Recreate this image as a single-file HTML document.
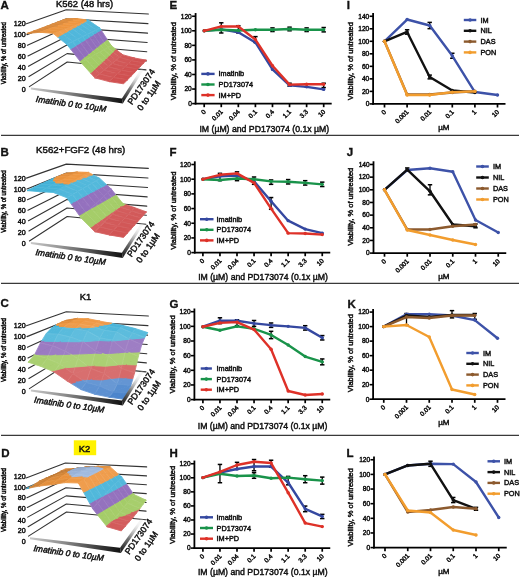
<!DOCTYPE html>
<html><head><meta charset="utf-8"><style>html,body{margin:0;padding:0;background:#fff;width:520px;height:577px;overflow:hidden}svg{display:block;will-change:transform}</style></head>
<body><svg width="520" height="577" viewBox="0 0 520 577" font-family='"Liberation Sans", sans-serif'><line x1="1.00" y1="135.40" x2="519.00" y2="135.40" stroke="#3a3a3a" stroke-width="1.3"/>
<line x1="1.00" y1="283.40" x2="519.00" y2="283.40" stroke="#3a3a3a" stroke-width="1.3"/>
<line x1="1.00" y1="435.40" x2="519.00" y2="435.40" stroke="#3a3a3a" stroke-width="1.3"/>
<line x1="195.60" y1="13.04" x2="195.60" y2="104.50" stroke="#000" stroke-width="1.8"/>
<line x1="194.70" y1="103.60" x2="331.69" y2="103.60" stroke="#000" stroke-width="1.8"/>
<line x1="192.10" y1="103.60" x2="195.60" y2="103.60" stroke="#000" stroke-width="1.6"/>
<text x="191.80" y="105.90" font-size="6.6" text-anchor="end" fill="#111" stroke="#111" stroke-width="0.45">0</text>
<line x1="192.10" y1="89.04" x2="195.60" y2="89.04" stroke="#000" stroke-width="1.6"/>
<text x="191.80" y="91.34" font-size="6.6" text-anchor="end" fill="#111" stroke="#111" stroke-width="0.45">20</text>
<line x1="192.10" y1="74.48" x2="195.60" y2="74.48" stroke="#000" stroke-width="1.6"/>
<text x="191.80" y="76.78" font-size="6.6" text-anchor="end" fill="#111" stroke="#111" stroke-width="0.45">40</text>
<line x1="192.10" y1="59.92" x2="195.60" y2="59.92" stroke="#000" stroke-width="1.6"/>
<text x="191.80" y="62.22" font-size="6.6" text-anchor="end" fill="#111" stroke="#111" stroke-width="0.45">60</text>
<line x1="192.10" y1="45.36" x2="195.60" y2="45.36" stroke="#000" stroke-width="1.6"/>
<text x="191.80" y="47.66" font-size="6.6" text-anchor="end" fill="#111" stroke="#111" stroke-width="0.45">80</text>
<line x1="192.10" y1="30.80" x2="195.60" y2="30.80" stroke="#000" stroke-width="1.6"/>
<text x="191.80" y="33.10" font-size="6.6" text-anchor="end" fill="#111" stroke="#111" stroke-width="0.45">100</text>
<line x1="192.10" y1="16.24" x2="195.60" y2="16.24" stroke="#000" stroke-width="1.6"/>
<text x="191.80" y="18.54" font-size="6.6" text-anchor="end" fill="#111" stroke="#111" stroke-width="0.45">120</text>
<line x1="204.20" y1="103.60" x2="204.20" y2="107.20" stroke="#000" stroke-width="1.7"/>
<text x="206.20" y="112.20" font-size="6.4" text-anchor="end" fill="#111" stroke="#111" stroke-width="0.45" transform="rotate(-45 206.20 112.20)">0</text>
<line x1="221.27" y1="103.60" x2="221.27" y2="107.20" stroke="#000" stroke-width="1.7"/>
<text x="223.27" y="112.20" font-size="6.4" text-anchor="end" fill="#111" stroke="#111" stroke-width="0.45" transform="rotate(-45 223.27 112.20)">0.01</text>
<line x1="238.34" y1="103.60" x2="238.34" y2="107.20" stroke="#000" stroke-width="1.7"/>
<text x="240.34" y="112.20" font-size="6.4" text-anchor="end" fill="#111" stroke="#111" stroke-width="0.45" transform="rotate(-45 240.34 112.20)">0.04</text>
<line x1="255.41" y1="103.60" x2="255.41" y2="107.20" stroke="#000" stroke-width="1.7"/>
<text x="257.41" y="112.20" font-size="6.4" text-anchor="end" fill="#111" stroke="#111" stroke-width="0.45" transform="rotate(-45 257.41 112.20)">0.1</text>
<line x1="272.48" y1="103.60" x2="272.48" y2="107.20" stroke="#000" stroke-width="1.7"/>
<text x="274.48" y="112.20" font-size="6.4" text-anchor="end" fill="#111" stroke="#111" stroke-width="0.45" transform="rotate(-45 274.48 112.20)">0.4</text>
<line x1="289.55" y1="103.60" x2="289.55" y2="107.20" stroke="#000" stroke-width="1.7"/>
<text x="291.55" y="112.20" font-size="6.4" text-anchor="end" fill="#111" stroke="#111" stroke-width="0.45" transform="rotate(-45 291.55 112.20)">1.1</text>
<line x1="306.62" y1="103.60" x2="306.62" y2="107.20" stroke="#000" stroke-width="1.7"/>
<text x="308.62" y="112.20" font-size="6.4" text-anchor="end" fill="#111" stroke="#111" stroke-width="0.45" transform="rotate(-45 308.62 112.20)">3.3</text>
<line x1="323.69" y1="103.60" x2="323.69" y2="107.20" stroke="#000" stroke-width="1.7"/>
<text x="325.69" y="112.20" font-size="6.4" text-anchor="end" fill="#111" stroke="#111" stroke-width="0.45" transform="rotate(-45 325.69 112.20)">10</text>
<text x="175.80" y="61.10" font-size="7.5" text-anchor="middle" fill="#111" stroke="#111" stroke-width="0.45" transform="rotate(-90 175.80 61.10)">Viability, % of untreated</text>
<text x="264.30" y="132.00" font-size="8.7" text-anchor="middle" fill="#111" stroke="#111" stroke-width="0.45">IM (µM) and PD173074 (0.1x µM)</text>
<text x="169.60" y="9.20" font-size="11.5" text-anchor="start" font-weight="bold" fill="#111" stroke="#111" stroke-width="0.35">E</text>
<line x1="221.27" y1="22.79" x2="221.27" y2="32.98" stroke="#000" stroke-width="1.3"/>
<line x1="219.07" y1="22.79" x2="223.47" y2="22.79" stroke="#000" stroke-width="1.5"/>
<line x1="219.07" y1="32.98" x2="223.47" y2="32.98" stroke="#000" stroke-width="1.5"/>
<line x1="238.34" y1="25.70" x2="238.34" y2="32.98" stroke="#000" stroke-width="1.3"/>
<line x1="236.14" y1="25.70" x2="240.54" y2="25.70" stroke="#000" stroke-width="1.5"/>
<line x1="236.14" y1="32.98" x2="240.54" y2="32.98" stroke="#000" stroke-width="1.5"/>
<line x1="255.41" y1="36.62" x2="255.41" y2="42.45" stroke="#000" stroke-width="1.3"/>
<line x1="253.21" y1="36.62" x2="257.61" y2="36.62" stroke="#000" stroke-width="1.5"/>
<line x1="253.21" y1="42.45" x2="257.61" y2="42.45" stroke="#000" stroke-width="1.5"/>
<line x1="289.55" y1="83.22" x2="289.55" y2="86.13" stroke="#000" stroke-width="1.3"/>
<line x1="287.35" y1="83.22" x2="291.75" y2="83.22" stroke="#000" stroke-width="1.5"/>
<line x1="287.35" y1="86.13" x2="291.75" y2="86.13" stroke="#000" stroke-width="1.5"/>
<line x1="306.62" y1="83.94" x2="306.62" y2="86.86" stroke="#000" stroke-width="1.3"/>
<line x1="304.42" y1="83.94" x2="308.82" y2="83.94" stroke="#000" stroke-width="1.5"/>
<line x1="304.42" y1="86.86" x2="308.82" y2="86.86" stroke="#000" stroke-width="1.5"/>
<line x1="323.69" y1="83.22" x2="323.69" y2="87.58" stroke="#000" stroke-width="1.3"/>
<line x1="321.49" y1="83.22" x2="325.89" y2="83.22" stroke="#000" stroke-width="1.5"/>
<line x1="321.49" y1="87.58" x2="325.89" y2="87.58" stroke="#000" stroke-width="1.5"/>
<line x1="272.48" y1="27.89" x2="272.48" y2="31.53" stroke="#000" stroke-width="1.3"/>
<line x1="270.28" y1="27.89" x2="274.68" y2="27.89" stroke="#000" stroke-width="1.5"/>
<line x1="270.28" y1="31.53" x2="274.68" y2="31.53" stroke="#000" stroke-width="1.5"/>
<line x1="289.55" y1="27.16" x2="289.55" y2="30.80" stroke="#000" stroke-width="1.3"/>
<line x1="287.35" y1="27.16" x2="291.75" y2="27.16" stroke="#000" stroke-width="1.5"/>
<line x1="287.35" y1="30.80" x2="291.75" y2="30.80" stroke="#000" stroke-width="1.5"/>
<line x1="306.62" y1="27.89" x2="306.62" y2="31.53" stroke="#000" stroke-width="1.3"/>
<line x1="304.42" y1="27.89" x2="308.82" y2="27.89" stroke="#000" stroke-width="1.5"/>
<line x1="304.42" y1="31.53" x2="308.82" y2="31.53" stroke="#000" stroke-width="1.5"/>
<line x1="323.69" y1="27.52" x2="323.69" y2="31.89" stroke="#000" stroke-width="1.3"/>
<line x1="321.49" y1="27.52" x2="325.89" y2="27.52" stroke="#000" stroke-width="1.5"/>
<line x1="321.49" y1="31.89" x2="325.89" y2="31.89" stroke="#000" stroke-width="1.5"/>
<polyline points="204.20,30.80 221.27,29.34 238.34,32.26 255.41,42.45 272.48,69.38 289.55,85.40 306.62,86.86 323.69,89.40" fill="none" stroke="#3548a0" stroke-width="2.4" stroke-linejoin="round" stroke-linecap="round"/>
<circle cx="204.20" cy="30.80" r="1.7" fill="#3548a0"/>
<circle cx="221.27" cy="29.34" r="1.7" fill="#3548a0"/>
<circle cx="238.34" cy="32.26" r="1.7" fill="#3548a0"/>
<circle cx="255.41" cy="42.45" r="1.7" fill="#3548a0"/>
<circle cx="272.48" cy="69.38" r="1.7" fill="#3548a0"/>
<circle cx="289.55" cy="85.40" r="1.7" fill="#3548a0"/>
<circle cx="306.62" cy="86.86" r="1.7" fill="#3548a0"/>
<circle cx="323.69" cy="89.40" r="1.7" fill="#3548a0"/>
<polyline points="204.20,30.80 221.27,29.71 238.34,30.44 255.41,29.71 272.48,29.71 289.55,28.98 306.62,29.71 323.69,29.71" fill="none" stroke="#19934a" stroke-width="2.4" stroke-linejoin="round" stroke-linecap="round"/>
<circle cx="204.20" cy="30.80" r="1.7" fill="#19934a"/>
<circle cx="221.27" cy="29.71" r="1.7" fill="#19934a"/>
<circle cx="238.34" cy="30.44" r="1.7" fill="#19934a"/>
<circle cx="255.41" cy="29.71" r="1.7" fill="#19934a"/>
<circle cx="272.48" cy="29.71" r="1.7" fill="#19934a"/>
<circle cx="289.55" cy="28.98" r="1.7" fill="#19934a"/>
<circle cx="306.62" cy="29.71" r="1.7" fill="#19934a"/>
<circle cx="323.69" cy="29.71" r="1.7" fill="#19934a"/>
<polyline points="204.20,30.80 221.27,26.43 238.34,26.43 255.41,39.54 272.48,65.74 289.55,84.67 306.62,84.31 323.69,84.31" fill="none" stroke="#de3128" stroke-width="2.4" stroke-linejoin="round" stroke-linecap="round"/>
<circle cx="204.20" cy="30.80" r="1.7" fill="#de3128"/>
<circle cx="221.27" cy="26.43" r="1.7" fill="#de3128"/>
<circle cx="238.34" cy="26.43" r="1.7" fill="#de3128"/>
<circle cx="255.41" cy="39.54" r="1.7" fill="#de3128"/>
<circle cx="272.48" cy="65.74" r="1.7" fill="#de3128"/>
<circle cx="289.55" cy="84.67" r="1.7" fill="#de3128"/>
<circle cx="306.62" cy="84.31" r="1.7" fill="#de3128"/>
<circle cx="323.69" cy="84.31" r="1.7" fill="#de3128"/>
<line x1="201.30" y1="73.90" x2="214.60" y2="73.90" stroke="#3548a0" stroke-width="2.4"/>
<circle cx="207.95" cy="73.90" r="1.8" fill="#3548a0"/>
<text x="218.60" y="76.40" font-size="7.3" text-anchor="start" fill="#111" stroke="#111" stroke-width="0.45">Imatinib</text>
<line x1="201.30" y1="84.50" x2="214.60" y2="84.50" stroke="#19934a" stroke-width="2.4"/>
<circle cx="207.95" cy="84.50" r="1.8" fill="#19934a"/>
<text x="218.60" y="87.00" font-size="7.3" text-anchor="start" fill="#111" stroke="#111" stroke-width="0.45">PD173074</text>
<line x1="201.30" y1="95.10" x2="214.60" y2="95.10" stroke="#de3128" stroke-width="2.4"/>
<circle cx="207.95" cy="95.10" r="1.8" fill="#de3128"/>
<text x="218.60" y="97.60" font-size="7.3" text-anchor="start" fill="#111" stroke="#111" stroke-width="0.45">IM+PD</text>
<line x1="194.80" y1="161.32" x2="194.80" y2="253.50" stroke="#000" stroke-width="1.8"/>
<line x1="193.90" y1="252.60" x2="330.25" y2="252.60" stroke="#000" stroke-width="1.8"/>
<line x1="191.30" y1="252.60" x2="194.80" y2="252.60" stroke="#000" stroke-width="1.6"/>
<text x="191.00" y="254.90" font-size="6.6" text-anchor="end" fill="#111" stroke="#111" stroke-width="0.45">0</text>
<line x1="191.30" y1="237.92" x2="194.80" y2="237.92" stroke="#000" stroke-width="1.6"/>
<text x="191.00" y="240.22" font-size="6.6" text-anchor="end" fill="#111" stroke="#111" stroke-width="0.45">20</text>
<line x1="191.30" y1="223.24" x2="194.80" y2="223.24" stroke="#000" stroke-width="1.6"/>
<text x="191.00" y="225.54" font-size="6.6" text-anchor="end" fill="#111" stroke="#111" stroke-width="0.45">40</text>
<line x1="191.30" y1="208.56" x2="194.80" y2="208.56" stroke="#000" stroke-width="1.6"/>
<text x="191.00" y="210.86" font-size="6.6" text-anchor="end" fill="#111" stroke="#111" stroke-width="0.45">60</text>
<line x1="191.30" y1="193.88" x2="194.80" y2="193.88" stroke="#000" stroke-width="1.6"/>
<text x="191.00" y="196.18" font-size="6.6" text-anchor="end" fill="#111" stroke="#111" stroke-width="0.45">80</text>
<line x1="191.30" y1="179.20" x2="194.80" y2="179.20" stroke="#000" stroke-width="1.6"/>
<text x="191.00" y="181.50" font-size="6.6" text-anchor="end" fill="#111" stroke="#111" stroke-width="0.45">100</text>
<line x1="191.30" y1="164.52" x2="194.80" y2="164.52" stroke="#000" stroke-width="1.6"/>
<text x="191.00" y="166.82" font-size="6.6" text-anchor="end" fill="#111" stroke="#111" stroke-width="0.45">120</text>
<line x1="202.90" y1="252.60" x2="202.90" y2="256.20" stroke="#000" stroke-width="1.7"/>
<text x="204.90" y="261.20" font-size="6.4" text-anchor="end" fill="#111" stroke="#111" stroke-width="0.45" transform="rotate(-45 204.90 261.20)">0</text>
<line x1="219.95" y1="252.60" x2="219.95" y2="256.20" stroke="#000" stroke-width="1.7"/>
<text x="221.95" y="261.20" font-size="6.4" text-anchor="end" fill="#111" stroke="#111" stroke-width="0.45" transform="rotate(-45 221.95 261.20)">0.01</text>
<line x1="237.00" y1="252.60" x2="237.00" y2="256.20" stroke="#000" stroke-width="1.7"/>
<text x="239.00" y="261.20" font-size="6.4" text-anchor="end" fill="#111" stroke="#111" stroke-width="0.45" transform="rotate(-45 239.00 261.20)">0.04</text>
<line x1="254.05" y1="252.60" x2="254.05" y2="256.20" stroke="#000" stroke-width="1.7"/>
<text x="256.05" y="261.20" font-size="6.4" text-anchor="end" fill="#111" stroke="#111" stroke-width="0.45" transform="rotate(-45 256.05 261.20)">0.1</text>
<line x1="271.10" y1="252.60" x2="271.10" y2="256.20" stroke="#000" stroke-width="1.7"/>
<text x="273.10" y="261.20" font-size="6.4" text-anchor="end" fill="#111" stroke="#111" stroke-width="0.45" transform="rotate(-45 273.10 261.20)">0.4</text>
<line x1="288.15" y1="252.60" x2="288.15" y2="256.20" stroke="#000" stroke-width="1.7"/>
<text x="290.15" y="261.20" font-size="6.4" text-anchor="end" fill="#111" stroke="#111" stroke-width="0.45" transform="rotate(-45 290.15 261.20)">1.1</text>
<line x1="305.20" y1="252.60" x2="305.20" y2="256.20" stroke="#000" stroke-width="1.7"/>
<text x="307.20" y="261.20" font-size="6.4" text-anchor="end" fill="#111" stroke="#111" stroke-width="0.45" transform="rotate(-45 307.20 261.20)">3.3</text>
<line x1="322.25" y1="252.60" x2="322.25" y2="256.20" stroke="#000" stroke-width="1.7"/>
<text x="324.25" y="261.20" font-size="6.4" text-anchor="end" fill="#111" stroke="#111" stroke-width="0.45" transform="rotate(-45 324.25 261.20)">10</text>
<text x="176.00" y="210.70" font-size="7.5" text-anchor="middle" fill="#111" stroke="#111" stroke-width="0.45" transform="rotate(-90 176.00 210.70)">Viability, % of untreated</text>
<text x="263.00" y="280.00" font-size="8.7" text-anchor="middle" fill="#111" stroke="#111" stroke-width="0.45">IM (µM) and PD173074 (0.1x µM)</text>
<text x="169.60" y="156.30" font-size="11.5" text-anchor="start" font-weight="bold" fill="#111" stroke="#111" stroke-width="0.35">F</text>
<line x1="219.95" y1="173.33" x2="219.95" y2="180.67" stroke="#000" stroke-width="1.3"/>
<line x1="217.75" y1="173.33" x2="222.15" y2="173.33" stroke="#000" stroke-width="1.5"/>
<line x1="217.75" y1="180.67" x2="222.15" y2="180.67" stroke="#000" stroke-width="1.5"/>
<line x1="237.00" y1="171.86" x2="237.00" y2="180.67" stroke="#000" stroke-width="1.3"/>
<line x1="234.80" y1="171.86" x2="239.20" y2="171.86" stroke="#000" stroke-width="1.5"/>
<line x1="234.80" y1="180.67" x2="239.20" y2="180.67" stroke="#000" stroke-width="1.5"/>
<line x1="254.05" y1="177.00" x2="254.05" y2="184.34" stroke="#000" stroke-width="1.3"/>
<line x1="251.85" y1="177.00" x2="256.25" y2="177.00" stroke="#000" stroke-width="1.5"/>
<line x1="251.85" y1="184.34" x2="256.25" y2="184.34" stroke="#000" stroke-width="1.5"/>
<line x1="271.10" y1="197.55" x2="271.10" y2="209.29" stroke="#000" stroke-width="1.3"/>
<line x1="268.90" y1="197.55" x2="273.30" y2="197.55" stroke="#000" stroke-width="1.5"/>
<line x1="268.90" y1="209.29" x2="273.30" y2="209.29" stroke="#000" stroke-width="1.5"/>
<line x1="271.10" y1="179.93" x2="271.10" y2="184.34" stroke="#000" stroke-width="1.3"/>
<line x1="268.90" y1="179.93" x2="273.30" y2="179.93" stroke="#000" stroke-width="1.5"/>
<line x1="268.90" y1="184.34" x2="273.30" y2="184.34" stroke="#000" stroke-width="1.5"/>
<line x1="288.15" y1="179.57" x2="288.15" y2="183.97" stroke="#000" stroke-width="1.3"/>
<line x1="285.95" y1="179.57" x2="290.35" y2="179.57" stroke="#000" stroke-width="1.5"/>
<line x1="285.95" y1="183.97" x2="290.35" y2="183.97" stroke="#000" stroke-width="1.5"/>
<line x1="305.20" y1="180.67" x2="305.20" y2="185.07" stroke="#000" stroke-width="1.3"/>
<line x1="303.00" y1="180.67" x2="307.40" y2="180.67" stroke="#000" stroke-width="1.5"/>
<line x1="303.00" y1="185.07" x2="307.40" y2="185.07" stroke="#000" stroke-width="1.5"/>
<line x1="322.25" y1="182.14" x2="322.25" y2="186.54" stroke="#000" stroke-width="1.3"/>
<line x1="320.05" y1="182.14" x2="324.45" y2="182.14" stroke="#000" stroke-width="1.5"/>
<line x1="320.05" y1="186.54" x2="324.45" y2="186.54" stroke="#000" stroke-width="1.5"/>
<polyline points="202.90,179.20 219.95,176.26 237.00,175.53 254.05,181.40 271.10,201.22 288.15,220.67 305.20,229.11 322.25,233.15" fill="none" stroke="#3548a0" stroke-width="2.4" stroke-linejoin="round" stroke-linecap="round"/>
<circle cx="202.90" cy="179.20" r="1.7" fill="#3548a0"/>
<circle cx="219.95" cy="176.26" r="1.7" fill="#3548a0"/>
<circle cx="237.00" cy="175.53" r="1.7" fill="#3548a0"/>
<circle cx="254.05" cy="181.40" r="1.7" fill="#3548a0"/>
<circle cx="271.10" cy="201.22" r="1.7" fill="#3548a0"/>
<circle cx="288.15" cy="220.67" r="1.7" fill="#3548a0"/>
<circle cx="305.20" cy="229.11" r="1.7" fill="#3548a0"/>
<circle cx="322.25" cy="233.15" r="1.7" fill="#3548a0"/>
<polyline points="202.90,179.20 219.95,179.93 237.00,178.47 254.05,179.20 271.10,181.40 288.15,181.77 305.20,182.87 322.25,184.34" fill="none" stroke="#19934a" stroke-width="2.4" stroke-linejoin="round" stroke-linecap="round"/>
<circle cx="202.90" cy="179.20" r="1.7" fill="#19934a"/>
<circle cx="219.95" cy="179.93" r="1.7" fill="#19934a"/>
<circle cx="237.00" cy="178.47" r="1.7" fill="#19934a"/>
<circle cx="254.05" cy="179.20" r="1.7" fill="#19934a"/>
<circle cx="271.10" cy="181.40" r="1.7" fill="#19934a"/>
<circle cx="288.15" cy="181.77" r="1.7" fill="#19934a"/>
<circle cx="305.20" cy="182.87" r="1.7" fill="#19934a"/>
<circle cx="322.25" cy="184.34" r="1.7" fill="#19934a"/>
<polyline points="202.90,179.20 219.95,174.80 237.00,173.33 254.05,182.87 271.10,208.56 288.15,233.15 305.20,233.52 322.25,234.62" fill="none" stroke="#de3128" stroke-width="2.4" stroke-linejoin="round" stroke-linecap="round"/>
<circle cx="202.90" cy="179.20" r="1.7" fill="#de3128"/>
<circle cx="219.95" cy="174.80" r="1.7" fill="#de3128"/>
<circle cx="237.00" cy="173.33" r="1.7" fill="#de3128"/>
<circle cx="254.05" cy="182.87" r="1.7" fill="#de3128"/>
<circle cx="271.10" cy="208.56" r="1.7" fill="#de3128"/>
<circle cx="288.15" cy="233.15" r="1.7" fill="#de3128"/>
<circle cx="305.20" cy="233.52" r="1.7" fill="#de3128"/>
<circle cx="322.25" cy="234.62" r="1.7" fill="#de3128"/>
<line x1="200.00" y1="219.20" x2="213.50" y2="219.20" stroke="#3548a0" stroke-width="2.4"/>
<circle cx="206.75" cy="219.20" r="1.8" fill="#3548a0"/>
<text x="216.60" y="221.70" font-size="7.3" text-anchor="start" fill="#111" stroke="#111" stroke-width="0.45">Imatinib</text>
<line x1="200.00" y1="229.80" x2="213.50" y2="229.80" stroke="#19934a" stroke-width="2.4"/>
<circle cx="206.75" cy="229.80" r="1.8" fill="#19934a"/>
<text x="216.60" y="232.30" font-size="7.3" text-anchor="start" fill="#111" stroke="#111" stroke-width="0.45">PD173074</text>
<line x1="200.00" y1="240.40" x2="213.50" y2="240.40" stroke="#de3128" stroke-width="2.4"/>
<circle cx="206.75" cy="240.40" r="1.8" fill="#de3128"/>
<text x="216.60" y="242.90" font-size="7.3" text-anchor="start" fill="#111" stroke="#111" stroke-width="0.45">IM+PD</text>
<line x1="194.40" y1="308.50" x2="194.40" y2="400.50" stroke="#000" stroke-width="1.8"/>
<line x1="193.50" y1="399.60" x2="330.25" y2="399.60" stroke="#000" stroke-width="1.8"/>
<line x1="190.90" y1="399.60" x2="194.40" y2="399.60" stroke="#000" stroke-width="1.6"/>
<text x="190.60" y="401.90" font-size="6.6" text-anchor="end" fill="#111" stroke="#111" stroke-width="0.45">0</text>
<line x1="190.90" y1="384.95" x2="194.40" y2="384.95" stroke="#000" stroke-width="1.6"/>
<text x="190.60" y="387.25" font-size="6.6" text-anchor="end" fill="#111" stroke="#111" stroke-width="0.45">20</text>
<line x1="190.90" y1="370.30" x2="194.40" y2="370.30" stroke="#000" stroke-width="1.6"/>
<text x="190.60" y="372.60" font-size="6.6" text-anchor="end" fill="#111" stroke="#111" stroke-width="0.45">40</text>
<line x1="190.90" y1="355.65" x2="194.40" y2="355.65" stroke="#000" stroke-width="1.6"/>
<text x="190.60" y="357.95" font-size="6.6" text-anchor="end" fill="#111" stroke="#111" stroke-width="0.45">60</text>
<line x1="190.90" y1="341.00" x2="194.40" y2="341.00" stroke="#000" stroke-width="1.6"/>
<text x="190.60" y="343.30" font-size="6.6" text-anchor="end" fill="#111" stroke="#111" stroke-width="0.45">80</text>
<line x1="190.90" y1="326.35" x2="194.40" y2="326.35" stroke="#000" stroke-width="1.6"/>
<text x="190.60" y="328.65" font-size="6.6" text-anchor="end" fill="#111" stroke="#111" stroke-width="0.45">100</text>
<line x1="190.90" y1="311.70" x2="194.40" y2="311.70" stroke="#000" stroke-width="1.6"/>
<text x="190.60" y="314.00" font-size="6.6" text-anchor="end" fill="#111" stroke="#111" stroke-width="0.45">120</text>
<line x1="202.90" y1="399.60" x2="202.90" y2="403.20" stroke="#000" stroke-width="1.7"/>
<text x="204.90" y="408.20" font-size="6.4" text-anchor="end" fill="#111" stroke="#111" stroke-width="0.45" transform="rotate(-45 204.90 408.20)">0</text>
<line x1="219.95" y1="399.60" x2="219.95" y2="403.20" stroke="#000" stroke-width="1.7"/>
<text x="221.95" y="408.20" font-size="6.4" text-anchor="end" fill="#111" stroke="#111" stroke-width="0.45" transform="rotate(-45 221.95 408.20)">0.01</text>
<line x1="237.00" y1="399.60" x2="237.00" y2="403.20" stroke="#000" stroke-width="1.7"/>
<text x="239.00" y="408.20" font-size="6.4" text-anchor="end" fill="#111" stroke="#111" stroke-width="0.45" transform="rotate(-45 239.00 408.20)">0.04</text>
<line x1="254.05" y1="399.60" x2="254.05" y2="403.20" stroke="#000" stroke-width="1.7"/>
<text x="256.05" y="408.20" font-size="6.4" text-anchor="end" fill="#111" stroke="#111" stroke-width="0.45" transform="rotate(-45 256.05 408.20)">0.1</text>
<line x1="271.10" y1="399.60" x2="271.10" y2="403.20" stroke="#000" stroke-width="1.7"/>
<text x="273.10" y="408.20" font-size="6.4" text-anchor="end" fill="#111" stroke="#111" stroke-width="0.45" transform="rotate(-45 273.10 408.20)">0.4</text>
<line x1="288.15" y1="399.60" x2="288.15" y2="403.20" stroke="#000" stroke-width="1.7"/>
<text x="290.15" y="408.20" font-size="6.4" text-anchor="end" fill="#111" stroke="#111" stroke-width="0.45" transform="rotate(-45 290.15 408.20)">1.1</text>
<line x1="305.20" y1="399.60" x2="305.20" y2="403.20" stroke="#000" stroke-width="1.7"/>
<text x="307.20" y="408.20" font-size="6.4" text-anchor="end" fill="#111" stroke="#111" stroke-width="0.45" transform="rotate(-45 307.20 408.20)">3.3</text>
<line x1="322.25" y1="399.60" x2="322.25" y2="403.20" stroke="#000" stroke-width="1.7"/>
<text x="324.25" y="408.20" font-size="6.4" text-anchor="end" fill="#111" stroke="#111" stroke-width="0.45" transform="rotate(-45 324.25 408.20)">10</text>
<text x="175.00" y="354.40" font-size="7.5" text-anchor="middle" fill="#111" stroke="#111" stroke-width="0.45" transform="rotate(-90 175.00 354.40)">Viability, % of untreated</text>
<text x="262.60" y="428.50" font-size="8.7" text-anchor="middle" fill="#111" stroke="#111" stroke-width="0.45">IM (µM) and PD173074 (0.1x µM)</text>
<text x="169.60" y="307.50" font-size="11.5" text-anchor="start" font-weight="bold" fill="#111" stroke="#111" stroke-width="0.35">G</text>
<line x1="219.95" y1="317.78" x2="219.95" y2="323.64" stroke="#000" stroke-width="1.3"/>
<line x1="217.75" y1="317.78" x2="222.15" y2="317.78" stroke="#000" stroke-width="1.5"/>
<line x1="217.75" y1="323.64" x2="222.15" y2="323.64" stroke="#000" stroke-width="1.5"/>
<line x1="237.00" y1="319.76" x2="237.00" y2="325.62" stroke="#000" stroke-width="1.3"/>
<line x1="234.80" y1="319.76" x2="239.20" y2="319.76" stroke="#000" stroke-width="1.5"/>
<line x1="234.80" y1="325.62" x2="239.20" y2="325.62" stroke="#000" stroke-width="1.5"/>
<line x1="254.05" y1="320.49" x2="254.05" y2="326.35" stroke="#000" stroke-width="1.3"/>
<line x1="251.85" y1="320.49" x2="256.25" y2="320.49" stroke="#000" stroke-width="1.5"/>
<line x1="251.85" y1="326.35" x2="256.25" y2="326.35" stroke="#000" stroke-width="1.5"/>
<line x1="271.10" y1="322.98" x2="271.10" y2="327.38" stroke="#000" stroke-width="1.3"/>
<line x1="268.90" y1="322.98" x2="273.30" y2="322.98" stroke="#000" stroke-width="1.5"/>
<line x1="268.90" y1="327.38" x2="273.30" y2="327.38" stroke="#000" stroke-width="1.5"/>
<line x1="305.20" y1="325.69" x2="305.20" y2="330.09" stroke="#000" stroke-width="1.3"/>
<line x1="303.00" y1="325.69" x2="307.40" y2="325.69" stroke="#000" stroke-width="1.5"/>
<line x1="303.00" y1="330.09" x2="307.40" y2="330.09" stroke="#000" stroke-width="1.5"/>
<line x1="322.25" y1="335.58" x2="322.25" y2="339.97" stroke="#000" stroke-width="1.3"/>
<line x1="320.05" y1="335.58" x2="324.45" y2="335.58" stroke="#000" stroke-width="1.5"/>
<line x1="320.05" y1="339.97" x2="324.45" y2="339.97" stroke="#000" stroke-width="1.5"/>
<line x1="271.10" y1="331.33" x2="271.10" y2="338.66" stroke="#000" stroke-width="1.3"/>
<line x1="268.90" y1="331.33" x2="273.30" y2="331.33" stroke="#000" stroke-width="1.5"/>
<line x1="268.90" y1="338.66" x2="273.30" y2="338.66" stroke="#000" stroke-width="1.5"/>
<line x1="322.25" y1="358.95" x2="322.25" y2="364.81" stroke="#000" stroke-width="1.3"/>
<line x1="320.05" y1="358.95" x2="324.45" y2="358.95" stroke="#000" stroke-width="1.5"/>
<line x1="320.05" y1="364.81" x2="324.45" y2="364.81" stroke="#000" stroke-width="1.5"/>
<polyline points="202.90,326.72 219.95,320.71 237.00,320.71 254.05,323.42 271.10,325.18 288.15,326.35 305.20,327.89 322.25,337.78" fill="none" stroke="#3548a0" stroke-width="2.4" stroke-linejoin="round" stroke-linecap="round"/>
<circle cx="202.90" cy="326.72" r="1.7" fill="#3548a0"/>
<circle cx="219.95" cy="320.71" r="1.7" fill="#3548a0"/>
<circle cx="237.00" cy="320.71" r="1.7" fill="#3548a0"/>
<circle cx="254.05" cy="323.42" r="1.7" fill="#3548a0"/>
<circle cx="271.10" cy="325.18" r="1.7" fill="#3548a0"/>
<circle cx="288.15" cy="326.35" r="1.7" fill="#3548a0"/>
<circle cx="305.20" cy="327.89" r="1.7" fill="#3548a0"/>
<circle cx="322.25" cy="337.78" r="1.7" fill="#3548a0"/>
<polyline points="202.90,326.72 219.95,330.23 237.00,326.35 254.05,328.77 271.10,334.99 288.15,345.03 305.20,356.53 322.25,361.88" fill="none" stroke="#19934a" stroke-width="2.4" stroke-linejoin="round" stroke-linecap="round"/>
<circle cx="202.90" cy="326.72" r="1.7" fill="#19934a"/>
<circle cx="219.95" cy="330.23" r="1.7" fill="#19934a"/>
<circle cx="237.00" cy="326.35" r="1.7" fill="#19934a"/>
<circle cx="254.05" cy="328.77" r="1.7" fill="#19934a"/>
<circle cx="271.10" cy="334.99" r="1.7" fill="#19934a"/>
<circle cx="288.15" cy="345.03" r="1.7" fill="#19934a"/>
<circle cx="305.20" cy="356.53" r="1.7" fill="#19934a"/>
<circle cx="322.25" cy="361.88" r="1.7" fill="#19934a"/>
<polyline points="202.90,326.72 219.95,322.91 237.00,322.10 254.05,329.57 271.10,349.28 288.15,391.03 305.20,394.99 322.25,394.03" fill="none" stroke="#de3128" stroke-width="2.4" stroke-linejoin="round" stroke-linecap="round"/>
<circle cx="202.90" cy="326.72" r="1.7" fill="#de3128"/>
<circle cx="219.95" cy="322.91" r="1.7" fill="#de3128"/>
<circle cx="237.00" cy="322.10" r="1.7" fill="#de3128"/>
<circle cx="254.05" cy="329.57" r="1.7" fill="#de3128"/>
<circle cx="271.10" cy="349.28" r="1.7" fill="#de3128"/>
<circle cx="288.15" cy="391.03" r="1.7" fill="#de3128"/>
<circle cx="305.20" cy="394.99" r="1.7" fill="#de3128"/>
<circle cx="322.25" cy="394.03" r="1.7" fill="#de3128"/>
<line x1="200.70" y1="368.50" x2="211.90" y2="368.50" stroke="#3548a0" stroke-width="2.4"/>
<circle cx="206.30" cy="368.50" r="1.8" fill="#3548a0"/>
<text x="216.60" y="371.00" font-size="7.3" text-anchor="start" fill="#111" stroke="#111" stroke-width="0.45">Imatinib</text>
<line x1="200.70" y1="379.10" x2="211.90" y2="379.10" stroke="#19934a" stroke-width="2.4"/>
<circle cx="206.30" cy="379.10" r="1.8" fill="#19934a"/>
<text x="216.60" y="381.60" font-size="7.3" text-anchor="start" fill="#111" stroke="#111" stroke-width="0.45">PD173074</text>
<line x1="200.70" y1="389.70" x2="211.90" y2="389.70" stroke="#de3128" stroke-width="2.4"/>
<circle cx="206.30" cy="389.70" r="1.8" fill="#de3128"/>
<text x="216.60" y="392.20" font-size="7.3" text-anchor="start" fill="#111" stroke="#111" stroke-width="0.45">IM+PD</text>
<line x1="194.40" y1="460.54" x2="194.40" y2="549.00" stroke="#000" stroke-width="1.8"/>
<line x1="193.50" y1="548.10" x2="330.25" y2="548.10" stroke="#000" stroke-width="1.8"/>
<line x1="190.90" y1="548.10" x2="194.40" y2="548.10" stroke="#000" stroke-width="1.6"/>
<text x="190.60" y="550.40" font-size="6.6" text-anchor="end" fill="#111" stroke="#111" stroke-width="0.45">0</text>
<line x1="190.90" y1="534.04" x2="194.40" y2="534.04" stroke="#000" stroke-width="1.6"/>
<text x="190.60" y="536.34" font-size="6.6" text-anchor="end" fill="#111" stroke="#111" stroke-width="0.45">20</text>
<line x1="190.90" y1="519.98" x2="194.40" y2="519.98" stroke="#000" stroke-width="1.6"/>
<text x="190.60" y="522.28" font-size="6.6" text-anchor="end" fill="#111" stroke="#111" stroke-width="0.45">40</text>
<line x1="190.90" y1="505.92" x2="194.40" y2="505.92" stroke="#000" stroke-width="1.6"/>
<text x="190.60" y="508.22" font-size="6.6" text-anchor="end" fill="#111" stroke="#111" stroke-width="0.45">60</text>
<line x1="190.90" y1="491.86" x2="194.40" y2="491.86" stroke="#000" stroke-width="1.6"/>
<text x="190.60" y="494.16" font-size="6.6" text-anchor="end" fill="#111" stroke="#111" stroke-width="0.45">80</text>
<line x1="190.90" y1="477.80" x2="194.40" y2="477.80" stroke="#000" stroke-width="1.6"/>
<text x="190.60" y="480.10" font-size="6.6" text-anchor="end" fill="#111" stroke="#111" stroke-width="0.45">100</text>
<line x1="190.90" y1="463.74" x2="194.40" y2="463.74" stroke="#000" stroke-width="1.6"/>
<text x="190.60" y="466.04" font-size="6.6" text-anchor="end" fill="#111" stroke="#111" stroke-width="0.45">120</text>
<line x1="202.90" y1="548.10" x2="202.90" y2="551.70" stroke="#000" stroke-width="1.7"/>
<text x="204.90" y="556.70" font-size="6.4" text-anchor="end" fill="#111" stroke="#111" stroke-width="0.45" transform="rotate(-45 204.90 556.70)">0</text>
<line x1="219.95" y1="548.10" x2="219.95" y2="551.70" stroke="#000" stroke-width="1.7"/>
<text x="221.95" y="556.70" font-size="6.4" text-anchor="end" fill="#111" stroke="#111" stroke-width="0.45" transform="rotate(-45 221.95 556.70)">0.01</text>
<line x1="237.00" y1="548.10" x2="237.00" y2="551.70" stroke="#000" stroke-width="1.7"/>
<text x="239.00" y="556.70" font-size="6.4" text-anchor="end" fill="#111" stroke="#111" stroke-width="0.45" transform="rotate(-45 239.00 556.70)">0.04</text>
<line x1="254.05" y1="548.10" x2="254.05" y2="551.70" stroke="#000" stroke-width="1.7"/>
<text x="256.05" y="556.70" font-size="6.4" text-anchor="end" fill="#111" stroke="#111" stroke-width="0.45" transform="rotate(-45 256.05 556.70)">0.1</text>
<line x1="271.10" y1="548.10" x2="271.10" y2="551.70" stroke="#000" stroke-width="1.7"/>
<text x="273.10" y="556.70" font-size="6.4" text-anchor="end" fill="#111" stroke="#111" stroke-width="0.45" transform="rotate(-45 273.10 556.70)">0.4</text>
<line x1="288.15" y1="548.10" x2="288.15" y2="551.70" stroke="#000" stroke-width="1.7"/>
<text x="290.15" y="556.70" font-size="6.4" text-anchor="end" fill="#111" stroke="#111" stroke-width="0.45" transform="rotate(-45 290.15 556.70)">1.1</text>
<line x1="305.20" y1="548.10" x2="305.20" y2="551.70" stroke="#000" stroke-width="1.7"/>
<text x="307.20" y="556.70" font-size="6.4" text-anchor="end" fill="#111" stroke="#111" stroke-width="0.45" transform="rotate(-45 307.20 556.70)">3.3</text>
<line x1="322.25" y1="548.10" x2="322.25" y2="551.70" stroke="#000" stroke-width="1.7"/>
<text x="324.25" y="556.70" font-size="6.4" text-anchor="end" fill="#111" stroke="#111" stroke-width="0.45" transform="rotate(-45 324.25 556.70)">10</text>
<text x="175.20" y="504.90" font-size="7.5" text-anchor="middle" fill="#111" stroke="#111" stroke-width="0.45" transform="rotate(-90 175.20 504.90)">Viability, % of untreated</text>
<text x="262.80" y="575.30" font-size="8.7" text-anchor="middle" fill="#111" stroke="#111" stroke-width="0.45">IM (µM) and PD173074 (0.1x µM)</text>
<text x="169.40" y="456.70" font-size="11.5" text-anchor="start" font-weight="bold" fill="#111" stroke="#111" stroke-width="0.35">H</text>
<line x1="219.95" y1="464.44" x2="219.95" y2="482.72" stroke="#000" stroke-width="1.3"/>
<line x1="217.75" y1="464.44" x2="222.15" y2="464.44" stroke="#000" stroke-width="1.5"/>
<line x1="217.75" y1="482.72" x2="222.15" y2="482.72" stroke="#000" stroke-width="1.5"/>
<line x1="237.00" y1="462.33" x2="237.00" y2="469.36" stroke="#000" stroke-width="1.3"/>
<line x1="234.80" y1="462.33" x2="239.20" y2="462.33" stroke="#000" stroke-width="1.5"/>
<line x1="234.80" y1="469.36" x2="239.20" y2="469.36" stroke="#000" stroke-width="1.5"/>
<line x1="254.05" y1="459.52" x2="254.05" y2="470.77" stroke="#000" stroke-width="1.3"/>
<line x1="251.85" y1="459.52" x2="256.25" y2="459.52" stroke="#000" stroke-width="1.5"/>
<line x1="251.85" y1="470.77" x2="256.25" y2="470.77" stroke="#000" stroke-width="1.5"/>
<line x1="254.05" y1="472.67" x2="254.05" y2="478.29" stroke="#000" stroke-width="1.3"/>
<line x1="251.85" y1="472.67" x2="256.25" y2="472.67" stroke="#000" stroke-width="1.5"/>
<line x1="251.85" y1="478.29" x2="256.25" y2="478.29" stroke="#000" stroke-width="1.5"/>
<line x1="271.10" y1="460.23" x2="271.10" y2="467.25" stroke="#000" stroke-width="1.3"/>
<line x1="268.90" y1="460.23" x2="273.30" y2="460.23" stroke="#000" stroke-width="1.5"/>
<line x1="268.90" y1="467.25" x2="273.30" y2="467.25" stroke="#000" stroke-width="1.5"/>
<line x1="288.15" y1="476.39" x2="288.15" y2="484.83" stroke="#000" stroke-width="1.3"/>
<line x1="285.95" y1="476.39" x2="290.35" y2="476.39" stroke="#000" stroke-width="1.5"/>
<line x1="285.95" y1="484.83" x2="290.35" y2="484.83" stroke="#000" stroke-width="1.5"/>
<line x1="305.20" y1="475.69" x2="305.20" y2="482.72" stroke="#000" stroke-width="1.3"/>
<line x1="303.00" y1="475.69" x2="307.40" y2="475.69" stroke="#000" stroke-width="1.5"/>
<line x1="303.00" y1="482.72" x2="307.40" y2="482.72" stroke="#000" stroke-width="1.5"/>
<line x1="305.20" y1="506.06" x2="305.20" y2="511.68" stroke="#000" stroke-width="1.3"/>
<line x1="303.00" y1="506.06" x2="307.40" y2="506.06" stroke="#000" stroke-width="1.5"/>
<line x1="303.00" y1="511.68" x2="307.40" y2="511.68" stroke="#000" stroke-width="1.5"/>
<line x1="322.25" y1="477.10" x2="322.25" y2="484.13" stroke="#000" stroke-width="1.3"/>
<line x1="320.05" y1="477.10" x2="324.45" y2="477.10" stroke="#000" stroke-width="1.5"/>
<line x1="320.05" y1="484.13" x2="324.45" y2="484.13" stroke="#000" stroke-width="1.5"/>
<line x1="322.25" y1="514.36" x2="322.25" y2="518.57" stroke="#000" stroke-width="1.3"/>
<line x1="320.05" y1="514.36" x2="324.45" y2="514.36" stroke="#000" stroke-width="1.5"/>
<line x1="320.05" y1="518.57" x2="324.45" y2="518.57" stroke="#000" stroke-width="1.5"/>
<polyline points="202.90,477.59 219.95,472.53 237.00,469.01 254.05,466.55 271.10,466.55 288.15,482.51 305.20,508.87 322.25,516.47" fill="none" stroke="#3548a0" stroke-width="2.4" stroke-linejoin="round" stroke-linecap="round"/>
<circle cx="202.90" cy="477.59" r="1.7" fill="#3548a0"/>
<circle cx="219.95" cy="472.53" r="1.7" fill="#3548a0"/>
<circle cx="237.00" cy="469.01" r="1.7" fill="#3548a0"/>
<circle cx="254.05" cy="466.55" r="1.7" fill="#3548a0"/>
<circle cx="271.10" cy="466.55" r="1.7" fill="#3548a0"/>
<circle cx="288.15" cy="482.51" r="1.7" fill="#3548a0"/>
<circle cx="305.20" cy="508.87" r="1.7" fill="#3548a0"/>
<circle cx="322.25" cy="516.47" r="1.7" fill="#3548a0"/>
<polyline points="202.90,477.59 219.95,473.79 237.00,475.97 254.05,475.48 271.10,478.22 288.15,477.59 305.20,479.21 322.25,480.61" fill="none" stroke="#19934a" stroke-width="2.4" stroke-linejoin="round" stroke-linecap="round"/>
<circle cx="202.90" cy="477.59" r="1.7" fill="#19934a"/>
<circle cx="219.95" cy="473.79" r="1.7" fill="#19934a"/>
<circle cx="237.00" cy="475.97" r="1.7" fill="#19934a"/>
<circle cx="254.05" cy="475.48" r="1.7" fill="#19934a"/>
<circle cx="271.10" cy="478.22" r="1.7" fill="#19934a"/>
<circle cx="288.15" cy="477.59" r="1.7" fill="#19934a"/>
<circle cx="305.20" cy="479.21" r="1.7" fill="#19934a"/>
<circle cx="322.25" cy="480.61" r="1.7" fill="#19934a"/>
<polyline points="202.90,477.59 219.95,471.97 237.00,465.01 254.05,461.70 271.10,463.04 288.15,492.70 305.20,523.07 322.25,526.59" fill="none" stroke="#de3128" stroke-width="2.4" stroke-linejoin="round" stroke-linecap="round"/>
<circle cx="202.90" cy="477.59" r="1.7" fill="#de3128"/>
<circle cx="219.95" cy="471.97" r="1.7" fill="#de3128"/>
<circle cx="237.00" cy="465.01" r="1.7" fill="#de3128"/>
<circle cx="254.05" cy="461.70" r="1.7" fill="#de3128"/>
<circle cx="271.10" cy="463.04" r="1.7" fill="#de3128"/>
<circle cx="288.15" cy="492.70" r="1.7" fill="#de3128"/>
<circle cx="305.20" cy="523.07" r="1.7" fill="#de3128"/>
<circle cx="322.25" cy="526.59" r="1.7" fill="#de3128"/>
<line x1="200.00" y1="517.30" x2="213.00" y2="517.30" stroke="#3548a0" stroke-width="2.4"/>
<circle cx="206.50" cy="517.30" r="1.8" fill="#3548a0"/>
<text x="216.60" y="519.80" font-size="7.3" text-anchor="start" fill="#111" stroke="#111" stroke-width="0.45">Imatinib</text>
<line x1="200.00" y1="528.00" x2="213.00" y2="528.00" stroke="#19934a" stroke-width="2.4"/>
<circle cx="206.50" cy="528.00" r="1.8" fill="#19934a"/>
<text x="216.60" y="530.50" font-size="7.3" text-anchor="start" fill="#111" stroke="#111" stroke-width="0.45">PD173074</text>
<line x1="200.00" y1="538.70" x2="213.00" y2="538.70" stroke="#de3128" stroke-width="2.4"/>
<circle cx="206.50" cy="538.70" r="1.8" fill="#de3128"/>
<text x="216.60" y="541.20" font-size="7.3" text-anchor="start" fill="#111" stroke="#111" stroke-width="0.45">IM+PD</text>
<line x1="373.10" y1="13.06" x2="373.10" y2="104.80" stroke="#000" stroke-width="1.8"/>
<line x1="372.20" y1="103.90" x2="505.50" y2="103.90" stroke="#000" stroke-width="1.8"/>
<line x1="369.60" y1="103.90" x2="373.10" y2="103.90" stroke="#000" stroke-width="1.6"/>
<text x="369.30" y="106.20" font-size="6.6" text-anchor="end" fill="#111" stroke="#111" stroke-width="0.45">0</text>
<line x1="369.60" y1="91.38" x2="373.10" y2="91.38" stroke="#000" stroke-width="1.6"/>
<text x="369.30" y="93.68" font-size="6.6" text-anchor="end" fill="#111" stroke="#111" stroke-width="0.45">20</text>
<line x1="369.60" y1="78.86" x2="373.10" y2="78.86" stroke="#000" stroke-width="1.6"/>
<text x="369.30" y="81.16" font-size="6.6" text-anchor="end" fill="#111" stroke="#111" stroke-width="0.45">40</text>
<line x1="369.60" y1="66.34" x2="373.10" y2="66.34" stroke="#000" stroke-width="1.6"/>
<text x="369.30" y="68.64" font-size="6.6" text-anchor="end" fill="#111" stroke="#111" stroke-width="0.45">60</text>
<line x1="369.60" y1="53.82" x2="373.10" y2="53.82" stroke="#000" stroke-width="1.6"/>
<text x="369.30" y="56.12" font-size="6.6" text-anchor="end" fill="#111" stroke="#111" stroke-width="0.45">80</text>
<line x1="369.60" y1="41.30" x2="373.10" y2="41.30" stroke="#000" stroke-width="1.6"/>
<text x="369.30" y="43.60" font-size="6.6" text-anchor="end" fill="#111" stroke="#111" stroke-width="0.45">100</text>
<line x1="369.60" y1="28.78" x2="373.10" y2="28.78" stroke="#000" stroke-width="1.6"/>
<text x="369.30" y="31.08" font-size="6.6" text-anchor="end" fill="#111" stroke="#111" stroke-width="0.45">120</text>
<line x1="369.60" y1="16.26" x2="373.10" y2="16.26" stroke="#000" stroke-width="1.6"/>
<text x="369.30" y="18.56" font-size="6.6" text-anchor="end" fill="#111" stroke="#111" stroke-width="0.45">140</text>
<line x1="384.50" y1="103.90" x2="384.50" y2="107.50" stroke="#000" stroke-width="1.7"/>
<text x="386.50" y="112.50" font-size="6.4" text-anchor="end" fill="#111" stroke="#111" stroke-width="0.45" transform="rotate(-45 386.50 112.50)">0</text>
<line x1="407.10" y1="103.90" x2="407.10" y2="107.50" stroke="#000" stroke-width="1.7"/>
<text x="409.10" y="112.50" font-size="6.4" text-anchor="end" fill="#111" stroke="#111" stroke-width="0.45" transform="rotate(-45 409.10 112.50)">0.001</text>
<line x1="429.70" y1="103.90" x2="429.70" y2="107.50" stroke="#000" stroke-width="1.7"/>
<text x="431.70" y="112.50" font-size="6.4" text-anchor="end" fill="#111" stroke="#111" stroke-width="0.45" transform="rotate(-45 431.70 112.50)">0.01</text>
<line x1="452.30" y1="103.90" x2="452.30" y2="107.50" stroke="#000" stroke-width="1.7"/>
<text x="454.30" y="112.50" font-size="6.4" text-anchor="end" fill="#111" stroke="#111" stroke-width="0.45" transform="rotate(-45 454.30 112.50)">0.1</text>
<line x1="474.90" y1="103.90" x2="474.90" y2="107.50" stroke="#000" stroke-width="1.7"/>
<text x="476.90" y="112.50" font-size="6.4" text-anchor="end" fill="#111" stroke="#111" stroke-width="0.45" transform="rotate(-45 476.90 112.50)">1</text>
<line x1="497.50" y1="103.90" x2="497.50" y2="107.50" stroke="#000" stroke-width="1.7"/>
<text x="499.50" y="112.50" font-size="6.4" text-anchor="end" fill="#111" stroke="#111" stroke-width="0.45" transform="rotate(-45 499.50 112.50)">10</text>
<text x="353.00" y="61.10" font-size="7.5" text-anchor="middle" fill="#111" stroke="#111" stroke-width="0.45" transform="rotate(-90 353.00 61.10)">Viability, % of untreated</text>
<text x="443.90" y="129.60" font-size="8.0" text-anchor="middle" fill="#111" stroke="#111" stroke-width="0.45">µM</text>
<text x="346.80" y="8.70" font-size="11.5" text-anchor="start" font-weight="bold" fill="#111" stroke="#111" stroke-width="0.35">I</text>
<line x1="407.10" y1="29.78" x2="407.10" y2="34.16" stroke="#000" stroke-width="1.3"/>
<line x1="404.90" y1="29.78" x2="409.30" y2="29.78" stroke="#000" stroke-width="1.5"/>
<line x1="404.90" y1="34.16" x2="409.30" y2="34.16" stroke="#000" stroke-width="1.5"/>
<line x1="429.70" y1="22.39" x2="429.70" y2="28.65" stroke="#000" stroke-width="1.3"/>
<line x1="427.50" y1="22.39" x2="431.90" y2="22.39" stroke="#000" stroke-width="1.5"/>
<line x1="427.50" y1="28.65" x2="431.90" y2="28.65" stroke="#000" stroke-width="1.5"/>
<line x1="452.30" y1="53.26" x2="452.30" y2="58.26" stroke="#000" stroke-width="1.3"/>
<line x1="450.10" y1="53.26" x2="454.50" y2="53.26" stroke="#000" stroke-width="1.5"/>
<line x1="450.10" y1="58.26" x2="454.50" y2="58.26" stroke="#000" stroke-width="1.5"/>
<line x1="429.70" y1="75.10" x2="429.70" y2="78.86" stroke="#000" stroke-width="1.3"/>
<line x1="427.50" y1="75.10" x2="431.90" y2="75.10" stroke="#000" stroke-width="1.5"/>
<line x1="427.50" y1="78.86" x2="431.90" y2="78.86" stroke="#000" stroke-width="1.5"/>
<polyline points="384.50,41.30 407.10,19.52 429.70,25.52 452.30,55.76 474.90,92.01 497.50,95.01" fill="none" stroke="#3d52a8" stroke-width="2.4" stroke-linejoin="round" stroke-linecap="round"/>
<circle cx="384.50" cy="41.30" r="1.7" fill="#3d52a8"/>
<circle cx="407.10" cy="19.52" r="1.7" fill="#3d52a8"/>
<circle cx="429.70" cy="25.52" r="1.7" fill="#3d52a8"/>
<circle cx="452.30" cy="55.76" r="1.7" fill="#3d52a8"/>
<circle cx="474.90" cy="92.01" r="1.7" fill="#3d52a8"/>
<circle cx="497.50" cy="95.01" r="1.7" fill="#3d52a8"/>
<polyline points="384.50,41.30 407.10,31.97 429.70,76.98 452.30,90.50 474.90,92.51" fill="none" stroke="#111111" stroke-width="2.4" stroke-linejoin="round" stroke-linecap="round"/>
<circle cx="384.50" cy="41.30" r="1.7" fill="#111111"/>
<circle cx="407.10" cy="31.97" r="1.7" fill="#111111"/>
<circle cx="429.70" cy="76.98" r="1.7" fill="#111111"/>
<circle cx="452.30" cy="90.50" r="1.7" fill="#111111"/>
<circle cx="474.90" cy="92.51" r="1.7" fill="#111111"/>
<polyline points="384.50,41.30 407.10,94.51 429.70,94.51 452.30,92.51 474.90,91.25" fill="none" stroke="#8c5a2e" stroke-width="2.4" stroke-linejoin="round" stroke-linecap="round"/>
<circle cx="384.50" cy="41.30" r="1.7" fill="#8c5a2e"/>
<circle cx="407.10" cy="94.51" r="1.7" fill="#8c5a2e"/>
<circle cx="429.70" cy="94.51" r="1.7" fill="#8c5a2e"/>
<circle cx="452.30" cy="92.51" r="1.7" fill="#8c5a2e"/>
<circle cx="474.90" cy="91.25" r="1.7" fill="#8c5a2e"/>
<polyline points="384.50,41.30 407.10,95.01 429.70,95.01 452.30,92.13 474.90,91.38" fill="none" stroke="#f29d2e" stroke-width="2.4" stroke-linejoin="round" stroke-linecap="round"/>
<circle cx="384.50" cy="41.30" r="1.7" fill="#f29d2e"/>
<circle cx="407.10" cy="95.01" r="1.7" fill="#f29d2e"/>
<circle cx="429.70" cy="95.01" r="1.7" fill="#f29d2e"/>
<circle cx="452.30" cy="92.13" r="1.7" fill="#f29d2e"/>
<circle cx="474.90" cy="91.38" r="1.7" fill="#f29d2e"/>
<line x1="463.80" y1="20.00" x2="476.30" y2="20.00" stroke="#3d52a8" stroke-width="2.4"/>
<circle cx="470.05" cy="20.00" r="1.8" fill="#3d52a8"/>
<text x="480.50" y="22.50" font-size="7.3" text-anchor="start" fill="#111" stroke="#111" stroke-width="0.45">IM</text>
<line x1="463.80" y1="30.80" x2="476.30" y2="30.80" stroke="#111111" stroke-width="2.4"/>
<circle cx="470.05" cy="30.80" r="1.8" fill="#111111"/>
<text x="480.50" y="33.30" font-size="7.3" text-anchor="start" fill="#111" stroke="#111" stroke-width="0.45">NIL</text>
<line x1="463.80" y1="41.60" x2="476.30" y2="41.60" stroke="#8c5a2e" stroke-width="2.4"/>
<circle cx="470.05" cy="41.60" r="1.8" fill="#8c5a2e"/>
<text x="480.50" y="44.10" font-size="7.3" text-anchor="start" fill="#111" stroke="#111" stroke-width="0.45">DAS</text>
<line x1="463.80" y1="52.40" x2="476.30" y2="52.40" stroke="#f29d2e" stroke-width="2.4"/>
<circle cx="470.05" cy="52.40" r="1.8" fill="#f29d2e"/>
<text x="480.50" y="54.90" font-size="7.3" text-anchor="start" fill="#111" stroke="#111" stroke-width="0.45">PON</text>
<line x1="373.50" y1="161.28" x2="373.50" y2="254.00" stroke="#000" stroke-width="1.8"/>
<line x1="372.60" y1="253.10" x2="506.25" y2="253.10" stroke="#000" stroke-width="1.8"/>
<line x1="370.00" y1="253.10" x2="373.50" y2="253.10" stroke="#000" stroke-width="1.6"/>
<text x="369.70" y="255.40" font-size="6.6" text-anchor="end" fill="#111" stroke="#111" stroke-width="0.45">0</text>
<line x1="370.00" y1="240.44" x2="373.50" y2="240.44" stroke="#000" stroke-width="1.6"/>
<text x="369.70" y="242.74" font-size="6.6" text-anchor="end" fill="#111" stroke="#111" stroke-width="0.45">20</text>
<line x1="370.00" y1="227.78" x2="373.50" y2="227.78" stroke="#000" stroke-width="1.6"/>
<text x="369.70" y="230.08" font-size="6.6" text-anchor="end" fill="#111" stroke="#111" stroke-width="0.45">40</text>
<line x1="370.00" y1="215.12" x2="373.50" y2="215.12" stroke="#000" stroke-width="1.6"/>
<text x="369.70" y="217.42" font-size="6.6" text-anchor="end" fill="#111" stroke="#111" stroke-width="0.45">60</text>
<line x1="370.00" y1="202.46" x2="373.50" y2="202.46" stroke="#000" stroke-width="1.6"/>
<text x="369.70" y="204.76" font-size="6.6" text-anchor="end" fill="#111" stroke="#111" stroke-width="0.45">80</text>
<line x1="370.00" y1="189.80" x2="373.50" y2="189.80" stroke="#000" stroke-width="1.6"/>
<text x="369.70" y="192.10" font-size="6.6" text-anchor="end" fill="#111" stroke="#111" stroke-width="0.45">100</text>
<line x1="370.00" y1="177.14" x2="373.50" y2="177.14" stroke="#000" stroke-width="1.6"/>
<text x="369.70" y="179.44" font-size="6.6" text-anchor="end" fill="#111" stroke="#111" stroke-width="0.45">120</text>
<line x1="370.00" y1="164.48" x2="373.50" y2="164.48" stroke="#000" stroke-width="1.6"/>
<text x="369.70" y="166.78" font-size="6.6" text-anchor="end" fill="#111" stroke="#111" stroke-width="0.45">140</text>
<line x1="384.50" y1="253.10" x2="384.50" y2="256.70" stroke="#000" stroke-width="1.7"/>
<text x="386.50" y="261.70" font-size="6.4" text-anchor="end" fill="#111" stroke="#111" stroke-width="0.45" transform="rotate(-45 386.50 261.70)">0</text>
<line x1="407.25" y1="253.10" x2="407.25" y2="256.70" stroke="#000" stroke-width="1.7"/>
<text x="409.25" y="261.70" font-size="6.4" text-anchor="end" fill="#111" stroke="#111" stroke-width="0.45" transform="rotate(-45 409.25 261.70)">0.001</text>
<line x1="430.00" y1="253.10" x2="430.00" y2="256.70" stroke="#000" stroke-width="1.7"/>
<text x="432.00" y="261.70" font-size="6.4" text-anchor="end" fill="#111" stroke="#111" stroke-width="0.45" transform="rotate(-45 432.00 261.70)">0.01</text>
<line x1="452.75" y1="253.10" x2="452.75" y2="256.70" stroke="#000" stroke-width="1.7"/>
<text x="454.75" y="261.70" font-size="6.4" text-anchor="end" fill="#111" stroke="#111" stroke-width="0.45" transform="rotate(-45 454.75 261.70)">0.1</text>
<line x1="475.50" y1="253.10" x2="475.50" y2="256.70" stroke="#000" stroke-width="1.7"/>
<text x="477.50" y="261.70" font-size="6.4" text-anchor="end" fill="#111" stroke="#111" stroke-width="0.45" transform="rotate(-45 477.50 261.70)">1</text>
<line x1="498.25" y1="253.10" x2="498.25" y2="256.70" stroke="#000" stroke-width="1.7"/>
<text x="500.25" y="261.70" font-size="6.4" text-anchor="end" fill="#111" stroke="#111" stroke-width="0.45" transform="rotate(-45 500.25 261.70)">10</text>
<text x="353.30" y="206.80" font-size="7.5" text-anchor="middle" fill="#111" stroke="#111" stroke-width="0.45" transform="rotate(-90 353.30 206.80)">Viability, % of untreated</text>
<text x="443.90" y="278.50" font-size="8.0" text-anchor="middle" fill="#111" stroke="#111" stroke-width="0.45">µM</text>
<text x="346.80" y="156.20" font-size="11.5" text-anchor="start" font-weight="bold" fill="#111" stroke="#111" stroke-width="0.35">J</text>
<line x1="407.25" y1="167.96" x2="407.25" y2="171.13" stroke="#000" stroke-width="1.3"/>
<line x1="405.05" y1="167.96" x2="409.45" y2="167.96" stroke="#000" stroke-width="1.5"/>
<line x1="405.05" y1="171.13" x2="409.45" y2="171.13" stroke="#000" stroke-width="1.5"/>
<line x1="430.00" y1="184.74" x2="430.00" y2="194.86" stroke="#000" stroke-width="1.3"/>
<line x1="427.80" y1="184.74" x2="432.20" y2="184.74" stroke="#000" stroke-width="1.5"/>
<line x1="427.80" y1="194.86" x2="432.20" y2="194.86" stroke="#000" stroke-width="1.5"/>
<line x1="475.50" y1="223.98" x2="475.50" y2="227.78" stroke="#000" stroke-width="1.3"/>
<line x1="473.30" y1="223.98" x2="477.70" y2="223.98" stroke="#000" stroke-width="1.5"/>
<line x1="473.30" y1="227.78" x2="477.70" y2="227.78" stroke="#000" stroke-width="1.5"/>
<polyline points="384.50,189.80 407.25,169.99 430.00,168.28 452.75,171.76 475.50,219.99 498.25,232.53" fill="none" stroke="#3d52a8" stroke-width="2.4" stroke-linejoin="round" stroke-linecap="round"/>
<circle cx="384.50" cy="189.80" r="1.7" fill="#3d52a8"/>
<circle cx="407.25" cy="169.99" r="1.7" fill="#3d52a8"/>
<circle cx="430.00" cy="168.28" r="1.7" fill="#3d52a8"/>
<circle cx="452.75" cy="171.76" r="1.7" fill="#3d52a8"/>
<circle cx="475.50" cy="219.99" r="1.7" fill="#3d52a8"/>
<circle cx="498.25" cy="232.53" r="1.7" fill="#3d52a8"/>
<polyline points="384.50,189.80 407.25,169.54 430.00,191.26 452.75,224.49 475.50,226.26" fill="none" stroke="#111111" stroke-width="2.4" stroke-linejoin="round" stroke-linecap="round"/>
<circle cx="384.50" cy="189.80" r="1.7" fill="#111111"/>
<circle cx="407.25" cy="169.54" r="1.7" fill="#111111"/>
<circle cx="430.00" cy="191.26" r="1.7" fill="#111111"/>
<circle cx="452.75" cy="224.49" r="1.7" fill="#111111"/>
<circle cx="475.50" cy="226.26" r="1.7" fill="#111111"/>
<polyline points="384.50,189.80 407.25,229.49 430.00,229.49 452.75,226.26 475.50,224.49" fill="none" stroke="#8c5a2e" stroke-width="2.4" stroke-linejoin="round" stroke-linecap="round"/>
<circle cx="384.50" cy="189.80" r="1.7" fill="#8c5a2e"/>
<circle cx="407.25" cy="229.49" r="1.7" fill="#8c5a2e"/>
<circle cx="430.00" cy="229.49" r="1.7" fill="#8c5a2e"/>
<circle cx="452.75" cy="226.26" r="1.7" fill="#8c5a2e"/>
<circle cx="475.50" cy="224.49" r="1.7" fill="#8c5a2e"/>
<polyline points="384.50,189.80 407.25,230.00 430.00,235.00 452.75,240.00 475.50,244.49" fill="none" stroke="#f29d2e" stroke-width="2.4" stroke-linejoin="round" stroke-linecap="round"/>
<circle cx="384.50" cy="189.80" r="1.7" fill="#f29d2e"/>
<circle cx="407.25" cy="230.00" r="1.7" fill="#f29d2e"/>
<circle cx="430.00" cy="235.00" r="1.7" fill="#f29d2e"/>
<circle cx="452.75" cy="240.00" r="1.7" fill="#f29d2e"/>
<circle cx="475.50" cy="244.49" r="1.7" fill="#f29d2e"/>
<line x1="476.20" y1="166.50" x2="488.80" y2="166.50" stroke="#3d52a8" stroke-width="2.4"/>
<circle cx="482.50" cy="166.50" r="1.8" fill="#3d52a8"/>
<text x="492.90" y="169.00" font-size="7.3" text-anchor="start" fill="#111" stroke="#111" stroke-width="0.45">IM</text>
<line x1="476.20" y1="177.50" x2="488.80" y2="177.50" stroke="#111111" stroke-width="2.4"/>
<circle cx="482.50" cy="177.50" r="1.8" fill="#111111"/>
<text x="492.90" y="180.00" font-size="7.3" text-anchor="start" fill="#111" stroke="#111" stroke-width="0.45">NIL</text>
<line x1="476.20" y1="188.50" x2="488.80" y2="188.50" stroke="#8c5a2e" stroke-width="2.4"/>
<circle cx="482.50" cy="188.50" r="1.8" fill="#8c5a2e"/>
<text x="492.90" y="191.00" font-size="7.3" text-anchor="start" fill="#111" stroke="#111" stroke-width="0.45">DAS</text>
<line x1="476.20" y1="199.50" x2="488.80" y2="199.50" stroke="#f29d2e" stroke-width="2.4"/>
<circle cx="482.50" cy="199.50" r="1.8" fill="#f29d2e"/>
<text x="492.90" y="202.00" font-size="7.3" text-anchor="start" fill="#111" stroke="#111" stroke-width="0.45">PON</text>
<line x1="373.10" y1="308.88" x2="373.10" y2="400.10" stroke="#000" stroke-width="1.8"/>
<line x1="372.20" y1="399.20" x2="505.50" y2="399.20" stroke="#000" stroke-width="1.8"/>
<line x1="369.60" y1="399.20" x2="373.10" y2="399.20" stroke="#000" stroke-width="1.6"/>
<text x="369.30" y="401.50" font-size="6.6" text-anchor="end" fill="#111" stroke="#111" stroke-width="0.45">0</text>
<line x1="369.60" y1="384.68" x2="373.10" y2="384.68" stroke="#000" stroke-width="1.6"/>
<text x="369.30" y="386.98" font-size="6.6" text-anchor="end" fill="#111" stroke="#111" stroke-width="0.45">20</text>
<line x1="369.60" y1="370.16" x2="373.10" y2="370.16" stroke="#000" stroke-width="1.6"/>
<text x="369.30" y="372.46" font-size="6.6" text-anchor="end" fill="#111" stroke="#111" stroke-width="0.45">40</text>
<line x1="369.60" y1="355.64" x2="373.10" y2="355.64" stroke="#000" stroke-width="1.6"/>
<text x="369.30" y="357.94" font-size="6.6" text-anchor="end" fill="#111" stroke="#111" stroke-width="0.45">60</text>
<line x1="369.60" y1="341.12" x2="373.10" y2="341.12" stroke="#000" stroke-width="1.6"/>
<text x="369.30" y="343.42" font-size="6.6" text-anchor="end" fill="#111" stroke="#111" stroke-width="0.45">80</text>
<line x1="369.60" y1="326.60" x2="373.10" y2="326.60" stroke="#000" stroke-width="1.6"/>
<text x="369.30" y="328.90" font-size="6.6" text-anchor="end" fill="#111" stroke="#111" stroke-width="0.45">100</text>
<line x1="369.60" y1="312.08" x2="373.10" y2="312.08" stroke="#000" stroke-width="1.6"/>
<text x="369.30" y="314.38" font-size="6.6" text-anchor="end" fill="#111" stroke="#111" stroke-width="0.45">120</text>
<line x1="383.75" y1="399.20" x2="383.75" y2="402.80" stroke="#000" stroke-width="1.7"/>
<text x="385.75" y="407.80" font-size="6.4" text-anchor="end" fill="#111" stroke="#111" stroke-width="0.45" transform="rotate(-45 385.75 407.80)">0</text>
<line x1="406.50" y1="399.20" x2="406.50" y2="402.80" stroke="#000" stroke-width="1.7"/>
<text x="408.50" y="407.80" font-size="6.4" text-anchor="end" fill="#111" stroke="#111" stroke-width="0.45" transform="rotate(-45 408.50 407.80)">0.001</text>
<line x1="429.25" y1="399.20" x2="429.25" y2="402.80" stroke="#000" stroke-width="1.7"/>
<text x="431.25" y="407.80" font-size="6.4" text-anchor="end" fill="#111" stroke="#111" stroke-width="0.45" transform="rotate(-45 431.25 407.80)">0.01</text>
<line x1="452.00" y1="399.20" x2="452.00" y2="402.80" stroke="#000" stroke-width="1.7"/>
<text x="454.00" y="407.80" font-size="6.4" text-anchor="end" fill="#111" stroke="#111" stroke-width="0.45" transform="rotate(-45 454.00 407.80)">0.1</text>
<line x1="474.75" y1="399.20" x2="474.75" y2="402.80" stroke="#000" stroke-width="1.7"/>
<text x="476.75" y="407.80" font-size="6.4" text-anchor="end" fill="#111" stroke="#111" stroke-width="0.45" transform="rotate(-45 476.75 407.80)">1</text>
<line x1="497.50" y1="399.20" x2="497.50" y2="402.80" stroke="#000" stroke-width="1.7"/>
<text x="499.50" y="407.80" font-size="6.4" text-anchor="end" fill="#111" stroke="#111" stroke-width="0.45" transform="rotate(-45 499.50 407.80)">10</text>
<text x="353.40" y="353.10" font-size="7.5" text-anchor="middle" fill="#111" stroke="#111" stroke-width="0.45" transform="rotate(-90 353.40 353.10)">Viability, % of untreated</text>
<text x="443.90" y="425.00" font-size="8.0" text-anchor="middle" fill="#111" stroke="#111" stroke-width="0.45">µM</text>
<text x="347.40" y="307.50" font-size="11.5" text-anchor="start" font-weight="bold" fill="#111" stroke="#111" stroke-width="0.35">K</text>
<line x1="406.50" y1="313.53" x2="406.50" y2="325.15" stroke="#000" stroke-width="1.3"/>
<line x1="404.30" y1="313.53" x2="408.70" y2="313.53" stroke="#000" stroke-width="1.5"/>
<line x1="404.30" y1="325.15" x2="408.70" y2="325.15" stroke="#000" stroke-width="1.5"/>
<line x1="452.00" y1="310.63" x2="452.00" y2="317.89" stroke="#000" stroke-width="1.3"/>
<line x1="449.80" y1="310.63" x2="454.20" y2="310.63" stroke="#000" stroke-width="1.5"/>
<line x1="449.80" y1="317.89" x2="454.20" y2="317.89" stroke="#000" stroke-width="1.5"/>
<line x1="474.75" y1="313.53" x2="474.75" y2="319.34" stroke="#000" stroke-width="1.3"/>
<line x1="472.55" y1="313.53" x2="476.95" y2="313.53" stroke="#000" stroke-width="1.5"/>
<line x1="472.55" y1="319.34" x2="476.95" y2="319.34" stroke="#000" stroke-width="1.5"/>
<polyline points="383.75,326.60 406.50,314.26 429.25,314.26 452.00,315.49 474.75,320.07 497.50,338.22" fill="none" stroke="#3d52a8" stroke-width="2.4" stroke-linejoin="round" stroke-linecap="round"/>
<circle cx="383.75" cy="326.60" r="1.7" fill="#3d52a8"/>
<circle cx="406.50" cy="314.26" r="1.7" fill="#3d52a8"/>
<circle cx="429.25" cy="314.26" r="1.7" fill="#3d52a8"/>
<circle cx="452.00" cy="315.49" r="1.7" fill="#3d52a8"/>
<circle cx="474.75" cy="320.07" r="1.7" fill="#3d52a8"/>
<circle cx="497.50" cy="338.22" r="1.7" fill="#3d52a8"/>
<polyline points="383.75,326.60 406.50,315.49 429.25,317.02 452.00,314.98 474.75,314.98" fill="none" stroke="#111111" stroke-width="2.4" stroke-linejoin="round" stroke-linecap="round"/>
<circle cx="383.75" cy="326.60" r="1.7" fill="#111111"/>
<circle cx="406.50" cy="315.49" r="1.7" fill="#111111"/>
<circle cx="429.25" cy="317.02" r="1.7" fill="#111111"/>
<circle cx="452.00" cy="314.98" r="1.7" fill="#111111"/>
<circle cx="474.75" cy="314.98" r="1.7" fill="#111111"/>
<polyline points="383.75,326.60 406.50,317.02 429.25,318.03 452.00,315.49 474.75,315.49" fill="none" stroke="#8c5a2e" stroke-width="2.4" stroke-linejoin="round" stroke-linecap="round"/>
<circle cx="383.75" cy="326.60" r="1.7" fill="#8c5a2e"/>
<circle cx="406.50" cy="317.02" r="1.7" fill="#8c5a2e"/>
<circle cx="429.25" cy="318.03" r="1.7" fill="#8c5a2e"/>
<circle cx="452.00" cy="315.49" r="1.7" fill="#8c5a2e"/>
<circle cx="474.75" cy="315.49" r="1.7" fill="#8c5a2e"/>
<polyline points="383.75,326.60 406.50,325.00 429.25,336.98 452.00,389.47 474.75,394.48" fill="none" stroke="#f29d2e" stroke-width="2.4" stroke-linejoin="round" stroke-linecap="round"/>
<circle cx="383.75" cy="326.60" r="1.7" fill="#f29d2e"/>
<circle cx="406.50" cy="325.00" r="1.7" fill="#f29d2e"/>
<circle cx="429.25" cy="336.98" r="1.7" fill="#f29d2e"/>
<circle cx="452.00" cy="389.47" r="1.7" fill="#f29d2e"/>
<circle cx="474.75" cy="394.48" r="1.7" fill="#f29d2e"/>
<line x1="466.30" y1="353.00" x2="478.80" y2="353.00" stroke="#3d52a8" stroke-width="2.4"/>
<circle cx="472.55" cy="353.00" r="1.8" fill="#3d52a8"/>
<text x="483.00" y="355.50" font-size="7.3" text-anchor="start" fill="#111" stroke="#111" stroke-width="0.45">IM</text>
<line x1="466.30" y1="363.80" x2="478.80" y2="363.80" stroke="#111111" stroke-width="2.4"/>
<circle cx="472.55" cy="363.80" r="1.8" fill="#111111"/>
<text x="483.00" y="366.30" font-size="7.3" text-anchor="start" fill="#111" stroke="#111" stroke-width="0.45">NIL</text>
<line x1="466.30" y1="374.60" x2="478.80" y2="374.60" stroke="#8c5a2e" stroke-width="2.4"/>
<circle cx="472.55" cy="374.60" r="1.8" fill="#8c5a2e"/>
<text x="483.00" y="377.10" font-size="7.3" text-anchor="start" fill="#111" stroke="#111" stroke-width="0.45">DAS</text>
<line x1="466.30" y1="385.40" x2="478.80" y2="385.40" stroke="#f29d2e" stroke-width="2.4"/>
<circle cx="472.55" cy="385.40" r="1.8" fill="#f29d2e"/>
<text x="483.00" y="387.90" font-size="7.3" text-anchor="start" fill="#111" stroke="#111" stroke-width="0.45">PON</text>
<line x1="374.00" y1="456.56" x2="374.00" y2="548.50" stroke="#000" stroke-width="1.8"/>
<line x1="373.10" y1="547.60" x2="506.75" y2="547.60" stroke="#000" stroke-width="1.8"/>
<line x1="370.50" y1="547.60" x2="374.00" y2="547.60" stroke="#000" stroke-width="1.6"/>
<text x="370.20" y="549.90" font-size="6.6" text-anchor="end" fill="#111" stroke="#111" stroke-width="0.45">0</text>
<line x1="370.50" y1="532.96" x2="374.00" y2="532.96" stroke="#000" stroke-width="1.6"/>
<text x="370.20" y="535.26" font-size="6.6" text-anchor="end" fill="#111" stroke="#111" stroke-width="0.45">20</text>
<line x1="370.50" y1="518.32" x2="374.00" y2="518.32" stroke="#000" stroke-width="1.6"/>
<text x="370.20" y="520.62" font-size="6.6" text-anchor="end" fill="#111" stroke="#111" stroke-width="0.45">40</text>
<line x1="370.50" y1="503.68" x2="374.00" y2="503.68" stroke="#000" stroke-width="1.6"/>
<text x="370.20" y="505.98" font-size="6.6" text-anchor="end" fill="#111" stroke="#111" stroke-width="0.45">60</text>
<line x1="370.50" y1="489.04" x2="374.00" y2="489.04" stroke="#000" stroke-width="1.6"/>
<text x="370.20" y="491.34" font-size="6.6" text-anchor="end" fill="#111" stroke="#111" stroke-width="0.45">80</text>
<line x1="370.50" y1="474.40" x2="374.00" y2="474.40" stroke="#000" stroke-width="1.6"/>
<text x="370.20" y="476.70" font-size="6.6" text-anchor="end" fill="#111" stroke="#111" stroke-width="0.45">100</text>
<line x1="370.50" y1="459.76" x2="374.00" y2="459.76" stroke="#000" stroke-width="1.6"/>
<text x="370.20" y="462.06" font-size="6.6" text-anchor="end" fill="#111" stroke="#111" stroke-width="0.45">120</text>
<line x1="385.00" y1="547.60" x2="385.00" y2="551.20" stroke="#000" stroke-width="1.7"/>
<text x="387.00" y="556.20" font-size="6.4" text-anchor="end" fill="#111" stroke="#111" stroke-width="0.45" transform="rotate(-45 387.00 556.20)">0</text>
<line x1="407.75" y1="547.60" x2="407.75" y2="551.20" stroke="#000" stroke-width="1.7"/>
<text x="409.75" y="556.20" font-size="6.4" text-anchor="end" fill="#111" stroke="#111" stroke-width="0.45" transform="rotate(-45 409.75 556.20)">0.001</text>
<line x1="430.50" y1="547.60" x2="430.50" y2="551.20" stroke="#000" stroke-width="1.7"/>
<text x="432.50" y="556.20" font-size="6.4" text-anchor="end" fill="#111" stroke="#111" stroke-width="0.45" transform="rotate(-45 432.50 556.20)">0.01</text>
<line x1="453.25" y1="547.60" x2="453.25" y2="551.20" stroke="#000" stroke-width="1.7"/>
<text x="455.25" y="556.20" font-size="6.4" text-anchor="end" fill="#111" stroke="#111" stroke-width="0.45" transform="rotate(-45 455.25 556.20)">0.1</text>
<line x1="476.00" y1="547.60" x2="476.00" y2="551.20" stroke="#000" stroke-width="1.7"/>
<text x="478.00" y="556.20" font-size="6.4" text-anchor="end" fill="#111" stroke="#111" stroke-width="0.45" transform="rotate(-45 478.00 556.20)">1</text>
<line x1="498.75" y1="547.60" x2="498.75" y2="551.20" stroke="#000" stroke-width="1.7"/>
<text x="500.75" y="556.20" font-size="6.4" text-anchor="end" fill="#111" stroke="#111" stroke-width="0.45" transform="rotate(-45 500.75 556.20)">10</text>
<text x="353.40" y="507.40" font-size="7.5" text-anchor="middle" fill="#111" stroke="#111" stroke-width="0.45" transform="rotate(-90 353.40 507.40)">Viability, % of untreated</text>
<text x="443.90" y="573.50" font-size="8.0" text-anchor="middle" fill="#111" stroke="#111" stroke-width="0.45">µM</text>
<text x="346.40" y="456.70" font-size="11.5" text-anchor="start" font-weight="bold" fill="#111" stroke="#111" stroke-width="0.35">L</text>
<line x1="430.50" y1="461.22" x2="430.50" y2="466.35" stroke="#000" stroke-width="1.3"/>
<line x1="428.30" y1="461.22" x2="432.70" y2="461.22" stroke="#000" stroke-width="1.5"/>
<line x1="428.30" y1="466.35" x2="432.70" y2="466.35" stroke="#000" stroke-width="1.5"/>
<line x1="453.25" y1="497.46" x2="453.25" y2="502.58" stroke="#000" stroke-width="1.3"/>
<line x1="451.05" y1="497.46" x2="455.45" y2="497.46" stroke="#000" stroke-width="1.5"/>
<line x1="451.05" y1="502.58" x2="455.45" y2="502.58" stroke="#000" stroke-width="1.5"/>
<line x1="476.00" y1="507.34" x2="476.00" y2="510.27" stroke="#000" stroke-width="1.3"/>
<line x1="473.80" y1="507.34" x2="478.20" y2="507.34" stroke="#000" stroke-width="1.5"/>
<line x1="473.80" y1="510.27" x2="478.20" y2="510.27" stroke="#000" stroke-width="1.5"/>
<polyline points="385.00,474.40 407.75,465.47 430.50,463.79 453.25,464.15 476.00,482.01 498.75,517.51" fill="none" stroke="#3d52a8" stroke-width="2.4" stroke-linejoin="round" stroke-linecap="round"/>
<circle cx="385.00" cy="474.40" r="1.7" fill="#3d52a8"/>
<circle cx="407.75" cy="465.47" r="1.7" fill="#3d52a8"/>
<circle cx="430.50" cy="463.79" r="1.7" fill="#3d52a8"/>
<circle cx="453.25" cy="464.15" r="1.7" fill="#3d52a8"/>
<circle cx="476.00" cy="482.01" r="1.7" fill="#3d52a8"/>
<circle cx="498.75" cy="517.51" r="1.7" fill="#3d52a8"/>
<polyline points="385.00,474.40 407.75,465.47 430.50,463.79 453.25,500.02 476.00,508.80" fill="none" stroke="#111111" stroke-width="2.4" stroke-linejoin="round" stroke-linecap="round"/>
<circle cx="385.00" cy="474.40" r="1.7" fill="#111111"/>
<circle cx="407.75" cy="465.47" r="1.7" fill="#111111"/>
<circle cx="430.50" cy="463.79" r="1.7" fill="#111111"/>
<circle cx="453.25" cy="500.02" r="1.7" fill="#111111"/>
<circle cx="476.00" cy="508.80" r="1.7" fill="#111111"/>
<polyline points="385.00,474.40 407.75,512.02 430.50,509.98 453.25,506.97 476.00,508.80" fill="none" stroke="#8c5a2e" stroke-width="2.4" stroke-linejoin="round" stroke-linecap="round"/>
<circle cx="385.00" cy="474.40" r="1.7" fill="#8c5a2e"/>
<circle cx="407.75" cy="512.02" r="1.7" fill="#8c5a2e"/>
<circle cx="430.50" cy="509.98" r="1.7" fill="#8c5a2e"/>
<circle cx="453.25" cy="506.97" r="1.7" fill="#8c5a2e"/>
<circle cx="476.00" cy="508.80" r="1.7" fill="#8c5a2e"/>
<polyline points="385.00,474.40 407.75,510.49 430.50,512.46 453.25,530.03 476.00,535.01" fill="none" stroke="#f29d2e" stroke-width="2.4" stroke-linejoin="round" stroke-linecap="round"/>
<circle cx="385.00" cy="474.40" r="1.7" fill="#f29d2e"/>
<circle cx="407.75" cy="510.49" r="1.7" fill="#f29d2e"/>
<circle cx="430.50" cy="512.46" r="1.7" fill="#f29d2e"/>
<circle cx="453.25" cy="530.03" r="1.7" fill="#f29d2e"/>
<circle cx="476.00" cy="535.01" r="1.7" fill="#f29d2e"/>
<line x1="487.50" y1="461.30" x2="500.00" y2="461.30" stroke="#3d52a8" stroke-width="2.4"/>
<circle cx="493.75" cy="461.30" r="1.8" fill="#3d52a8"/>
<text x="504.00" y="463.80" font-size="7.3" text-anchor="start" fill="#111" stroke="#111" stroke-width="0.45">IM</text>
<line x1="487.50" y1="472.10" x2="500.00" y2="472.10" stroke="#111111" stroke-width="2.4"/>
<circle cx="493.75" cy="472.10" r="1.8" fill="#111111"/>
<text x="504.00" y="474.60" font-size="7.3" text-anchor="start" fill="#111" stroke="#111" stroke-width="0.45">NIL</text>
<line x1="487.50" y1="482.90" x2="500.00" y2="482.90" stroke="#8c5a2e" stroke-width="2.4"/>
<circle cx="493.75" cy="482.90" r="1.8" fill="#8c5a2e"/>
<text x="504.00" y="485.40" font-size="7.3" text-anchor="start" fill="#111" stroke="#111" stroke-width="0.45">DAS</text>
<line x1="487.50" y1="493.70" x2="500.00" y2="493.70" stroke="#f29d2e" stroke-width="2.4"/>
<circle cx="493.75" cy="493.70" r="1.8" fill="#f29d2e"/>
<text x="504.00" y="496.20" font-size="7.3" text-anchor="start" fill="#111" stroke="#111" stroke-width="0.45">PON</text>
<polyline points="29.42,86.62 67.21,62.03 145.98,69.91" fill="none" stroke="#333" stroke-width="1.1" stroke-linejoin="round" stroke-linecap="round"/>
<polyline points="28.94,76.55 67.06,53.60 146.36,60.90" fill="none" stroke="#333" stroke-width="1.1" stroke-linejoin="round" stroke-linecap="round"/>
<polyline points="28.46,66.32 66.91,45.05 146.76,51.77" fill="none" stroke="#333" stroke-width="1.1" stroke-linejoin="round" stroke-linecap="round"/>
<polyline points="27.97,55.92 66.76,36.39 147.16,42.51" fill="none" stroke="#333" stroke-width="1.1" stroke-linejoin="round" stroke-linecap="round"/>
<polyline points="27.47,45.36 66.60,27.62 147.56,33.12" fill="none" stroke="#333" stroke-width="1.1" stroke-linejoin="round" stroke-linecap="round"/>
<polyline points="26.96,34.63 66.45,18.73 147.97,23.60" fill="none" stroke="#333" stroke-width="1.1" stroke-linejoin="round" stroke-linecap="round"/>
<polyline points="26.45,23.72 66.29,9.72 148.39,13.93" fill="none" stroke="#333" stroke-width="1.1" stroke-linejoin="round" stroke-linecap="round"/>
<polygon points="119.3,57.4 134.4,58.0 122.6,54.7" fill="#d15757" stroke="#d15757" stroke-width="0.9" stroke-linejoin="round"/>
<line x1="134.4" y1="58.0" x2="122.6" y2="54.7" stroke="#fff" stroke-opacity="0.14" stroke-width="0.5"/>
<line x1="122.6" y1="54.7" x2="119.3" y2="57.4" stroke="#fff" stroke-opacity="0.14" stroke-width="0.5"/>
<polygon points="131.4,60.8 146.4,60.2 134.4,58.0" fill="#d05252" stroke="#d05252" stroke-width="0.9" stroke-linejoin="round"/>
<line x1="146.4" y1="60.2" x2="134.4" y2="58.0" stroke="#fff" stroke-opacity="0.14" stroke-width="0.5"/>
<line x1="134.4" y1="58.0" x2="131.4" y2="60.8" stroke="#fff" stroke-opacity="0.14" stroke-width="0.5"/>
<polygon points="114.3,50.7 122.6,54.7 115.6,49.1" fill="#d35d5d" stroke="#d35d5d" stroke-width="0.9" stroke-linejoin="round"/>
<polygon points="107.6,47.6 114.3,50.7 115.6,49.1 111.2,45.6" fill="#a3cc66" stroke="#a3cc66" stroke-width="0.9" stroke-linejoin="round"/>
<line x1="122.6" y1="54.7" x2="111.2" y2="45.6" stroke="#fff" stroke-opacity="0.14" stroke-width="0.5"/>
<line x1="111.2" y1="45.6" x2="107.6" y2="47.6" stroke="#fff" stroke-opacity="0.14" stroke-width="0.5"/>
<polygon points="119.3,57.4 131.4,60.8 134.4,58.0" fill="#d15757" stroke="#d15757" stroke-width="0.9" stroke-linejoin="round"/>
<line x1="119.3" y1="57.4" x2="131.4" y2="60.8" stroke="#fff" stroke-opacity="0.14" stroke-width="0.5"/>
<line x1="131.4" y1="60.8" x2="134.4" y2="58.0" stroke="#fff" stroke-opacity="0.14" stroke-width="0.5"/>
<polygon points="112.8,52.0 119.3,57.4 122.6,54.7 114.3,50.7" fill="#d35d5d" stroke="#d35d5d" stroke-width="0.9" stroke-linejoin="round"/>
<polygon points="107.6,47.6 112.8,52.0 114.3,50.7" fill="#a3cc66" stroke="#a3cc66" stroke-width="0.9" stroke-linejoin="round"/>
<line x1="107.6" y1="47.6" x2="119.3" y2="57.4" stroke="#fff" stroke-opacity="0.14" stroke-width="0.5"/>
<line x1="119.3" y1="57.4" x2="122.6" y2="54.7" stroke="#fff" stroke-opacity="0.14" stroke-width="0.5"/>
<polygon points="66.4,18.7 66.4,18.7 66.4,18.7" fill="#3da7ca" stroke="#3da7ca" stroke-width="0.9" stroke-linejoin="round"/>
<polygon points="61.7,20.5 77.4,18.5 66.4,18.7" fill="#df8b3a" stroke="#df8b3a" stroke-width="0.9" stroke-linejoin="round"/>
<line x1="77.4" y1="18.5" x2="66.4" y2="18.7" stroke="#fff" stroke-opacity="0.14" stroke-width="0.5"/>
<line x1="66.4" y1="18.7" x2="61.7" y2="20.5" stroke="#fff" stroke-opacity="0.14" stroke-width="0.5"/>
<polygon points="131.4,60.8 143.7,63.0 146.4,60.2" fill="#d05252" stroke="#d05252" stroke-width="0.9" stroke-linejoin="round"/>
<line x1="131.4" y1="60.8" x2="143.7" y2="63.0" stroke="#fff" stroke-opacity="0.14" stroke-width="0.5"/>
<line x1="143.7" y1="63.0" x2="146.4" y2="60.2" stroke="#fff" stroke-opacity="0.14" stroke-width="0.5"/>
<polygon points="106.0,40.3 111.2,45.6 107.2,39.5" fill="#a2cb65" stroke="#a2cb65" stroke-width="0.9" stroke-linejoin="round"/>
<polygon points="97.8,32.0 106.0,40.3 107.2,39.5 101.1,30.0" fill="#916ebc" stroke="#916ebc" stroke-width="0.9" stroke-linejoin="round"/>
<polygon points="95.9,30.0 97.8,32.0 101.1,30.0 99.9,28.1" fill="#4eb7da" stroke="#4eb7da" stroke-width="0.9" stroke-linejoin="round"/>
<line x1="111.2" y1="45.6" x2="99.9" y2="28.1" stroke="#fff" stroke-opacity="0.14" stroke-width="0.5"/>
<line x1="99.9" y1="28.1" x2="95.9" y2="30.0" stroke="#fff" stroke-opacity="0.14" stroke-width="0.5"/>
<polygon points="86.0,20.3 88.5,20.3 86.3,19.9" fill="#44b3d8" stroke="#44b3d8" stroke-width="0.9" stroke-linejoin="round"/>
<polygon points="72.9,20.1 86.0,20.3 86.3,19.9 77.4,18.5" fill="#ee9640" stroke="#ee9640" stroke-width="0.9" stroke-linejoin="round"/>
<line x1="88.5" y1="20.3" x2="77.4" y2="18.5" stroke="#fff" stroke-opacity="0.14" stroke-width="0.5"/>
<line x1="77.4" y1="18.5" x2="72.9" y2="20.1" stroke="#fff" stroke-opacity="0.14" stroke-width="0.5"/>
<polygon points="103.9,42.0 107.6,47.6 111.2,45.6 106.0,40.3" fill="#a2cb65" stroke="#a2cb65" stroke-width="0.9" stroke-linejoin="round"/>
<polygon points="97.4,32.2 103.9,42.0 106.0,40.3 97.8,32.0" fill="#916ebc" stroke="#916ebc" stroke-width="0.9" stroke-linejoin="round"/>
<polygon points="95.9,30.0 97.4,32.2 97.8,32.0" fill="#4eb7da" stroke="#4eb7da" stroke-width="0.9" stroke-linejoin="round"/>
<line x1="95.9" y1="30.0" x2="107.6" y2="47.6" stroke="#fff" stroke-opacity="0.14" stroke-width="0.5"/>
<line x1="107.6" y1="47.6" x2="111.2" y2="45.6" stroke="#fff" stroke-opacity="0.14" stroke-width="0.5"/>
<polygon points="61.7,20.5 72.9,20.1 77.4,18.5" fill="#df8b3a" stroke="#df8b3a" stroke-width="0.9" stroke-linejoin="round"/>
<line x1="61.7" y1="20.5" x2="72.9" y2="20.1" stroke="#fff" stroke-opacity="0.14" stroke-width="0.5"/>
<line x1="72.9" y1="20.1" x2="77.4" y2="18.5" stroke="#fff" stroke-opacity="0.14" stroke-width="0.5"/>
<polygon points="115.8,60.4 131.4,60.8 119.3,57.4" fill="#d15757" stroke="#d15757" stroke-width="0.9" stroke-linejoin="round"/>
<line x1="131.4" y1="60.8" x2="119.3" y2="57.4" stroke="#fff" stroke-opacity="0.14" stroke-width="0.5"/>
<line x1="119.3" y1="57.4" x2="115.8" y2="60.4" stroke="#fff" stroke-opacity="0.14" stroke-width="0.5"/>
<polygon points="84.7,22.0 99.9,28.1 88.5,20.3 86.3,21.1" fill="#50b7da" stroke="#50b7da" stroke-width="0.9" stroke-linejoin="round"/>
<polygon points="84.3,21.8 84.7,22.0 86.3,21.1" fill="#ef9d4c" stroke="#ef9d4c" stroke-width="0.9" stroke-linejoin="round"/>
<line x1="99.9" y1="28.1" x2="88.5" y2="20.3" stroke="#fff" stroke-opacity="0.14" stroke-width="0.5"/>
<line x1="88.5" y1="20.3" x2="84.3" y2="21.8" stroke="#fff" stroke-opacity="0.14" stroke-width="0.5"/>
<polygon points="128.2,63.8 143.7,63.0 131.4,60.8" fill="#d05252" stroke="#d05252" stroke-width="0.9" stroke-linejoin="round"/>
<line x1="143.7" y1="63.0" x2="131.4" y2="60.8" stroke="#fff" stroke-opacity="0.14" stroke-width="0.5"/>
<line x1="131.4" y1="60.8" x2="128.2" y2="63.8" stroke="#fff" stroke-opacity="0.14" stroke-width="0.5"/>
<polygon points="111.5,53.5 119.3,57.4 112.8,52.0" fill="#d35d5d" stroke="#d35d5d" stroke-width="0.9" stroke-linejoin="round"/>
<polygon points="103.8,49.7 111.5,53.5 112.8,52.0 107.6,47.6" fill="#a3cc66" stroke="#a3cc66" stroke-width="0.9" stroke-linejoin="round"/>
<line x1="119.3" y1="57.4" x2="107.6" y2="47.6" stroke="#fff" stroke-opacity="0.14" stroke-width="0.5"/>
<line x1="107.6" y1="47.6" x2="103.8" y2="49.7" stroke="#fff" stroke-opacity="0.14" stroke-width="0.5"/>
<polygon points="86.3,21.1 88.5,20.3 86.0,20.3" fill="#44b3d8" stroke="#44b3d8" stroke-width="0.9" stroke-linejoin="round"/>
<polygon points="72.9,20.1 84.3,21.8 86.3,21.1 86.0,20.3" fill="#ee9640" stroke="#ee9640" stroke-width="0.9" stroke-linejoin="round"/>
<line x1="72.9" y1="20.1" x2="84.3" y2="21.8" stroke="#fff" stroke-opacity="0.14" stroke-width="0.5"/>
<line x1="84.3" y1="21.8" x2="88.5" y2="20.3" stroke="#fff" stroke-opacity="0.14" stroke-width="0.5"/>
<polygon points="115.8,60.4 128.2,63.8 131.4,60.8" fill="#d15757" stroke="#d15757" stroke-width="0.9" stroke-linejoin="round"/>
<line x1="115.8" y1="60.4" x2="128.2" y2="63.8" stroke="#fff" stroke-opacity="0.14" stroke-width="0.5"/>
<line x1="128.2" y1="63.8" x2="131.4" y2="60.8" stroke="#fff" stroke-opacity="0.14" stroke-width="0.5"/>
<polygon points="84.6,22.0 95.9,30.0 99.9,28.1 84.7,22.0" fill="#50b7da" stroke="#50b7da" stroke-width="0.9" stroke-linejoin="round"/>
<polygon points="84.3,21.8 84.6,22.0 84.7,22.0" fill="#ef9d4c" stroke="#ef9d4c" stroke-width="0.9" stroke-linejoin="round"/>
<line x1="84.3" y1="21.8" x2="95.9" y2="30.0" stroke="#fff" stroke-opacity="0.14" stroke-width="0.5"/>
<line x1="95.9" y1="30.0" x2="99.9" y2="28.1" stroke="#fff" stroke-opacity="0.14" stroke-width="0.5"/>
<polygon points="56.7,22.4 72.9,20.1 61.7,20.5" fill="#dd8a39" stroke="#dd8a39" stroke-width="0.9" stroke-linejoin="round"/>
<line x1="72.9" y1="20.1" x2="61.7" y2="20.5" stroke="#fff" stroke-opacity="0.14" stroke-width="0.5"/>
<line x1="61.7" y1="20.5" x2="56.7" y2="22.4" stroke="#fff" stroke-opacity="0.14" stroke-width="0.5"/>
<polygon points="109.8,55.0 115.8,60.4 119.3,57.4 111.5,53.5" fill="#d35d5d" stroke="#d35d5d" stroke-width="0.9" stroke-linejoin="round"/>
<polygon points="103.8,49.7 109.8,55.0 111.5,53.5" fill="#a3cc66" stroke="#a3cc66" stroke-width="0.9" stroke-linejoin="round"/>
<line x1="103.8" y1="49.7" x2="115.8" y2="60.4" stroke="#fff" stroke-opacity="0.14" stroke-width="0.5"/>
<line x1="115.8" y1="60.4" x2="119.3" y2="57.4" stroke="#fff" stroke-opacity="0.14" stroke-width="0.5"/>
<polygon points="128.2,63.8 140.8,66.0 143.7,63.0" fill="#d05252" stroke="#d05252" stroke-width="0.9" stroke-linejoin="round"/>
<line x1="128.2" y1="63.8" x2="140.8" y2="66.0" stroke="#fff" stroke-opacity="0.14" stroke-width="0.5"/>
<line x1="140.8" y1="66.0" x2="143.7" y2="63.0" stroke="#fff" stroke-opacity="0.14" stroke-width="0.5"/>
<polygon points="102.7,42.8 107.6,47.6 103.9,42.0" fill="#a2cb65" stroke="#a2cb65" stroke-width="0.9" stroke-linejoin="round"/>
<polygon points="94.1,34.3 102.7,42.8 103.9,42.0 97.4,32.2" fill="#916ebc" stroke="#916ebc" stroke-width="0.9" stroke-linejoin="round"/>
<polygon points="91.8,32.1 94.1,34.3 97.4,32.2 95.9,30.0" fill="#4eb7da" stroke="#4eb7da" stroke-width="0.9" stroke-linejoin="round"/>
<line x1="107.6" y1="47.6" x2="95.9" y2="30.0" stroke="#fff" stroke-opacity="0.14" stroke-width="0.5"/>
<line x1="95.9" y1="30.0" x2="91.8" y2="32.1" stroke="#fff" stroke-opacity="0.14" stroke-width="0.5"/>
<polygon points="68.1,21.9 84.3,21.8 72.9,20.1" fill="#ee963f" stroke="#ee963f" stroke-width="0.9" stroke-linejoin="round"/>
<line x1="84.3" y1="21.8" x2="72.9" y2="20.1" stroke="#fff" stroke-opacity="0.14" stroke-width="0.5"/>
<line x1="72.9" y1="20.1" x2="68.1" y2="21.9" stroke="#fff" stroke-opacity="0.14" stroke-width="0.5"/>
<polygon points="56.7,22.4 68.1,21.9 72.9,20.1" fill="#dd8a39" stroke="#dd8a39" stroke-width="0.9" stroke-linejoin="round"/>
<line x1="56.7" y1="22.4" x2="68.1" y2="21.9" stroke="#fff" stroke-opacity="0.14" stroke-width="0.5"/>
<line x1="68.1" y1="21.9" x2="72.9" y2="20.1" stroke="#fff" stroke-opacity="0.14" stroke-width="0.5"/>
<polygon points="100.4,44.7 103.8,49.7 107.6,47.6 102.7,42.8" fill="#a2cb65" stroke="#a2cb65" stroke-width="0.9" stroke-linejoin="round"/>
<polygon points="93.5,34.7 100.4,44.7 102.7,42.8 94.1,34.3" fill="#916ebc" stroke="#916ebc" stroke-width="0.9" stroke-linejoin="round"/>
<polygon points="91.8,32.1 93.5,34.7 94.1,34.3" fill="#4eb7da" stroke="#4eb7da" stroke-width="0.9" stroke-linejoin="round"/>
<line x1="91.8" y1="32.1" x2="103.8" y2="49.7" stroke="#fff" stroke-opacity="0.14" stroke-width="0.5"/>
<line x1="103.8" y1="49.7" x2="107.6" y2="47.6" stroke="#fff" stroke-opacity="0.14" stroke-width="0.5"/>
<polygon points="112.1,63.4 128.2,63.8 115.8,60.4" fill="#d15757" stroke="#d15757" stroke-width="0.9" stroke-linejoin="round"/>
<line x1="128.2" y1="63.8" x2="115.8" y2="60.4" stroke="#fff" stroke-opacity="0.14" stroke-width="0.5"/>
<line x1="115.8" y1="60.4" x2="112.1" y2="63.4" stroke="#fff" stroke-opacity="0.14" stroke-width="0.5"/>
<polygon points="81.2,24.0 95.9,30.0 84.6,22.0" fill="#50b7da" stroke="#50b7da" stroke-width="0.9" stroke-linejoin="round"/>
<polygon points="79.8,23.5 81.2,24.0 84.6,22.0 84.3,21.8" fill="#ef9d4c" stroke="#ef9d4c" stroke-width="0.9" stroke-linejoin="round"/>
<line x1="95.9" y1="30.0" x2="84.3" y2="21.8" stroke="#fff" stroke-opacity="0.14" stroke-width="0.5"/>
<line x1="84.3" y1="21.8" x2="79.8" y2="23.5" stroke="#fff" stroke-opacity="0.14" stroke-width="0.5"/>
<polygon points="124.8,66.9 140.8,66.0 128.2,63.8" fill="#d05151" stroke="#d05151" stroke-width="0.9" stroke-linejoin="round"/>
<line x1="140.8" y1="66.0" x2="128.2" y2="63.8" stroke="#fff" stroke-opacity="0.14" stroke-width="0.5"/>
<line x1="128.2" y1="63.8" x2="124.8" y2="66.9" stroke="#fff" stroke-opacity="0.14" stroke-width="0.5"/>
<polygon points="108.4,56.5 115.8,60.4 109.8,55.0" fill="#d35d5d" stroke="#d35d5d" stroke-width="0.9" stroke-linejoin="round"/>
<polygon points="99.7,51.9 108.4,56.5 109.8,55.0 103.8,49.7" fill="#a3cc66" stroke="#a3cc66" stroke-width="0.9" stroke-linejoin="round"/>
<line x1="115.8" y1="60.4" x2="103.8" y2="49.7" stroke="#fff" stroke-opacity="0.14" stroke-width="0.5"/>
<line x1="103.8" y1="49.7" x2="99.7" y2="51.9" stroke="#fff" stroke-opacity="0.14" stroke-width="0.5"/>
<polygon points="68.1,21.9 79.8,23.5 84.3,21.8" fill="#ee963f" stroke="#ee963f" stroke-width="0.9" stroke-linejoin="round"/>
<line x1="68.1" y1="21.9" x2="79.8" y2="23.5" stroke="#fff" stroke-opacity="0.14" stroke-width="0.5"/>
<line x1="79.8" y1="23.5" x2="84.3" y2="21.8" stroke="#fff" stroke-opacity="0.14" stroke-width="0.5"/>
<polygon points="112.1,63.4 124.8,66.9 128.2,63.8" fill="#d15757" stroke="#d15757" stroke-width="0.9" stroke-linejoin="round"/>
<line x1="112.1" y1="63.4" x2="124.8" y2="66.9" stroke="#fff" stroke-opacity="0.14" stroke-width="0.5"/>
<line x1="124.8" y1="66.9" x2="128.2" y2="63.8" stroke="#fff" stroke-opacity="0.14" stroke-width="0.5"/>
<polygon points="80.8,24.2 91.8,32.1 95.9,30.0 81.2,24.0" fill="#50b7da" stroke="#50b7da" stroke-width="0.9" stroke-linejoin="round"/>
<polygon points="79.8,23.5 80.8,24.2 81.2,24.0" fill="#ef9d4c" stroke="#ef9d4c" stroke-width="0.9" stroke-linejoin="round"/>
<line x1="79.8" y1="23.5" x2="91.8" y2="32.1" stroke="#fff" stroke-opacity="0.14" stroke-width="0.5"/>
<line x1="91.8" y1="32.1" x2="95.9" y2="30.0" stroke="#fff" stroke-opacity="0.14" stroke-width="0.5"/>
<polygon points="51.4,24.4 68.1,21.9 56.7,22.4" fill="#dc8939" stroke="#dc8939" stroke-width="0.9" stroke-linejoin="round"/>
<line x1="68.1" y1="21.9" x2="56.7" y2="22.4" stroke="#fff" stroke-opacity="0.14" stroke-width="0.5"/>
<line x1="56.7" y1="22.4" x2="51.4" y2="24.4" stroke="#fff" stroke-opacity="0.14" stroke-width="0.5"/>
<polygon points="106.5,58.2 112.1,63.4 115.8,60.4 108.4,56.5" fill="#d35d5d" stroke="#d35d5d" stroke-width="0.9" stroke-linejoin="round"/>
<polygon points="99.7,51.9 106.5,58.2 108.4,56.5" fill="#a3cc66" stroke="#a3cc66" stroke-width="0.9" stroke-linejoin="round"/>
<line x1="99.7" y1="51.9" x2="112.1" y2="63.4" stroke="#fff" stroke-opacity="0.14" stroke-width="0.5"/>
<line x1="112.1" y1="63.4" x2="115.8" y2="60.4" stroke="#fff" stroke-opacity="0.14" stroke-width="0.5"/>
<polygon points="124.8,66.9 137.8,69.1 140.8,66.0" fill="#d05151" stroke="#d05151" stroke-width="0.9" stroke-linejoin="round"/>
<line x1="124.8" y1="66.9" x2="137.8" y2="69.1" stroke="#fff" stroke-opacity="0.14" stroke-width="0.5"/>
<line x1="137.8" y1="69.1" x2="140.8" y2="66.0" stroke="#fff" stroke-opacity="0.14" stroke-width="0.5"/>
<polygon points="99.3,45.5 103.8,49.7 100.4,44.7" fill="#a2cb65" stroke="#a2cb65" stroke-width="0.9" stroke-linejoin="round"/>
<polygon points="90.1,36.8 99.3,45.5 100.4,44.7 93.5,34.7" fill="#916ebc" stroke="#916ebc" stroke-width="0.9" stroke-linejoin="round"/>
<polygon points="87.4,34.2 90.1,36.8 93.5,34.7 91.8,32.1" fill="#4eb7da" stroke="#4eb7da" stroke-width="0.9" stroke-linejoin="round"/>
<line x1="103.8" y1="49.7" x2="91.8" y2="32.1" stroke="#fff" stroke-opacity="0.14" stroke-width="0.5"/>
<line x1="91.8" y1="32.1" x2="87.4" y2="34.2" stroke="#fff" stroke-opacity="0.14" stroke-width="0.5"/>
<polygon points="63.1,23.7 79.8,23.5 68.1,21.9" fill="#ee953f" stroke="#ee953f" stroke-width="0.9" stroke-linejoin="round"/>
<line x1="79.8" y1="23.5" x2="68.1" y2="21.9" stroke="#fff" stroke-opacity="0.14" stroke-width="0.5"/>
<line x1="68.1" y1="21.9" x2="63.1" y2="23.7" stroke="#fff" stroke-opacity="0.14" stroke-width="0.5"/>
<polygon points="51.4,24.4 63.1,23.7 68.1,21.9" fill="#dc8939" stroke="#dc8939" stroke-width="0.9" stroke-linejoin="round"/>
<line x1="51.4" y1="24.4" x2="63.1" y2="23.7" stroke="#fff" stroke-opacity="0.14" stroke-width="0.5"/>
<line x1="63.1" y1="23.7" x2="68.1" y2="21.9" stroke="#fff" stroke-opacity="0.14" stroke-width="0.5"/>
<polygon points="96.7,47.6 99.7,51.9 103.8,49.7 99.3,45.5" fill="#a2cb65" stroke="#a2cb65" stroke-width="0.9" stroke-linejoin="round"/>
<polygon points="89.4,37.2 96.7,47.6 99.3,45.5 90.1,36.8" fill="#916ebc" stroke="#916ebc" stroke-width="0.9" stroke-linejoin="round"/>
<polygon points="87.4,34.2 89.4,37.2 90.1,36.8" fill="#4eb7da" stroke="#4eb7da" stroke-width="0.9" stroke-linejoin="round"/>
<line x1="87.4" y1="34.2" x2="99.7" y2="51.9" stroke="#fff" stroke-opacity="0.14" stroke-width="0.5"/>
<line x1="99.7" y1="51.9" x2="103.8" y2="49.7" stroke="#fff" stroke-opacity="0.14" stroke-width="0.5"/>
<polygon points="108.2,66.7 124.8,66.9 112.1,63.4" fill="#d15656" stroke="#d15656" stroke-width="0.9" stroke-linejoin="round"/>
<line x1="124.8" y1="66.9" x2="112.1" y2="63.4" stroke="#fff" stroke-opacity="0.14" stroke-width="0.5"/>
<line x1="112.1" y1="63.4" x2="108.2" y2="66.7" stroke="#fff" stroke-opacity="0.14" stroke-width="0.5"/>
<polygon points="121.2,70.2 137.8,69.1 124.8,66.9" fill="#d05151" stroke="#d05151" stroke-width="0.9" stroke-linejoin="round"/>
<line x1="137.8" y1="69.1" x2="124.8" y2="66.9" stroke="#fff" stroke-opacity="0.14" stroke-width="0.5"/>
<line x1="124.8" y1="66.9" x2="121.2" y2="70.2" stroke="#fff" stroke-opacity="0.14" stroke-width="0.5"/>
<polygon points="77.4,26.1 91.8,32.1 80.8,24.2" fill="#50b7da" stroke="#50b7da" stroke-width="0.9" stroke-linejoin="round"/>
<polygon points="75.1,25.2 77.4,26.1 80.8,24.2 79.8,23.5" fill="#ef9d4c" stroke="#ef9d4c" stroke-width="0.9" stroke-linejoin="round"/>
<line x1="91.8" y1="32.1" x2="79.8" y2="23.5" stroke="#fff" stroke-opacity="0.14" stroke-width="0.5"/>
<line x1="79.8" y1="23.5" x2="75.1" y2="25.2" stroke="#fff" stroke-opacity="0.14" stroke-width="0.5"/>
<polygon points="105.2,59.6 112.1,63.4 106.5,58.2" fill="#d35d5d" stroke="#d35d5d" stroke-width="0.9" stroke-linejoin="round"/>
<polygon points="95.4,54.2 105.2,59.6 106.5,58.2 99.7,51.9" fill="#a3cc66" stroke="#a3cc66" stroke-width="0.9" stroke-linejoin="round"/>
<line x1="112.1" y1="63.4" x2="99.7" y2="51.9" stroke="#fff" stroke-opacity="0.14" stroke-width="0.5"/>
<line x1="99.7" y1="51.9" x2="95.4" y2="54.2" stroke="#fff" stroke-opacity="0.14" stroke-width="0.5"/>
<polygon points="108.2,66.7 121.2,70.2 124.8,66.9" fill="#d15656" stroke="#d15656" stroke-width="0.9" stroke-linejoin="round"/>
<line x1="108.2" y1="66.7" x2="121.2" y2="70.2" stroke="#fff" stroke-opacity="0.14" stroke-width="0.5"/>
<line x1="121.2" y1="70.2" x2="124.8" y2="66.9" stroke="#fff" stroke-opacity="0.14" stroke-width="0.5"/>
<polygon points="63.1,23.7 75.1,25.2 79.8,23.5" fill="#ee953f" stroke="#ee953f" stroke-width="0.9" stroke-linejoin="round"/>
<line x1="63.1" y1="23.7" x2="75.1" y2="25.2" stroke="#fff" stroke-opacity="0.14" stroke-width="0.5"/>
<line x1="75.1" y1="25.2" x2="79.8" y2="23.5" stroke="#fff" stroke-opacity="0.14" stroke-width="0.5"/>
<polygon points="45.8,26.5 63.1,23.7 51.4,24.4" fill="#da8838" stroke="#da8838" stroke-width="0.9" stroke-linejoin="round"/>
<line x1="63.1" y1="23.7" x2="51.4" y2="24.4" stroke="#fff" stroke-opacity="0.14" stroke-width="0.5"/>
<line x1="51.4" y1="24.4" x2="45.8" y2="26.5" stroke="#fff" stroke-opacity="0.14" stroke-width="0.5"/>
<polygon points="102.9,61.6 108.2,66.7 112.1,63.4 105.2,59.6" fill="#d35d5d" stroke="#d35d5d" stroke-width="0.9" stroke-linejoin="round"/>
<polygon points="95.4,54.2 102.9,61.6 105.2,59.6" fill="#a3cc66" stroke="#a3cc66" stroke-width="0.9" stroke-linejoin="round"/>
<line x1="95.4" y1="54.2" x2="108.2" y2="66.7" stroke="#fff" stroke-opacity="0.14" stroke-width="0.5"/>
<line x1="108.2" y1="66.7" x2="112.1" y2="63.4" stroke="#fff" stroke-opacity="0.14" stroke-width="0.5"/>
<polygon points="76.8,26.5 87.4,34.2 91.8,32.1 77.4,26.1" fill="#50b7da" stroke="#50b7da" stroke-width="0.9" stroke-linejoin="round"/>
<polygon points="75.1,25.2 76.8,26.5 77.4,26.1" fill="#ef9d4c" stroke="#ef9d4c" stroke-width="0.9" stroke-linejoin="round"/>
<line x1="75.1" y1="25.2" x2="87.4" y2="34.2" stroke="#fff" stroke-opacity="0.14" stroke-width="0.5"/>
<line x1="87.4" y1="34.2" x2="91.8" y2="32.1" stroke="#fff" stroke-opacity="0.14" stroke-width="0.5"/>
<polygon points="121.2,70.2 134.6,72.5 137.8,69.1" fill="#d05151" stroke="#d05151" stroke-width="0.9" stroke-linejoin="round"/>
<line x1="121.2" y1="70.2" x2="134.6" y2="72.5" stroke="#fff" stroke-opacity="0.14" stroke-width="0.5"/>
<line x1="134.6" y1="72.5" x2="137.8" y2="69.1" stroke="#fff" stroke-opacity="0.14" stroke-width="0.5"/>
<polygon points="95.7,48.3 99.7,51.9 96.7,47.6" fill="#a2cb65" stroke="#a2cb65" stroke-width="0.9" stroke-linejoin="round"/>
<polygon points="85.9,39.4 95.7,48.3 96.7,47.6 89.4,37.2" fill="#926ebc" stroke="#926ebc" stroke-width="0.9" stroke-linejoin="round"/>
<polygon points="82.7,36.5 85.9,39.4 89.4,37.2 87.4,34.2" fill="#4fb7da" stroke="#4fb7da" stroke-width="0.9" stroke-linejoin="round"/>
<line x1="99.7" y1="51.9" x2="87.4" y2="34.2" stroke="#fff" stroke-opacity="0.14" stroke-width="0.5"/>
<line x1="87.4" y1="34.2" x2="82.7" y2="36.5" stroke="#fff" stroke-opacity="0.14" stroke-width="0.5"/>
<polygon points="57.8,25.7 75.1,25.2 63.1,23.7" fill="#ee953e" stroke="#ee953e" stroke-width="0.9" stroke-linejoin="round"/>
<line x1="75.1" y1="25.2" x2="63.1" y2="23.7" stroke="#fff" stroke-opacity="0.14" stroke-width="0.5"/>
<line x1="63.1" y1="23.7" x2="57.8" y2="25.7" stroke="#fff" stroke-opacity="0.14" stroke-width="0.5"/>
<polygon points="45.8,26.5 57.8,25.7 63.1,23.7" fill="#da8838" stroke="#da8838" stroke-width="0.9" stroke-linejoin="round"/>
<line x1="45.8" y1="26.5" x2="57.8" y2="25.7" stroke="#fff" stroke-opacity="0.14" stroke-width="0.5"/>
<line x1="57.8" y1="25.7" x2="63.1" y2="23.7" stroke="#fff" stroke-opacity="0.14" stroke-width="0.5"/>
<polygon points="104.0,70.2 121.2,70.2 108.2,66.7" fill="#d15656" stroke="#d15656" stroke-width="0.9" stroke-linejoin="round"/>
<line x1="121.2" y1="70.2" x2="108.2" y2="66.7" stroke="#fff" stroke-opacity="0.14" stroke-width="0.5"/>
<line x1="108.2" y1="66.7" x2="104.0" y2="70.2" stroke="#fff" stroke-opacity="0.14" stroke-width="0.5"/>
<polygon points="92.8,50.6 95.4,54.2 99.7,51.9 95.7,48.3" fill="#a2cb65" stroke="#a2cb65" stroke-width="0.9" stroke-linejoin="round"/>
<polygon points="85.1,39.9 92.8,50.6 95.7,48.3 85.9,39.4" fill="#926ebc" stroke="#926ebc" stroke-width="0.9" stroke-linejoin="round"/>
<polygon points="82.7,36.5 85.1,39.9 85.9,39.4" fill="#4fb7da" stroke="#4fb7da" stroke-width="0.9" stroke-linejoin="round"/>
<line x1="82.7" y1="36.5" x2="95.4" y2="54.2" stroke="#fff" stroke-opacity="0.14" stroke-width="0.5"/>
<line x1="95.4" y1="54.2" x2="99.7" y2="51.9" stroke="#fff" stroke-opacity="0.14" stroke-width="0.5"/>
<polygon points="117.4,73.8 134.6,72.5 121.2,70.2" fill="#d05151" stroke="#d05151" stroke-width="0.9" stroke-linejoin="round"/>
<line x1="134.6" y1="72.5" x2="121.2" y2="70.2" stroke="#fff" stroke-opacity="0.14" stroke-width="0.5"/>
<line x1="121.2" y1="70.2" x2="117.4" y2="73.8" stroke="#fff" stroke-opacity="0.14" stroke-width="0.5"/>
<polygon points="73.3,28.4 87.4,34.2 76.8,26.5" fill="#50b7db" stroke="#50b7db" stroke-width="0.9" stroke-linejoin="round"/>
<polygon points="70.1,27.1 73.3,28.4 76.8,26.5 75.1,25.2" fill="#ef9d4c" stroke="#ef9d4c" stroke-width="0.9" stroke-linejoin="round"/>
<line x1="87.4" y1="34.2" x2="75.1" y2="25.2" stroke="#fff" stroke-opacity="0.14" stroke-width="0.5"/>
<line x1="75.1" y1="25.2" x2="70.1" y2="27.1" stroke="#fff" stroke-opacity="0.14" stroke-width="0.5"/>
<polygon points="101.6,62.9 108.2,66.7 102.9,61.6" fill="#d35d5d" stroke="#d35d5d" stroke-width="0.9" stroke-linejoin="round"/>
<polygon points="90.9,56.7 101.6,62.9 102.9,61.6 95.4,54.2" fill="#a3cc66" stroke="#a3cc66" stroke-width="0.9" stroke-linejoin="round"/>
<line x1="108.2" y1="66.7" x2="95.4" y2="54.2" stroke="#fff" stroke-opacity="0.14" stroke-width="0.5"/>
<line x1="95.4" y1="54.2" x2="90.9" y2="56.7" stroke="#fff" stroke-opacity="0.14" stroke-width="0.5"/>
<polygon points="104.0,70.2 117.4,73.8 121.2,70.2" fill="#d15656" stroke="#d15656" stroke-width="0.9" stroke-linejoin="round"/>
<line x1="104.0" y1="70.2" x2="117.4" y2="73.8" stroke="#fff" stroke-opacity="0.14" stroke-width="0.5"/>
<line x1="117.4" y1="73.8" x2="121.2" y2="70.2" stroke="#fff" stroke-opacity="0.14" stroke-width="0.5"/>
<polygon points="57.8,25.7 70.1,27.1 75.1,25.2" fill="#ee953e" stroke="#ee953e" stroke-width="0.9" stroke-linejoin="round"/>
<line x1="57.8" y1="25.7" x2="70.1" y2="27.1" stroke="#fff" stroke-opacity="0.14" stroke-width="0.5"/>
<line x1="70.1" y1="27.1" x2="75.1" y2="25.2" stroke="#fff" stroke-opacity="0.14" stroke-width="0.5"/>
<polygon points="39.9,28.7 57.8,25.7 45.8,26.5" fill="#d98738" stroke="#d98738" stroke-width="0.9" stroke-linejoin="round"/>
<line x1="57.8" y1="25.7" x2="45.8" y2="26.5" stroke="#fff" stroke-opacity="0.14" stroke-width="0.5"/>
<line x1="45.8" y1="26.5" x2="39.9" y2="28.7" stroke="#fff" stroke-opacity="0.14" stroke-width="0.5"/>
<polygon points="99.1,65.1 104.0,70.2 108.2,66.7 101.6,62.9" fill="#d35d5d" stroke="#d35d5d" stroke-width="0.9" stroke-linejoin="round"/>
<polygon points="90.9,56.7 99.1,65.1 101.6,62.9" fill="#a3cc66" stroke="#a3cc66" stroke-width="0.9" stroke-linejoin="round"/>
<line x1="90.9" y1="56.7" x2="104.0" y2="70.2" stroke="#fff" stroke-opacity="0.14" stroke-width="0.5"/>
<line x1="104.0" y1="70.2" x2="108.2" y2="66.7" stroke="#fff" stroke-opacity="0.14" stroke-width="0.5"/>
<polygon points="72.5,28.8 82.7,36.5 87.4,34.2 73.3,28.4" fill="#50b7db" stroke="#50b7db" stroke-width="0.9" stroke-linejoin="round"/>
<polygon points="70.1,27.1 72.5,28.8 73.3,28.4" fill="#ef9d4c" stroke="#ef9d4c" stroke-width="0.9" stroke-linejoin="round"/>
<line x1="70.1" y1="27.1" x2="82.7" y2="36.5" stroke="#fff" stroke-opacity="0.14" stroke-width="0.5"/>
<line x1="82.7" y1="36.5" x2="87.4" y2="34.2" stroke="#fff" stroke-opacity="0.14" stroke-width="0.5"/>
<polygon points="117.4,73.8 131.2,76.0 134.6,72.5" fill="#d05151" stroke="#d05151" stroke-width="0.9" stroke-linejoin="round"/>
<line x1="117.4" y1="73.8" x2="131.2" y2="76.0" stroke="#fff" stroke-opacity="0.14" stroke-width="0.5"/>
<line x1="131.2" y1="76.0" x2="134.6" y2="72.5" stroke="#fff" stroke-opacity="0.14" stroke-width="0.5"/>
<polygon points="92.0,51.3 95.4,54.2 92.8,50.6" fill="#a2cb65" stroke="#a2cb65" stroke-width="0.9" stroke-linejoin="round"/>
<polygon points="81.4,42.2 92.0,51.3 92.8,50.6 85.1,39.9" fill="#926ebc" stroke="#926ebc" stroke-width="0.9" stroke-linejoin="round"/>
<polygon points="77.7,39.0 81.4,42.2 85.1,39.9 82.7,36.5" fill="#4fb7da" stroke="#4fb7da" stroke-width="0.9" stroke-linejoin="round"/>
<line x1="95.4" y1="54.2" x2="82.7" y2="36.5" stroke="#fff" stroke-opacity="0.14" stroke-width="0.5"/>
<line x1="82.7" y1="36.5" x2="77.7" y2="39.0" stroke="#fff" stroke-opacity="0.14" stroke-width="0.5"/>
<polygon points="52.2,27.8 70.1,27.1 57.8,25.7" fill="#ed943d" stroke="#ed943d" stroke-width="0.9" stroke-linejoin="round"/>
<line x1="70.1" y1="27.1" x2="57.8" y2="25.7" stroke="#fff" stroke-opacity="0.14" stroke-width="0.5"/>
<line x1="57.8" y1="25.7" x2="52.2" y2="27.8" stroke="#fff" stroke-opacity="0.14" stroke-width="0.5"/>
<polygon points="39.9,28.7 52.2,27.8 57.8,25.7" fill="#d98738" stroke="#d98738" stroke-width="0.9" stroke-linejoin="round"/>
<line x1="39.9" y1="28.7" x2="52.2" y2="27.8" stroke="#fff" stroke-opacity="0.14" stroke-width="0.5"/>
<line x1="52.2" y1="27.8" x2="57.8" y2="25.7" stroke="#fff" stroke-opacity="0.14" stroke-width="0.5"/>
<polygon points="99.5,73.9 117.4,73.8 104.0,70.2" fill="#d15656" stroke="#d15656" stroke-width="0.9" stroke-linejoin="round"/>
<line x1="117.4" y1="73.8" x2="104.0" y2="70.2" stroke="#fff" stroke-opacity="0.14" stroke-width="0.5"/>
<line x1="104.0" y1="70.2" x2="99.5" y2="73.9" stroke="#fff" stroke-opacity="0.14" stroke-width="0.5"/>
<polygon points="88.7,53.9 90.9,56.7 95.4,54.2 92.0,51.3" fill="#a2cb65" stroke="#a2cb65" stroke-width="0.9" stroke-linejoin="round"/>
<polygon points="80.6,42.8 88.7,53.9 92.0,51.3 81.4,42.2" fill="#926ebc" stroke="#926ebc" stroke-width="0.9" stroke-linejoin="round"/>
<polygon points="77.7,39.0 80.6,42.8 81.4,42.2" fill="#4fb7da" stroke="#4fb7da" stroke-width="0.9" stroke-linejoin="round"/>
<line x1="77.7" y1="39.0" x2="90.9" y2="56.7" stroke="#fff" stroke-opacity="0.14" stroke-width="0.5"/>
<line x1="90.9" y1="56.7" x2="95.4" y2="54.2" stroke="#fff" stroke-opacity="0.14" stroke-width="0.5"/>
<polygon points="113.4,77.6 131.2,76.0 117.4,73.8" fill="#d05050" stroke="#d05050" stroke-width="0.9" stroke-linejoin="round"/>
<line x1="131.2" y1="76.0" x2="117.4" y2="73.8" stroke="#fff" stroke-opacity="0.14" stroke-width="0.5"/>
<line x1="117.4" y1="73.8" x2="113.4" y2="77.6" stroke="#fff" stroke-opacity="0.14" stroke-width="0.5"/>
<polygon points="69.0,30.8 82.7,36.5 72.5,28.8" fill="#50b7db" stroke="#50b7db" stroke-width="0.9" stroke-linejoin="round"/>
<polygon points="64.8,29.0 69.0,30.8 72.5,28.8 70.1,27.1" fill="#ef9d4c" stroke="#ef9d4c" stroke-width="0.9" stroke-linejoin="round"/>
<line x1="82.7" y1="36.5" x2="70.1" y2="27.1" stroke="#fff" stroke-opacity="0.14" stroke-width="0.5"/>
<line x1="70.1" y1="27.1" x2="64.8" y2="29.0" stroke="#fff" stroke-opacity="0.14" stroke-width="0.5"/>
<polygon points="97.8,66.5 104.0,70.2 99.1,65.1" fill="#d35c5c" stroke="#d35c5c" stroke-width="0.9" stroke-linejoin="round"/>
<polygon points="86.0,59.4 97.8,66.5 99.1,65.1 90.9,56.7" fill="#a3cc66" stroke="#a3cc66" stroke-width="0.9" stroke-linejoin="round"/>
<line x1="104.0" y1="70.2" x2="90.9" y2="56.7" stroke="#fff" stroke-opacity="0.14" stroke-width="0.5"/>
<line x1="90.9" y1="56.7" x2="86.0" y2="59.4" stroke="#fff" stroke-opacity="0.14" stroke-width="0.5"/>
<polygon points="99.5,73.9 113.4,77.6 117.4,73.8" fill="#d15656" stroke="#d15656" stroke-width="0.9" stroke-linejoin="round"/>
<line x1="99.5" y1="73.9" x2="113.4" y2="77.6" stroke="#fff" stroke-opacity="0.14" stroke-width="0.5"/>
<line x1="113.4" y1="77.6" x2="117.4" y2="73.8" stroke="#fff" stroke-opacity="0.14" stroke-width="0.5"/>
<polygon points="33.6,31.0 52.2,27.8 39.9,28.7" fill="#d78638" stroke="#d78638" stroke-width="0.9" stroke-linejoin="round"/>
<line x1="52.2" y1="27.8" x2="39.9" y2="28.7" stroke="#fff" stroke-opacity="0.14" stroke-width="0.5"/>
<line x1="39.9" y1="28.7" x2="33.6" y2="31.0" stroke="#fff" stroke-opacity="0.14" stroke-width="0.5"/>
<polygon points="52.2,27.8 64.8,29.0 70.1,27.1" fill="#ed943d" stroke="#ed943d" stroke-width="0.9" stroke-linejoin="round"/>
<line x1="52.2" y1="27.8" x2="64.8" y2="29.0" stroke="#fff" stroke-opacity="0.14" stroke-width="0.5"/>
<line x1="64.8" y1="29.0" x2="70.1" y2="27.1" stroke="#fff" stroke-opacity="0.14" stroke-width="0.5"/>
<polygon points="94.9,68.9 99.5,73.9 104.0,70.2 97.8,66.5" fill="#d35c5c" stroke="#d35c5c" stroke-width="0.9" stroke-linejoin="round"/>
<polygon points="86.0,59.4 94.9,68.9 97.8,66.5" fill="#a3cc66" stroke="#a3cc66" stroke-width="0.9" stroke-linejoin="round"/>
<line x1="86.0" y1="59.4" x2="99.5" y2="73.9" stroke="#fff" stroke-opacity="0.14" stroke-width="0.5"/>
<line x1="99.5" y1="73.9" x2="104.0" y2="70.2" stroke="#fff" stroke-opacity="0.14" stroke-width="0.5"/>
<polygon points="113.4,77.6 127.5,79.8 131.2,76.0" fill="#d05050" stroke="#d05050" stroke-width="0.9" stroke-linejoin="round"/>
<line x1="113.4" y1="77.6" x2="127.5" y2="79.8" stroke="#fff" stroke-opacity="0.14" stroke-width="0.5"/>
<line x1="127.5" y1="79.8" x2="131.2" y2="76.0" stroke="#fff" stroke-opacity="0.14" stroke-width="0.5"/>
<polygon points="67.9,31.4 77.7,39.0 82.7,36.5 69.0,30.8" fill="#50b7db" stroke="#50b7db" stroke-width="0.9" stroke-linejoin="round"/>
<polygon points="64.8,29.0 67.9,31.4 69.0,30.8" fill="#ef9d4c" stroke="#ef9d4c" stroke-width="0.9" stroke-linejoin="round"/>
<line x1="64.8" y1="29.0" x2="77.7" y2="39.0" stroke="#fff" stroke-opacity="0.14" stroke-width="0.5"/>
<line x1="77.7" y1="39.0" x2="82.7" y2="36.5" stroke="#fff" stroke-opacity="0.14" stroke-width="0.5"/>
<polygon points="94.8,77.8 113.4,77.6 99.5,73.9" fill="#d15656" stroke="#d15656" stroke-width="0.9" stroke-linejoin="round"/>
<line x1="113.4" y1="77.6" x2="99.5" y2="73.9" stroke="#fff" stroke-opacity="0.14" stroke-width="0.5"/>
<line x1="99.5" y1="73.9" x2="94.8" y2="77.8" stroke="#fff" stroke-opacity="0.14" stroke-width="0.5"/>
<polygon points="33.6,31.0 46.1,30.0 52.2,27.8" fill="#d78638" stroke="#d78638" stroke-width="0.9" stroke-linejoin="round"/>
<line x1="33.6" y1="31.0" x2="46.1" y2="30.0" stroke="#fff" stroke-opacity="0.14" stroke-width="0.5"/>
<line x1="46.1" y1="30.0" x2="52.2" y2="27.8" stroke="#fff" stroke-opacity="0.14" stroke-width="0.5"/>
<polygon points="46.1,30.0 64.8,29.0 52.2,27.8" fill="#eb933d" stroke="#eb933d" stroke-width="0.9" stroke-linejoin="round"/>
<line x1="64.8" y1="29.0" x2="52.2" y2="27.8" stroke="#fff" stroke-opacity="0.14" stroke-width="0.5"/>
<line x1="52.2" y1="27.8" x2="46.1" y2="30.0" stroke="#fff" stroke-opacity="0.14" stroke-width="0.5"/>
<polygon points="88.0,54.4 90.9,56.7 88.7,53.9" fill="#a2cb65" stroke="#a2cb65" stroke-width="0.9" stroke-linejoin="round"/>
<polygon points="76.8,45.1 88.0,54.4 88.7,53.9 80.6,42.8" fill="#926ebc" stroke="#926ebc" stroke-width="0.9" stroke-linejoin="round"/>
<polygon points="72.5,41.6 76.8,45.1 80.6,42.8 77.7,39.0" fill="#4fb7da" stroke="#4fb7da" stroke-width="0.9" stroke-linejoin="round"/>
<line x1="90.9" y1="56.7" x2="77.7" y2="39.0" stroke="#fff" stroke-opacity="0.14" stroke-width="0.5"/>
<line x1="77.7" y1="39.0" x2="72.5" y2="41.6" stroke="#fff" stroke-opacity="0.14" stroke-width="0.5"/>
<polygon points="84.4,57.3 86.0,59.4 90.9,56.7 88.0,54.4" fill="#a2cb65" stroke="#a2cb65" stroke-width="0.9" stroke-linejoin="round"/>
<polygon points="75.7,45.9 84.4,57.3 88.0,54.4 76.8,45.1" fill="#926ebc" stroke="#926ebc" stroke-width="0.9" stroke-linejoin="round"/>
<polygon points="72.5,41.6 75.7,45.9 76.8,45.1" fill="#4fb7da" stroke="#4fb7da" stroke-width="0.9" stroke-linejoin="round"/>
<line x1="72.5" y1="41.6" x2="86.0" y2="59.4" stroke="#fff" stroke-opacity="0.14" stroke-width="0.5"/>
<line x1="86.0" y1="59.4" x2="90.9" y2="56.7" stroke="#fff" stroke-opacity="0.14" stroke-width="0.5"/>
<polygon points="109.0,81.6 127.5,79.8 113.4,77.6" fill="#d05050" stroke="#d05050" stroke-width="0.9" stroke-linejoin="round"/>
<line x1="127.5" y1="79.8" x2="113.4" y2="77.6" stroke="#fff" stroke-opacity="0.14" stroke-width="0.5"/>
<line x1="113.4" y1="77.6" x2="109.0" y2="81.6" stroke="#fff" stroke-opacity="0.14" stroke-width="0.5"/>
<polygon points="64.4,33.3 77.7,39.0 67.9,31.4" fill="#50b7db" stroke="#50b7db" stroke-width="0.9" stroke-linejoin="round"/>
<polygon points="59.1,31.1 64.4,33.3 67.9,31.4 64.8,29.0" fill="#ef9d4c" stroke="#ef9d4c" stroke-width="0.9" stroke-linejoin="round"/>
<line x1="77.7" y1="39.0" x2="64.8" y2="29.0" stroke="#fff" stroke-opacity="0.14" stroke-width="0.5"/>
<line x1="64.8" y1="29.0" x2="59.1" y2="31.1" stroke="#fff" stroke-opacity="0.14" stroke-width="0.5"/>
<polygon points="94.8,77.8 109.0,81.6 113.4,77.6" fill="#d15656" stroke="#d15656" stroke-width="0.9" stroke-linejoin="round"/>
<line x1="94.8" y1="77.8" x2="109.0" y2="81.6" stroke="#fff" stroke-opacity="0.14" stroke-width="0.5"/>
<line x1="109.0" y1="81.6" x2="113.4" y2="77.6" stroke="#fff" stroke-opacity="0.14" stroke-width="0.5"/>
<polygon points="93.7,70.2 99.5,73.9 94.9,68.9" fill="#d35c5c" stroke="#d35c5c" stroke-width="0.9" stroke-linejoin="round"/>
<polygon points="80.8,62.2 93.7,70.2 94.9,68.9 86.0,59.4" fill="#a3cc66" stroke="#a3cc66" stroke-width="0.9" stroke-linejoin="round"/>
<line x1="99.5" y1="73.9" x2="86.0" y2="59.4" stroke="#fff" stroke-opacity="0.14" stroke-width="0.5"/>
<line x1="86.0" y1="59.4" x2="80.8" y2="62.2" stroke="#fff" stroke-opacity="0.14" stroke-width="0.5"/>
<polygon points="26.9,33.5 46.1,30.0 33.6,31.0" fill="#d68537" stroke="#d68537" stroke-width="0.9" stroke-linejoin="round"/>
<line x1="46.1" y1="30.0" x2="33.6" y2="31.0" stroke="#fff" stroke-opacity="0.14" stroke-width="0.5"/>
<line x1="33.6" y1="31.0" x2="26.9" y2="33.5" stroke="#fff" stroke-opacity="0.14" stroke-width="0.5"/>
<polygon points="46.1,30.0 59.1,31.1 64.8,29.0" fill="#eb933d" stroke="#eb933d" stroke-width="0.9" stroke-linejoin="round"/>
<line x1="46.1" y1="30.0" x2="59.1" y2="31.1" stroke="#fff" stroke-opacity="0.14" stroke-width="0.5"/>
<line x1="59.1" y1="31.1" x2="64.8" y2="29.0" stroke="#fff" stroke-opacity="0.14" stroke-width="0.5"/>
<polygon points="90.5,73.0 94.8,77.8 99.5,73.9 93.7,70.2" fill="#d35c5c" stroke="#d35c5c" stroke-width="0.9" stroke-linejoin="round"/>
<polygon points="80.8,62.2 90.5,73.0 93.7,70.2" fill="#a3cc66" stroke="#a3cc66" stroke-width="0.9" stroke-linejoin="round"/>
<line x1="80.8" y1="62.2" x2="94.8" y2="77.8" stroke="#fff" stroke-opacity="0.14" stroke-width="0.5"/>
<line x1="94.8" y1="77.8" x2="99.5" y2="73.9" stroke="#fff" stroke-opacity="0.14" stroke-width="0.5"/>
<polygon points="109.0,81.6 123.6,83.8 127.5,79.8" fill="#d05050" stroke="#d05050" stroke-width="0.9" stroke-linejoin="round"/>
<line x1="109.0" y1="81.6" x2="123.6" y2="83.8" stroke="#fff" stroke-opacity="0.14" stroke-width="0.5"/>
<line x1="123.6" y1="83.8" x2="127.5" y2="79.8" stroke="#fff" stroke-opacity="0.14" stroke-width="0.5"/>
<polygon points="62.9,34.1 72.5,41.6 77.7,39.0 64.4,33.3" fill="#50b7db" stroke="#50b7db" stroke-width="0.9" stroke-linejoin="round"/>
<polygon points="59.1,31.1 62.9,34.1 64.4,33.3" fill="#ef9d4c" stroke="#ef9d4c" stroke-width="0.9" stroke-linejoin="round"/>
<line x1="59.1" y1="31.1" x2="72.5" y2="41.6" stroke="#fff" stroke-opacity="0.14" stroke-width="0.5"/>
<line x1="72.5" y1="41.6" x2="77.7" y2="39.0" stroke="#fff" stroke-opacity="0.14" stroke-width="0.5"/>
<polygon points="26.9,33.5 39.8,32.3 46.1,30.0" fill="#d68537" stroke="#d68537" stroke-width="0.9" stroke-linejoin="round"/>
<line x1="26.9" y1="33.5" x2="39.8" y2="32.3" stroke="#fff" stroke-opacity="0.14" stroke-width="0.5"/>
<line x1="39.8" y1="32.3" x2="46.1" y2="30.0" stroke="#fff" stroke-opacity="0.14" stroke-width="0.5"/>
<polygon points="39.8,32.3 59.1,31.1 46.1,30.0" fill="#e9923c" stroke="#e9923c" stroke-width="0.9" stroke-linejoin="round"/>
<line x1="59.1" y1="31.1" x2="46.1" y2="30.0" stroke="#fff" stroke-opacity="0.14" stroke-width="0.5"/>
<line x1="46.1" y1="30.0" x2="39.8" y2="32.3" stroke="#fff" stroke-opacity="0.14" stroke-width="0.5"/>
<polygon points="83.9,57.7 86.0,59.4 84.4,57.3" fill="#a2cb65" stroke="#a2cb65" stroke-width="0.9" stroke-linejoin="round"/>
<polygon points="71.8,48.3 83.9,57.7 84.4,57.3 75.7,45.9" fill="#926ebd" stroke="#926ebd" stroke-width="0.9" stroke-linejoin="round"/>
<polygon points="66.8,44.4 71.8,48.3 75.7,45.9 72.5,41.6" fill="#4fb7da" stroke="#4fb7da" stroke-width="0.9" stroke-linejoin="round"/>
<line x1="86.0" y1="59.4" x2="72.5" y2="41.6" stroke="#fff" stroke-opacity="0.14" stroke-width="0.5"/>
<line x1="72.5" y1="41.6" x2="66.8" y2="44.4" stroke="#fff" stroke-opacity="0.14" stroke-width="0.5"/>
<polygon points="79.9,61.0 80.8,62.2 86.0,59.4 83.9,57.7" fill="#a2cb65" stroke="#a2cb65" stroke-width="0.9" stroke-linejoin="round"/>
<polygon points="70.6,49.1 79.9,61.0 83.9,57.7 71.8,48.3" fill="#926ebd" stroke="#926ebd" stroke-width="0.9" stroke-linejoin="round"/>
<polygon points="66.8,44.4 70.6,49.1 71.8,48.3" fill="#4fb7da" stroke="#4fb7da" stroke-width="0.9" stroke-linejoin="round"/>
<line x1="66.8" y1="44.4" x2="80.8" y2="62.2" stroke="#fff" stroke-opacity="0.14" stroke-width="0.5"/>
<line x1="80.8" y1="62.2" x2="86.0" y2="59.4" stroke="#fff" stroke-opacity="0.14" stroke-width="0.5"/>
<polygon points="59.4,36.0 72.5,41.6 62.9,34.1" fill="#50b7db" stroke="#50b7db" stroke-width="0.9" stroke-linejoin="round"/>
<polygon points="53.0,33.3 59.4,36.0 62.9,34.1 59.1,31.1" fill="#ef9d4c" stroke="#ef9d4c" stroke-width="0.9" stroke-linejoin="round"/>
<line x1="72.5" y1="41.6" x2="59.1" y2="31.1" stroke="#fff" stroke-opacity="0.14" stroke-width="0.5"/>
<line x1="59.1" y1="31.1" x2="53.0" y2="33.3" stroke="#fff" stroke-opacity="0.14" stroke-width="0.5"/>
<polygon points="39.8,32.3 53.0,33.3 59.1,31.1" fill="#e9923c" stroke="#e9923c" stroke-width="0.9" stroke-linejoin="round"/>
<line x1="39.8" y1="32.3" x2="53.0" y2="33.3" stroke="#fff" stroke-opacity="0.14" stroke-width="0.5"/>
<line x1="53.0" y1="33.3" x2="59.1" y2="31.1" stroke="#fff" stroke-opacity="0.14" stroke-width="0.5"/>
<polygon points="57.6,37.0 66.8,44.4 72.5,41.6 59.4,36.0" fill="#50b7db" stroke="#50b7db" stroke-width="0.9" stroke-linejoin="round"/>
<polygon points="53.0,33.3 57.6,37.0 59.4,36.0" fill="#ef9d4c" stroke="#ef9d4c" stroke-width="0.9" stroke-linejoin="round"/>
<line x1="53.0" y1="33.3" x2="66.8" y2="44.4" stroke="#fff" stroke-opacity="0.14" stroke-width="0.5"/>
<line x1="66.8" y1="44.4" x2="72.5" y2="41.6" stroke="#fff" stroke-opacity="0.14" stroke-width="0.5"/>
<text x="25.70" y="26.30" font-size="7.1" text-anchor="end" fill="#111" stroke="#111" stroke-width="0.45">120</text>
<text x="25.70" y="37.45" font-size="7.1" text-anchor="end" fill="#111" stroke="#111" stroke-width="0.45">100</text>
<text x="25.70" y="47.85" font-size="7.1" text-anchor="end" fill="#111" stroke="#111" stroke-width="0.45">80</text>
<text x="25.70" y="58.55" font-size="7.1" text-anchor="end" fill="#111" stroke="#111" stroke-width="0.45">60</text>
<text x="25.70" y="70.05" font-size="7.1" text-anchor="end" fill="#111" stroke="#111" stroke-width="0.45">40</text>
<text x="25.70" y="80.75" font-size="7.1" text-anchor="end" fill="#111" stroke="#111" stroke-width="0.45">20</text>
<text x="25.70" y="91.85" font-size="7.1" text-anchor="end" fill="#111" stroke="#111" stroke-width="0.45">0</text>
<text x="6.00" y="53.20" font-size="6.3" text-anchor="middle" fill="#111" stroke="#111" stroke-width="0.45" transform="rotate(-90 6.00 53.20)" textLength="62" lengthAdjust="spacingAndGlyphs">Viability, % of untreated</text>
<text x="56.10" y="7.40" font-size="9.4" text-anchor="start" fill="#111" stroke="#111" stroke-width="0.45" textLength="57.0" lengthAdjust="spacingAndGlyphs">K562 (48 hrs)</text>
<text x="0.60" y="9.00" font-size="11.5" text-anchor="start" font-weight="bold" fill="#111" stroke="#111" stroke-width="0.35">A</text>
<defs><linearGradient id="gim0" x1="0" y1="0" x2="1" y2="0"><stop offset="0" stop-color="#c8c8c8"/><stop offset="0.35" stop-color="#909090"/><stop offset="0.8" stop-color="#333"/><stop offset="1" stop-color="#111"/></linearGradient><linearGradient id="gim0p" x1="0" y1="1" x2="0.35" y2="0"><stop offset="0" stop-color="#111"/><stop offset="0.5" stop-color="#777"/><stop offset="1" stop-color="#ddd" stop-opacity="0.3"/></linearGradient></defs>
<polygon points="30.9,87.6 121.9,98.4 122.8,103.6 30.9,89.6" fill="url(#gim0)"/>
<polygon points="121.9,98.4 140.8,69.0 143.8,69.4 122.8,103.6" fill="url(#gim0p)"/>
<text x="35.60" y="101.80" font-size="8.6" text-anchor="start" font-style="italic" fill="#111" stroke="#111" stroke-width="0.45" transform="rotate(8.2 35.60 101.80)">Imatinib 0 to 10µM</text>
<text x="132.00" y="105.30" font-size="8.7" text-anchor="start" fill="#111" stroke="#111" stroke-width="0.45" transform="rotate(-55 132.00 105.30)">PD173074</text>
<text x="141.50" y="111.20" font-size="8.7" text-anchor="start" fill="#111" stroke="#111" stroke-width="0.45" transform="rotate(-55 141.50 111.20)">0 to 1µM</text>
<polyline points="29.42,241.02 67.21,216.43 145.98,224.31" fill="none" stroke="#333" stroke-width="1.1" stroke-linejoin="round" stroke-linecap="round"/>
<polyline points="28.94,230.95 67.06,208.00 146.36,215.30" fill="none" stroke="#333" stroke-width="1.1" stroke-linejoin="round" stroke-linecap="round"/>
<polyline points="28.46,220.72 66.91,199.45 146.76,206.17" fill="none" stroke="#333" stroke-width="1.1" stroke-linejoin="round" stroke-linecap="round"/>
<polyline points="27.97,210.32 66.76,190.79 147.16,196.91" fill="none" stroke="#333" stroke-width="1.1" stroke-linejoin="round" stroke-linecap="round"/>
<polyline points="27.47,199.76 66.60,182.02 147.56,187.52" fill="none" stroke="#333" stroke-width="1.1" stroke-linejoin="round" stroke-linecap="round"/>
<polyline points="26.96,189.03 66.45,173.13 147.97,178.00" fill="none" stroke="#333" stroke-width="1.1" stroke-linejoin="round" stroke-linecap="round"/>
<polyline points="26.45,178.12 66.29,164.12 148.39,168.33" fill="none" stroke="#333" stroke-width="1.1" stroke-linejoin="round" stroke-linecap="round"/>
<polygon points="120.2,206.9 134.5,207.6 125.3,204.4" fill="#d35d5d" stroke="#d35d5d" stroke-width="0.9" stroke-linejoin="round"/>
<polygon points="119.4,206.8 120.2,206.9 125.3,204.4 122.8,203.5" fill="#a3cc66" stroke="#a3cc66" stroke-width="0.9" stroke-linejoin="round"/>
<line x1="134.5" y1="207.6" x2="122.8" y2="203.5" stroke="#fff" stroke-opacity="0.14" stroke-width="0.5"/>
<line x1="122.8" y1="203.5" x2="119.4" y2="206.8" stroke="#fff" stroke-opacity="0.14" stroke-width="0.5"/>
<polygon points="131.5,210.9 146.5,211.9 134.5,207.6" fill="#d35b5b" stroke="#d35b5b" stroke-width="0.9" stroke-linejoin="round"/>
<line x1="146.5" y1="211.9" x2="134.5" y2="207.6" stroke="#fff" stroke-opacity="0.14" stroke-width="0.5"/>
<line x1="134.5" y1="207.6" x2="131.5" y2="210.9" stroke="#fff" stroke-opacity="0.14" stroke-width="0.5"/>
<polygon points="66.4,173.1 66.4,173.1 66.4,173.1" fill="#3da5c9" stroke="#3da5c9" stroke-width="0.9" stroke-linejoin="round"/>
<polygon points="61.7,174.9 77.4,172.0 66.4,173.1" fill="#dd8a39" stroke="#dd8a39" stroke-width="0.9" stroke-linejoin="round"/>
<line x1="77.4" y1="172.0" x2="66.4" y2="173.1" stroke="#fff" stroke-opacity="0.14" stroke-width="0.5"/>
<line x1="66.4" y1="173.1" x2="61.7" y2="174.9" stroke="#fff" stroke-opacity="0.14" stroke-width="0.5"/>
<polygon points="120.0,207.0 131.5,210.9 134.5,207.6 120.2,206.9" fill="#d35d5d" stroke="#d35d5d" stroke-width="0.9" stroke-linejoin="round"/>
<polygon points="119.4,206.8 120.0,207.0 120.2,206.9" fill="#a3cc66" stroke="#a3cc66" stroke-width="0.9" stroke-linejoin="round"/>
<line x1="119.4" y1="206.8" x2="131.5" y2="210.9" stroke="#fff" stroke-opacity="0.14" stroke-width="0.5"/>
<line x1="131.5" y1="210.9" x2="134.5" y2="207.6" stroke="#fff" stroke-opacity="0.14" stroke-width="0.5"/>
<polygon points="131.5,210.9 143.8,214.9 146.5,211.9" fill="#d35b5b" stroke="#d35b5b" stroke-width="0.9" stroke-linejoin="round"/>
<line x1="131.5" y1="210.9" x2="143.8" y2="214.9" stroke="#fff" stroke-opacity="0.14" stroke-width="0.5"/>
<line x1="143.8" y1="214.9" x2="146.5" y2="211.9" stroke="#fff" stroke-opacity="0.14" stroke-width="0.5"/>
<polygon points="112.7,196.2 122.8,203.5 115.6,194.5" fill="#a4cc68" stroke="#a4cc68" stroke-width="0.9" stroke-linejoin="round"/>
<polygon points="107.7,192.6 112.7,196.2 115.6,194.5 111.4,189.2" fill="#9472be" stroke="#9472be" stroke-width="0.9" stroke-linejoin="round"/>
<line x1="122.8" y1="203.5" x2="111.4" y2="189.2" stroke="#fff" stroke-opacity="0.14" stroke-width="0.5"/>
<line x1="111.4" y1="189.2" x2="107.7" y2="192.6" stroke="#fff" stroke-opacity="0.14" stroke-width="0.5"/>
<polygon points="111.3,197.0 119.4,206.8 122.8,203.5 112.7,196.2" fill="#a4cc68" stroke="#a4cc68" stroke-width="0.9" stroke-linejoin="round"/>
<polygon points="107.7,192.6 111.3,197.0 112.7,196.2" fill="#9472be" stroke="#9472be" stroke-width="0.9" stroke-linejoin="round"/>
<line x1="107.7" y1="192.6" x2="119.4" y2="206.8" stroke="#fff" stroke-opacity="0.14" stroke-width="0.5"/>
<line x1="119.4" y1="206.8" x2="122.8" y2="203.5" stroke="#fff" stroke-opacity="0.14" stroke-width="0.5"/>
<polygon points="72.9,174.3 88.5,172.4 77.4,172.0" fill="#ee953f" stroke="#ee953f" stroke-width="0.9" stroke-linejoin="round"/>
<line x1="88.5" y1="172.4" x2="77.4" y2="172.0" stroke="#fff" stroke-opacity="0.14" stroke-width="0.5"/>
<line x1="77.4" y1="172.0" x2="72.9" y2="174.3" stroke="#fff" stroke-opacity="0.14" stroke-width="0.5"/>
<polygon points="61.7,174.9 72.9,174.3 77.4,172.0" fill="#dd8a39" stroke="#dd8a39" stroke-width="0.9" stroke-linejoin="round"/>
<line x1="61.7" y1="174.9" x2="72.9" y2="174.3" stroke="#fff" stroke-opacity="0.14" stroke-width="0.5"/>
<line x1="72.9" y1="174.3" x2="77.4" y2="172.0" stroke="#fff" stroke-opacity="0.14" stroke-width="0.5"/>
<polygon points="104.9,185.7 111.4,189.2 106.6,184.7" fill="#9572be" stroke="#9572be" stroke-width="0.9" stroke-linejoin="round"/>
<polygon points="96.0,180.8 104.9,185.7 106.6,184.7 99.9,178.5" fill="#53b9db" stroke="#53b9db" stroke-width="0.9" stroke-linejoin="round"/>
<line x1="111.4" y1="189.2" x2="99.9" y2="178.5" stroke="#fff" stroke-opacity="0.14" stroke-width="0.5"/>
<line x1="99.9" y1="178.5" x2="96.0" y2="180.8" stroke="#fff" stroke-opacity="0.14" stroke-width="0.5"/>
<polygon points="89.4,176.0 99.9,178.5 92.9,174.7" fill="#52b8db" stroke="#52b8db" stroke-width="0.9" stroke-linejoin="round"/>
<polygon points="84.3,174.8 89.4,176.0 92.9,174.7 88.5,172.4" fill="#ef9e4f" stroke="#ef9e4f" stroke-width="0.9" stroke-linejoin="round"/>
<line x1="99.9" y1="178.5" x2="88.5" y2="172.4" stroke="#fff" stroke-opacity="0.14" stroke-width="0.5"/>
<line x1="88.5" y1="172.4" x2="84.3" y2="174.8" stroke="#fff" stroke-opacity="0.14" stroke-width="0.5"/>
<polygon points="115.9,210.4 131.5,210.9 120.0,207.0 118.6,207.7" fill="#d35c5c" stroke="#d35c5c" stroke-width="0.9" stroke-linejoin="round"/>
<polygon points="120.0,207.0 119.4,206.8 118.6,207.7" fill="#a3cb65" stroke="#a3cb65" stroke-width="0.9" stroke-linejoin="round"/>
<line x1="131.5" y1="210.9" x2="119.4" y2="206.8" stroke="#fff" stroke-opacity="0.14" stroke-width="0.5"/>
<line x1="119.4" y1="206.8" x2="115.9" y2="210.4" stroke="#fff" stroke-opacity="0.14" stroke-width="0.5"/>
<polygon points="72.9,174.3 84.3,174.8 88.5,172.4" fill="#ee953f" stroke="#ee953f" stroke-width="0.9" stroke-linejoin="round"/>
<line x1="72.9" y1="174.3" x2="84.3" y2="174.8" stroke="#fff" stroke-opacity="0.14" stroke-width="0.5"/>
<line x1="84.3" y1="174.8" x2="88.5" y2="172.4" stroke="#fff" stroke-opacity="0.14" stroke-width="0.5"/>
<polygon points="128.3,214.3 143.8,214.9 131.5,210.9" fill="#d25a5a" stroke="#d25a5a" stroke-width="0.9" stroke-linejoin="round"/>
<line x1="143.8" y1="214.9" x2="131.5" y2="210.9" stroke="#fff" stroke-opacity="0.14" stroke-width="0.5"/>
<line x1="131.5" y1="210.9" x2="128.3" y2="214.3" stroke="#fff" stroke-opacity="0.14" stroke-width="0.5"/>
<polygon points="102.1,187.0 107.7,192.6 111.4,189.2 104.9,185.7" fill="#9572be" stroke="#9572be" stroke-width="0.9" stroke-linejoin="round"/>
<polygon points="96.0,180.8 102.1,187.0 104.9,185.7" fill="#53b9db" stroke="#53b9db" stroke-width="0.9" stroke-linejoin="round"/>
<line x1="96.0" y1="180.8" x2="107.7" y2="192.6" stroke="#fff" stroke-opacity="0.14" stroke-width="0.5"/>
<line x1="107.7" y1="192.6" x2="111.4" y2="189.2" stroke="#fff" stroke-opacity="0.14" stroke-width="0.5"/>
<polygon points="56.7,177.0 72.9,174.3 61.7,174.9" fill="#e58f3b" stroke="#e58f3b" stroke-width="0.9" stroke-linejoin="round"/>
<line x1="72.9" y1="174.3" x2="61.7" y2="174.9" stroke="#fff" stroke-opacity="0.14" stroke-width="0.5"/>
<line x1="61.7" y1="174.9" x2="56.7" y2="177.0" stroke="#fff" stroke-opacity="0.14" stroke-width="0.5"/>
<polygon points="87.9,176.7 96.0,180.8 99.9,178.5 89.4,176.0" fill="#52b8db" stroke="#52b8db" stroke-width="0.9" stroke-linejoin="round"/>
<polygon points="84.3,174.8 87.9,176.7 89.4,176.0" fill="#ef9e4f" stroke="#ef9e4f" stroke-width="0.9" stroke-linejoin="round"/>
<line x1="84.3" y1="174.8" x2="96.0" y2="180.8" stroke="#fff" stroke-opacity="0.14" stroke-width="0.5"/>
<line x1="96.0" y1="180.8" x2="99.9" y2="178.5" stroke="#fff" stroke-opacity="0.14" stroke-width="0.5"/>
<polygon points="115.9,210.4 128.3,214.3 131.5,210.9" fill="#d35c5c" stroke="#d35c5c" stroke-width="0.9" stroke-linejoin="round"/>
<line x1="115.9" y1="210.4" x2="128.3" y2="214.3" stroke="#fff" stroke-opacity="0.14" stroke-width="0.5"/>
<line x1="128.3" y1="214.3" x2="131.5" y2="210.9" stroke="#fff" stroke-opacity="0.14" stroke-width="0.5"/>
<polygon points="128.3,214.3 140.9,218.1 143.8,214.9" fill="#d25a5a" stroke="#d25a5a" stroke-width="0.9" stroke-linejoin="round"/>
<line x1="128.3" y1="214.3" x2="140.9" y2="218.1" stroke="#fff" stroke-opacity="0.14" stroke-width="0.5"/>
<line x1="140.9" y1="218.1" x2="143.8" y2="214.9" stroke="#fff" stroke-opacity="0.14" stroke-width="0.5"/>
<polygon points="107.9,199.0 119.4,206.8 111.3,197.0" fill="#a5cd69" stroke="#a5cd69" stroke-width="0.9" stroke-linejoin="round"/>
<polygon points="103.8,196.2 107.9,199.0 111.3,197.0 107.7,192.6" fill="#9472be" stroke="#9472be" stroke-width="0.9" stroke-linejoin="round"/>
<line x1="119.4" y1="206.8" x2="107.7" y2="192.6" stroke="#fff" stroke-opacity="0.14" stroke-width="0.5"/>
<line x1="107.7" y1="192.6" x2="103.8" y2="196.2" stroke="#fff" stroke-opacity="0.14" stroke-width="0.5"/>
<polygon points="115.5,209.9 115.9,210.4 118.6,207.7" fill="#d46060" stroke="#d46060" stroke-width="0.9" stroke-linejoin="round"/>
<polygon points="106.8,199.6 115.5,209.9 118.6,207.7 119.4,206.8 107.9,199.0" fill="#a5cd69" stroke="#a5cd69" stroke-width="0.9" stroke-linejoin="round"/>
<polygon points="103.8,196.2 106.8,199.6 107.9,199.0" fill="#9472be" stroke="#9472be" stroke-width="0.9" stroke-linejoin="round"/>
<line x1="103.8" y1="196.2" x2="115.9" y2="210.4" stroke="#fff" stroke-opacity="0.14" stroke-width="0.5"/>
<line x1="115.9" y1="210.4" x2="119.4" y2="206.8" stroke="#fff" stroke-opacity="0.14" stroke-width="0.5"/>
<polygon points="68.1,176.8 84.3,174.8 72.9,174.3" fill="#ee9640" stroke="#ee9640" stroke-width="0.9" stroke-linejoin="round"/>
<line x1="84.3" y1="174.8" x2="72.9" y2="174.3" stroke="#fff" stroke-opacity="0.14" stroke-width="0.5"/>
<line x1="72.9" y1="174.3" x2="68.1" y2="176.8" stroke="#fff" stroke-opacity="0.14" stroke-width="0.5"/>
<polygon points="56.7,177.0 68.1,176.8 72.9,174.3" fill="#e58f3b" stroke="#e58f3b" stroke-width="0.9" stroke-linejoin="round"/>
<line x1="56.7" y1="177.0" x2="68.1" y2="176.8" stroke="#fff" stroke-opacity="0.14" stroke-width="0.5"/>
<line x1="68.1" y1="176.8" x2="72.9" y2="174.3" stroke="#fff" stroke-opacity="0.14" stroke-width="0.5"/>
<polygon points="100.1,188.1 107.7,192.6 102.1,187.0" fill="#9472be" stroke="#9472be" stroke-width="0.9" stroke-linejoin="round"/>
<polygon points="91.8,183.2 100.1,188.1 102.1,187.0 96.0,180.8" fill="#53b9db" stroke="#53b9db" stroke-width="0.9" stroke-linejoin="round"/>
<line x1="107.7" y1="192.6" x2="96.0" y2="180.8" stroke="#fff" stroke-opacity="0.14" stroke-width="0.5"/>
<line x1="96.0" y1="180.8" x2="91.8" y2="183.2" stroke="#fff" stroke-opacity="0.14" stroke-width="0.5"/>
<polygon points="83.2,178.2 96.0,180.8 87.9,176.7" fill="#53b8db" stroke="#53b8db" stroke-width="0.9" stroke-linejoin="round"/>
<polygon points="79.8,177.6 83.2,178.2 87.9,176.7 84.3,174.8" fill="#ef9e4f" stroke="#ef9e4f" stroke-width="0.9" stroke-linejoin="round"/>
<line x1="96.0" y1="180.8" x2="84.3" y2="174.8" stroke="#fff" stroke-opacity="0.14" stroke-width="0.5"/>
<line x1="84.3" y1="174.8" x2="79.8" y2="177.6" stroke="#fff" stroke-opacity="0.14" stroke-width="0.5"/>
<polygon points="112.2,214.2 128.3,214.3 115.9,210.4" fill="#d35b5b" stroke="#d35b5b" stroke-width="0.9" stroke-linejoin="round"/>
<line x1="128.3" y1="214.3" x2="115.9" y2="210.4" stroke="#fff" stroke-opacity="0.14" stroke-width="0.5"/>
<line x1="115.9" y1="210.4" x2="112.2" y2="214.2" stroke="#fff" stroke-opacity="0.14" stroke-width="0.5"/>
<polygon points="124.9,218.0 140.9,218.1 128.3,214.3" fill="#d25959" stroke="#d25959" stroke-width="0.9" stroke-linejoin="round"/>
<line x1="140.9" y1="218.1" x2="128.3" y2="214.3" stroke="#fff" stroke-opacity="0.14" stroke-width="0.5"/>
<line x1="128.3" y1="214.3" x2="124.9" y2="218.0" stroke="#fff" stroke-opacity="0.14" stroke-width="0.5"/>
<polygon points="68.1,176.8 79.8,177.6 84.3,174.8" fill="#ee9640" stroke="#ee9640" stroke-width="0.9" stroke-linejoin="round"/>
<line x1="68.1" y1="176.8" x2="79.8" y2="177.6" stroke="#fff" stroke-opacity="0.14" stroke-width="0.5"/>
<line x1="79.8" y1="177.6" x2="84.3" y2="174.8" stroke="#fff" stroke-opacity="0.14" stroke-width="0.5"/>
<polygon points="97.5,189.3 103.8,196.2 107.7,192.6 100.1,188.1" fill="#9472be" stroke="#9472be" stroke-width="0.9" stroke-linejoin="round"/>
<polygon points="91.8,183.2 97.5,189.3 100.1,188.1" fill="#53b9db" stroke="#53b9db" stroke-width="0.9" stroke-linejoin="round"/>
<line x1="91.8" y1="183.2" x2="103.8" y2="196.2" stroke="#fff" stroke-opacity="0.14" stroke-width="0.5"/>
<line x1="103.8" y1="196.2" x2="107.7" y2="192.6" stroke="#fff" stroke-opacity="0.14" stroke-width="0.5"/>
<polygon points="51.4,179.3 53.7,179.0 55.4,177.6" fill="#40aed3" stroke="#40aed3" stroke-width="0.9" stroke-linejoin="round"/>
<polygon points="53.7,179.0 68.1,176.8 56.7,177.0 55.4,177.6" fill="#e9923c" stroke="#e9923c" stroke-width="0.9" stroke-linejoin="round"/>
<line x1="68.1" y1="176.8" x2="56.7" y2="177.0" stroke="#fff" stroke-opacity="0.14" stroke-width="0.5"/>
<line x1="56.7" y1="177.0" x2="51.4" y2="179.3" stroke="#fff" stroke-opacity="0.14" stroke-width="0.5"/>
<polygon points="82.2,178.7 91.8,183.2 96.0,180.8 83.2,178.2" fill="#53b8db" stroke="#53b8db" stroke-width="0.9" stroke-linejoin="round"/>
<polygon points="79.8,177.6 82.2,178.7 83.2,178.2" fill="#ef9e4f" stroke="#ef9e4f" stroke-width="0.9" stroke-linejoin="round"/>
<line x1="79.8" y1="177.6" x2="91.8" y2="183.2" stroke="#fff" stroke-opacity="0.14" stroke-width="0.5"/>
<line x1="91.8" y1="183.2" x2="96.0" y2="180.8" stroke="#fff" stroke-opacity="0.14" stroke-width="0.5"/>
<polygon points="112.2,214.2 124.9,218.0 128.3,214.3" fill="#d35b5b" stroke="#d35b5b" stroke-width="0.9" stroke-linejoin="round"/>
<line x1="112.2" y1="214.2" x2="124.9" y2="218.0" stroke="#fff" stroke-opacity="0.14" stroke-width="0.5"/>
<line x1="124.9" y1="218.0" x2="128.3" y2="214.3" stroke="#fff" stroke-opacity="0.14" stroke-width="0.5"/>
<polygon points="115.3,210.0 115.9,210.4 115.5,209.9" fill="#d46060" stroke="#d46060" stroke-width="0.9" stroke-linejoin="round"/>
<polygon points="102.7,201.9 115.3,210.0 115.5,209.9 106.8,199.6" fill="#a5cd69" stroke="#a5cd69" stroke-width="0.9" stroke-linejoin="round"/>
<polygon points="99.8,200.0 102.7,201.9 106.8,199.6 103.8,196.2" fill="#9472be" stroke="#9472be" stroke-width="0.9" stroke-linejoin="round"/>
<line x1="115.9" y1="210.4" x2="103.8" y2="196.2" stroke="#fff" stroke-opacity="0.14" stroke-width="0.5"/>
<line x1="103.8" y1="196.2" x2="99.8" y2="200.0" stroke="#fff" stroke-opacity="0.14" stroke-width="0.5"/>
<polygon points="124.9,218.0 137.9,221.5 140.9,218.1" fill="#d25959" stroke="#d25959" stroke-width="0.9" stroke-linejoin="round"/>
<line x1="124.9" y1="218.0" x2="137.9" y2="221.5" stroke="#fff" stroke-opacity="0.14" stroke-width="0.5"/>
<line x1="137.9" y1="221.5" x2="140.9" y2="218.1" stroke="#fff" stroke-opacity="0.14" stroke-width="0.5"/>
<polygon points="111.2,213.0 112.2,214.2 115.9,210.4 115.3,210.0" fill="#d46060" stroke="#d46060" stroke-width="0.9" stroke-linejoin="round"/>
<polygon points="101.9,202.4 111.2,213.0 115.3,210.0 102.7,201.9" fill="#a5cd69" stroke="#a5cd69" stroke-width="0.9" stroke-linejoin="round"/>
<polygon points="99.8,200.0 101.9,202.4 102.7,201.9" fill="#9472be" stroke="#9472be" stroke-width="0.9" stroke-linejoin="round"/>
<line x1="99.8" y1="200.0" x2="112.2" y2="214.2" stroke="#fff" stroke-opacity="0.14" stroke-width="0.5"/>
<line x1="112.2" y1="214.2" x2="115.9" y2="210.4" stroke="#fff" stroke-opacity="0.14" stroke-width="0.5"/>
<polygon points="63.1,179.5 79.8,177.6 68.1,176.8" fill="#ee9640" stroke="#ee9640" stroke-width="0.9" stroke-linejoin="round"/>
<line x1="79.8" y1="177.6" x2="68.1" y2="176.8" stroke="#fff" stroke-opacity="0.14" stroke-width="0.5"/>
<line x1="68.1" y1="176.8" x2="63.1" y2="179.5" stroke="#fff" stroke-opacity="0.14" stroke-width="0.5"/>
<polygon points="51.4,179.3 54.1,179.3 53.7,179.0" fill="#40aed3" stroke="#40aed3" stroke-width="0.9" stroke-linejoin="round"/>
<polygon points="54.1,179.3 63.1,179.5 68.1,176.8 53.7,179.0" fill="#e9923c" stroke="#e9923c" stroke-width="0.9" stroke-linejoin="round"/>
<line x1="51.4" y1="179.3" x2="63.1" y2="179.5" stroke="#fff" stroke-opacity="0.14" stroke-width="0.5"/>
<line x1="63.1" y1="179.5" x2="68.1" y2="176.8" stroke="#fff" stroke-opacity="0.14" stroke-width="0.5"/>
<polygon points="95.1,190.7 103.8,196.2 97.5,189.3" fill="#9472be" stroke="#9472be" stroke-width="0.9" stroke-linejoin="round"/>
<polygon points="87.4,185.8 95.1,190.7 97.5,189.3 91.8,183.2" fill="#53b8db" stroke="#53b8db" stroke-width="0.9" stroke-linejoin="round"/>
<line x1="103.8" y1="196.2" x2="91.8" y2="183.2" stroke="#fff" stroke-opacity="0.14" stroke-width="0.5"/>
<line x1="91.8" y1="183.2" x2="87.4" y2="185.8" stroke="#fff" stroke-opacity="0.14" stroke-width="0.5"/>
<polygon points="77.0,180.6 91.8,183.2 82.2,178.7" fill="#52b8db" stroke="#52b8db" stroke-width="0.9" stroke-linejoin="round"/>
<polygon points="75.1,180.2 77.0,180.6 82.2,178.7 79.8,177.6" fill="#ef9d4e" stroke="#ef9d4e" stroke-width="0.9" stroke-linejoin="round"/>
<line x1="91.8" y1="183.2" x2="79.8" y2="177.6" stroke="#fff" stroke-opacity="0.14" stroke-width="0.5"/>
<line x1="79.8" y1="177.6" x2="75.1" y2="180.2" stroke="#fff" stroke-opacity="0.14" stroke-width="0.5"/>
<polygon points="108.2,218.2 124.9,218.0 112.2,214.2" fill="#d35b5b" stroke="#d35b5b" stroke-width="0.9" stroke-linejoin="round"/>
<line x1="124.9" y1="218.0" x2="112.2" y2="214.2" stroke="#fff" stroke-opacity="0.14" stroke-width="0.5"/>
<line x1="112.2" y1="214.2" x2="108.2" y2="218.2" stroke="#fff" stroke-opacity="0.14" stroke-width="0.5"/>
<polygon points="121.3,221.8 137.9,221.5 124.9,218.0" fill="#d25858" stroke="#d25858" stroke-width="0.9" stroke-linejoin="round"/>
<line x1="137.9" y1="221.5" x2="124.9" y2="218.0" stroke="#fff" stroke-opacity="0.14" stroke-width="0.5"/>
<line x1="124.9" y1="218.0" x2="121.3" y2="221.8" stroke="#fff" stroke-opacity="0.14" stroke-width="0.5"/>
<polygon points="63.1,179.5 75.1,180.2 79.8,177.6" fill="#ee9640" stroke="#ee9640" stroke-width="0.9" stroke-linejoin="round"/>
<line x1="63.1" y1="179.5" x2="75.1" y2="180.2" stroke="#fff" stroke-opacity="0.14" stroke-width="0.5"/>
<line x1="75.1" y1="180.2" x2="79.8" y2="177.6" stroke="#fff" stroke-opacity="0.14" stroke-width="0.5"/>
<polygon points="92.7,191.9 99.8,200.0 103.8,196.2 95.1,190.7" fill="#9472be" stroke="#9472be" stroke-width="0.9" stroke-linejoin="round"/>
<polygon points="87.4,185.8 92.7,191.9 95.1,190.7" fill="#53b8db" stroke="#53b8db" stroke-width="0.9" stroke-linejoin="round"/>
<line x1="87.4" y1="185.8" x2="99.8" y2="200.0" stroke="#fff" stroke-opacity="0.14" stroke-width="0.5"/>
<line x1="99.8" y1="200.0" x2="103.8" y2="196.2" stroke="#fff" stroke-opacity="0.14" stroke-width="0.5"/>
<polygon points="45.9,181.8 53.1,180.8 54.1,179.3 51.4,179.3" fill="#41b0d5" stroke="#41b0d5" stroke-width="0.9" stroke-linejoin="round"/>
<polygon points="53.1,180.8 63.1,179.5 54.1,179.3" fill="#eb933d" stroke="#eb933d" stroke-width="0.9" stroke-linejoin="round"/>
<line x1="63.1" y1="179.5" x2="51.4" y2="179.3" stroke="#fff" stroke-opacity="0.14" stroke-width="0.5"/>
<line x1="51.4" y1="179.3" x2="45.9" y2="181.8" stroke="#fff" stroke-opacity="0.14" stroke-width="0.5"/>
<polygon points="76.4,180.8 87.4,185.8 91.8,183.2 77.0,180.6" fill="#52b8db" stroke="#52b8db" stroke-width="0.9" stroke-linejoin="round"/>
<polygon points="75.1,180.2 76.4,180.8 77.0,180.6" fill="#ef9d4e" stroke="#ef9d4e" stroke-width="0.9" stroke-linejoin="round"/>
<line x1="75.1" y1="180.2" x2="87.4" y2="185.8" stroke="#fff" stroke-opacity="0.14" stroke-width="0.5"/>
<line x1="87.4" y1="185.8" x2="91.8" y2="183.2" stroke="#fff" stroke-opacity="0.14" stroke-width="0.5"/>
<polygon points="108.2,218.2 121.3,221.8 124.9,218.0" fill="#d35b5b" stroke="#d35b5b" stroke-width="0.9" stroke-linejoin="round"/>
<line x1="108.2" y1="218.2" x2="121.3" y2="221.8" stroke="#fff" stroke-opacity="0.14" stroke-width="0.5"/>
<line x1="121.3" y1="221.8" x2="124.9" y2="218.0" stroke="#fff" stroke-opacity="0.14" stroke-width="0.5"/>
<polygon points="110.7,213.3 112.2,214.2 111.2,213.0" fill="#d46060" stroke="#d46060" stroke-width="0.9" stroke-linejoin="round"/>
<polygon points="97.1,205.1 110.7,213.3 111.2,213.0 101.9,202.4" fill="#a5cd69" stroke="#a5cd69" stroke-width="0.9" stroke-linejoin="round"/>
<polygon points="95.4,204.0 97.1,205.1 101.9,202.4 99.8,200.0" fill="#9472be" stroke="#9472be" stroke-width="0.9" stroke-linejoin="round"/>
<line x1="112.2" y1="214.2" x2="99.8" y2="200.0" stroke="#fff" stroke-opacity="0.14" stroke-width="0.5"/>
<line x1="99.8" y1="200.0" x2="95.4" y2="204.0" stroke="#fff" stroke-opacity="0.14" stroke-width="0.5"/>
<polygon points="121.3,221.8 134.6,225.1 137.9,221.5" fill="#d25858" stroke="#d25858" stroke-width="0.9" stroke-linejoin="round"/>
<line x1="121.3" y1="221.8" x2="134.6" y2="225.1" stroke="#fff" stroke-opacity="0.14" stroke-width="0.5"/>
<line x1="134.6" y1="225.1" x2="137.9" y2="221.5" stroke="#fff" stroke-opacity="0.14" stroke-width="0.5"/>
<polygon points="106.5,216.3 108.2,218.2 112.2,214.2 110.7,213.3" fill="#d46060" stroke="#d46060" stroke-width="0.9" stroke-linejoin="round"/>
<polygon points="96.6,205.4 106.5,216.3 110.7,213.3 97.1,205.1" fill="#a5cd69" stroke="#a5cd69" stroke-width="0.9" stroke-linejoin="round"/>
<polygon points="95.4,204.0 96.6,205.4 97.1,205.1" fill="#9472be" stroke="#9472be" stroke-width="0.9" stroke-linejoin="round"/>
<line x1="95.4" y1="204.0" x2="108.2" y2="218.2" stroke="#fff" stroke-opacity="0.14" stroke-width="0.5"/>
<line x1="108.2" y1="218.2" x2="112.2" y2="214.2" stroke="#fff" stroke-opacity="0.14" stroke-width="0.5"/>
<polygon points="57.8,182.1 75.1,180.2 63.1,179.5" fill="#ee963f" stroke="#ee963f" stroke-width="0.9" stroke-linejoin="round"/>
<line x1="75.1" y1="180.2" x2="63.1" y2="179.5" stroke="#fff" stroke-opacity="0.14" stroke-width="0.5"/>
<line x1="63.1" y1="179.5" x2="57.8" y2="182.1" stroke="#fff" stroke-opacity="0.14" stroke-width="0.5"/>
<polygon points="45.9,181.8 55.2,182.1 53.1,180.8" fill="#41b0d5" stroke="#41b0d5" stroke-width="0.9" stroke-linejoin="round"/>
<polygon points="55.2,182.1 57.8,182.1 63.1,179.5 53.1,180.8" fill="#eb933d" stroke="#eb933d" stroke-width="0.9" stroke-linejoin="round"/>
<line x1="45.9" y1="181.8" x2="57.8" y2="182.1" stroke="#fff" stroke-opacity="0.14" stroke-width="0.5"/>
<line x1="57.8" y1="182.1" x2="63.1" y2="179.5" stroke="#fff" stroke-opacity="0.14" stroke-width="0.5"/>
<polygon points="90.0,193.4 99.8,200.0 92.7,191.9" fill="#9471be" stroke="#9471be" stroke-width="0.9" stroke-linejoin="round"/>
<polygon points="82.7,188.5 90.0,193.4 92.7,191.9 87.4,185.8" fill="#52b8db" stroke="#52b8db" stroke-width="0.9" stroke-linejoin="round"/>
<line x1="99.8" y1="200.0" x2="87.4" y2="185.8" stroke="#fff" stroke-opacity="0.14" stroke-width="0.5"/>
<line x1="87.4" y1="185.8" x2="82.7" y2="188.5" stroke="#fff" stroke-opacity="0.14" stroke-width="0.5"/>
<polygon points="104.0,222.4 121.3,221.8 108.2,218.2" fill="#d25a5a" stroke="#d25a5a" stroke-width="0.9" stroke-linejoin="round"/>
<line x1="121.3" y1="221.8" x2="108.2" y2="218.2" stroke="#fff" stroke-opacity="0.14" stroke-width="0.5"/>
<line x1="108.2" y1="218.2" x2="104.0" y2="222.4" stroke="#fff" stroke-opacity="0.14" stroke-width="0.5"/>
<polygon points="70.7,183.0 87.4,185.8 76.4,180.8" fill="#51b8db" stroke="#51b8db" stroke-width="0.9" stroke-linejoin="round"/>
<polygon points="70.1,182.9 70.7,183.0 76.4,180.8 75.1,180.2" fill="#ef9d4d" stroke="#ef9d4d" stroke-width="0.9" stroke-linejoin="round"/>
<line x1="87.4" y1="185.8" x2="75.1" y2="180.2" stroke="#fff" stroke-opacity="0.14" stroke-width="0.5"/>
<line x1="75.1" y1="180.2" x2="70.1" y2="182.9" stroke="#fff" stroke-opacity="0.14" stroke-width="0.5"/>
<polygon points="117.5,225.9 134.6,225.1 121.3,221.8" fill="#d15757" stroke="#d15757" stroke-width="0.9" stroke-linejoin="round"/>
<line x1="134.6" y1="225.1" x2="121.3" y2="221.8" stroke="#fff" stroke-opacity="0.14" stroke-width="0.5"/>
<line x1="121.3" y1="221.8" x2="117.5" y2="225.9" stroke="#fff" stroke-opacity="0.14" stroke-width="0.5"/>
<polygon points="87.6,194.5 95.4,204.0 99.8,200.0 90.0,193.4" fill="#9471be" stroke="#9471be" stroke-width="0.9" stroke-linejoin="round"/>
<polygon points="82.7,188.5 87.6,194.5 90.0,193.4" fill="#52b8db" stroke="#52b8db" stroke-width="0.9" stroke-linejoin="round"/>
<line x1="82.7" y1="188.5" x2="95.4" y2="204.0" stroke="#fff" stroke-opacity="0.14" stroke-width="0.5"/>
<line x1="95.4" y1="204.0" x2="99.8" y2="200.0" stroke="#fff" stroke-opacity="0.14" stroke-width="0.5"/>
<polygon points="57.8,182.1 70.1,182.9 75.1,180.2" fill="#ee963f" stroke="#ee963f" stroke-width="0.9" stroke-linejoin="round"/>
<line x1="57.8" y1="182.1" x2="70.1" y2="182.9" stroke="#fff" stroke-opacity="0.14" stroke-width="0.5"/>
<line x1="70.1" y1="182.9" x2="75.1" y2="180.2" stroke="#fff" stroke-opacity="0.14" stroke-width="0.5"/>
<polygon points="40.0,184.4 55.3,182.5 55.2,182.1 45.9,181.8" fill="#41b1d7" stroke="#41b1d7" stroke-width="0.9" stroke-linejoin="round"/>
<polygon points="55.3,182.5 57.8,182.1 55.2,182.1" fill="#ed943d" stroke="#ed943d" stroke-width="0.9" stroke-linejoin="round"/>
<line x1="57.8" y1="182.1" x2="45.9" y2="181.8" stroke="#fff" stroke-opacity="0.14" stroke-width="0.5"/>
<line x1="45.9" y1="181.8" x2="40.0" y2="184.4" stroke="#fff" stroke-opacity="0.14" stroke-width="0.5"/>
<polygon points="104.0,222.4 117.5,225.9 121.3,221.8" fill="#d25a5a" stroke="#d25a5a" stroke-width="0.9" stroke-linejoin="round"/>
<line x1="104.0" y1="222.4" x2="117.5" y2="225.9" stroke="#fff" stroke-opacity="0.14" stroke-width="0.5"/>
<line x1="117.5" y1="225.9" x2="121.3" y2="221.8" stroke="#fff" stroke-opacity="0.14" stroke-width="0.5"/>
<polygon points="105.8,216.8 108.2,218.2 106.5,216.3" fill="#d46060" stroke="#d46060" stroke-width="0.9" stroke-linejoin="round"/>
<polygon points="91.1,208.4 105.8,216.8 106.5,216.3 96.6,205.4" fill="#a5cd69" stroke="#a5cd69" stroke-width="0.9" stroke-linejoin="round"/>
<polygon points="90.9,208.3 91.1,208.4 96.6,205.4 95.4,204.0" fill="#9572be" stroke="#9572be" stroke-width="0.9" stroke-linejoin="round"/>
<line x1="108.2" y1="218.2" x2="95.4" y2="204.0" stroke="#fff" stroke-opacity="0.14" stroke-width="0.5"/>
<line x1="95.4" y1="204.0" x2="90.9" y2="208.3" stroke="#fff" stroke-opacity="0.14" stroke-width="0.5"/>
<polygon points="70.5,183.1 82.7,188.5 87.4,185.8 70.7,183.0" fill="#51b8db" stroke="#51b8db" stroke-width="0.9" stroke-linejoin="round"/>
<polygon points="70.1,182.9 70.5,183.1 70.7,183.0" fill="#ef9d4d" stroke="#ef9d4d" stroke-width="0.9" stroke-linejoin="round"/>
<line x1="70.1" y1="182.9" x2="82.7" y2="188.5" stroke="#fff" stroke-opacity="0.14" stroke-width="0.5"/>
<line x1="82.7" y1="188.5" x2="87.4" y2="185.8" stroke="#fff" stroke-opacity="0.14" stroke-width="0.5"/>
<polygon points="117.5,225.9 131.2,228.9 134.6,225.1" fill="#d15757" stroke="#d15757" stroke-width="0.9" stroke-linejoin="round"/>
<line x1="117.5" y1="225.9" x2="131.2" y2="228.9" stroke="#fff" stroke-opacity="0.14" stroke-width="0.5"/>
<line x1="131.2" y1="228.9" x2="134.6" y2="225.1" stroke="#fff" stroke-opacity="0.14" stroke-width="0.5"/>
<polygon points="101.6,219.8 104.0,222.4 108.2,218.2 105.8,216.8" fill="#d46060" stroke="#d46060" stroke-width="0.9" stroke-linejoin="round"/>
<polygon points="91.0,208.5 101.6,219.8 105.8,216.8 91.1,208.4" fill="#a5cd69" stroke="#a5cd69" stroke-width="0.9" stroke-linejoin="round"/>
<polygon points="90.9,208.3 91.0,208.5 91.1,208.4" fill="#9572be" stroke="#9572be" stroke-width="0.9" stroke-linejoin="round"/>
<line x1="90.9" y1="208.3" x2="104.0" y2="222.4" stroke="#fff" stroke-opacity="0.14" stroke-width="0.5"/>
<line x1="104.0" y1="222.4" x2="108.2" y2="218.2" stroke="#fff" stroke-opacity="0.14" stroke-width="0.5"/>
<polygon points="52.2,184.9 63.5,183.7 56.3,182.9" fill="#43b2d8" stroke="#43b2d8" stroke-width="0.9" stroke-linejoin="round"/>
<polygon points="63.5,183.7 70.1,182.9 57.8,182.1 56.3,182.9" fill="#ee963f" stroke="#ee963f" stroke-width="0.9" stroke-linejoin="round"/>
<line x1="70.1" y1="182.9" x2="57.8" y2="182.1" stroke="#fff" stroke-opacity="0.14" stroke-width="0.5"/>
<line x1="57.8" y1="182.1" x2="52.2" y2="184.9" stroke="#fff" stroke-opacity="0.14" stroke-width="0.5"/>
<polygon points="40.0,184.4 52.2,184.9 56.3,182.9 55.3,182.5" fill="#41b1d7" stroke="#41b1d7" stroke-width="0.9" stroke-linejoin="round"/>
<polygon points="56.3,182.9 57.8,182.1 55.3,182.5" fill="#ed943d" stroke="#ed943d" stroke-width="0.9" stroke-linejoin="round"/>
<line x1="40.0" y1="184.4" x2="52.2" y2="184.9" stroke="#fff" stroke-opacity="0.14" stroke-width="0.5"/>
<line x1="52.2" y1="184.9" x2="57.8" y2="182.1" stroke="#fff" stroke-opacity="0.14" stroke-width="0.5"/>
<polygon points="99.6,226.9 117.5,225.9 104.0,222.4" fill="#d25959" stroke="#d25959" stroke-width="0.9" stroke-linejoin="round"/>
<line x1="117.5" y1="225.9" x2="104.0" y2="222.4" stroke="#fff" stroke-opacity="0.14" stroke-width="0.5"/>
<line x1="104.0" y1="222.4" x2="99.6" y2="226.9" stroke="#fff" stroke-opacity="0.14" stroke-width="0.5"/>
<polygon points="84.6,196.3 95.4,204.0 87.6,194.5" fill="#9471be" stroke="#9471be" stroke-width="0.9" stroke-linejoin="round"/>
<polygon points="77.7,191.4 84.6,196.3 87.6,194.5 82.7,188.5" fill="#52b8db" stroke="#52b8db" stroke-width="0.9" stroke-linejoin="round"/>
<line x1="95.4" y1="204.0" x2="82.7" y2="188.5" stroke="#fff" stroke-opacity="0.14" stroke-width="0.5"/>
<line x1="82.7" y1="188.5" x2="77.7" y2="191.4" stroke="#fff" stroke-opacity="0.14" stroke-width="0.5"/>
<polygon points="64.8,185.8 82.7,188.5 70.5,183.1 68.2,184.0" fill="#51b8db" stroke="#51b8db" stroke-width="0.9" stroke-linejoin="round"/>
<polygon points="70.5,183.1 70.1,182.9 68.2,184.0" fill="#ef9d4d" stroke="#ef9d4d" stroke-width="0.9" stroke-linejoin="round"/>
<line x1="82.7" y1="188.5" x2="70.1" y2="182.9" stroke="#fff" stroke-opacity="0.14" stroke-width="0.5"/>
<line x1="70.1" y1="182.9" x2="64.8" y2="185.8" stroke="#fff" stroke-opacity="0.14" stroke-width="0.5"/>
<polygon points="113.4,230.3 131.2,228.9 117.5,225.9" fill="#d15555" stroke="#d15555" stroke-width="0.9" stroke-linejoin="round"/>
<line x1="131.2" y1="228.9" x2="117.5" y2="225.9" stroke="#fff" stroke-opacity="0.14" stroke-width="0.5"/>
<line x1="117.5" y1="225.9" x2="113.4" y2="230.3" stroke="#fff" stroke-opacity="0.14" stroke-width="0.5"/>
<polygon points="82.4,197.3 90.9,208.3 95.4,204.0 84.6,196.3" fill="#9471be" stroke="#9471be" stroke-width="0.9" stroke-linejoin="round"/>
<polygon points="77.7,191.4 82.4,197.3 84.6,196.3" fill="#52b8db" stroke="#52b8db" stroke-width="0.9" stroke-linejoin="round"/>
<line x1="77.7" y1="191.4" x2="90.9" y2="208.3" stroke="#fff" stroke-opacity="0.14" stroke-width="0.5"/>
<line x1="90.9" y1="208.3" x2="95.4" y2="204.0" stroke="#fff" stroke-opacity="0.14" stroke-width="0.5"/>
<polygon points="52.2,184.9 64.8,185.8 68.2,184.0 63.5,183.7" fill="#43b2d8" stroke="#43b2d8" stroke-width="0.9" stroke-linejoin="round"/>
<polygon points="68.2,184.0 70.1,182.9 63.5,183.7" fill="#ee963f" stroke="#ee963f" stroke-width="0.9" stroke-linejoin="round"/>
<line x1="52.2" y1="184.9" x2="64.8" y2="185.8" stroke="#fff" stroke-opacity="0.14" stroke-width="0.5"/>
<line x1="64.8" y1="185.8" x2="70.1" y2="182.9" stroke="#fff" stroke-opacity="0.14" stroke-width="0.5"/>
<polygon points="33.7,187.4 52.2,184.9 40.0,184.4" fill="#43b2d8" stroke="#43b2d8" stroke-width="0.9" stroke-linejoin="round"/>
<line x1="52.2" y1="184.9" x2="40.0" y2="184.4" stroke="#fff" stroke-opacity="0.14" stroke-width="0.5"/>
<line x1="40.0" y1="184.4" x2="33.7" y2="187.4" stroke="#fff" stroke-opacity="0.14" stroke-width="0.5"/>
<polygon points="100.5,220.5 104.0,222.4 101.6,219.8" fill="#d46060" stroke="#d46060" stroke-width="0.9" stroke-linejoin="round"/>
<polygon points="86.0,212.9 100.5,220.5 101.6,219.8 91.0,208.5 90.2,208.9" fill="#a5cd69" stroke="#a5cd69" stroke-width="0.9" stroke-linejoin="round"/>
<polygon points="91.0,208.5 90.9,208.3 90.2,208.9" fill="#9572be" stroke="#9572be" stroke-width="0.9" stroke-linejoin="round"/>
<line x1="104.0" y1="222.4" x2="90.9" y2="208.3" stroke="#fff" stroke-opacity="0.14" stroke-width="0.5"/>
<line x1="90.9" y1="208.3" x2="86.0" y2="212.9" stroke="#fff" stroke-opacity="0.14" stroke-width="0.5"/>
<polygon points="99.6,226.9 113.4,230.3 117.5,225.9" fill="#d25959" stroke="#d25959" stroke-width="0.9" stroke-linejoin="round"/>
<line x1="99.6" y1="226.9" x2="113.4" y2="230.3" stroke="#fff" stroke-opacity="0.14" stroke-width="0.5"/>
<line x1="113.4" y1="230.3" x2="117.5" y2="225.9" stroke="#fff" stroke-opacity="0.14" stroke-width="0.5"/>
<polygon points="64.8,185.8 77.7,191.4 82.7,188.5" fill="#51b8db" stroke="#51b8db" stroke-width="0.9" stroke-linejoin="round"/>
<line x1="64.8" y1="185.8" x2="77.7" y2="191.4" stroke="#fff" stroke-opacity="0.14" stroke-width="0.5"/>
<line x1="77.7" y1="191.4" x2="82.7" y2="188.5" stroke="#fff" stroke-opacity="0.14" stroke-width="0.5"/>
<polygon points="96.3,223.5 99.6,226.9 104.0,222.4 100.5,220.5" fill="#d46060" stroke="#d46060" stroke-width="0.9" stroke-linejoin="round"/>
<polygon points="86.0,212.9 96.3,223.5 100.5,220.5" fill="#a5cd69" stroke="#a5cd69" stroke-width="0.9" stroke-linejoin="round"/>
<line x1="86.0" y1="212.9" x2="99.6" y2="226.9" stroke="#fff" stroke-opacity="0.14" stroke-width="0.5"/>
<line x1="99.6" y1="226.9" x2="104.0" y2="222.4" stroke="#fff" stroke-opacity="0.14" stroke-width="0.5"/>
<polygon points="113.4,230.3 127.5,233.0 131.2,228.9" fill="#d15555" stroke="#d15555" stroke-width="0.9" stroke-linejoin="round"/>
<line x1="113.4" y1="230.3" x2="127.5" y2="233.0" stroke="#fff" stroke-opacity="0.14" stroke-width="0.5"/>
<line x1="127.5" y1="233.0" x2="131.2" y2="228.9" stroke="#fff" stroke-opacity="0.14" stroke-width="0.5"/>
<polygon points="33.7,187.4 46.3,188.1 52.2,184.9" fill="#43b2d8" stroke="#43b2d8" stroke-width="0.9" stroke-linejoin="round"/>
<line x1="33.7" y1="187.4" x2="46.3" y2="188.1" stroke="#fff" stroke-opacity="0.14" stroke-width="0.5"/>
<line x1="46.3" y1="188.1" x2="52.2" y2="184.9" stroke="#fff" stroke-opacity="0.14" stroke-width="0.5"/>
<polygon points="46.3,188.1 64.8,185.8 52.2,184.9" fill="#44b3d8" stroke="#44b3d8" stroke-width="0.9" stroke-linejoin="round"/>
<line x1="64.8" y1="185.8" x2="52.2" y2="184.9" stroke="#fff" stroke-opacity="0.14" stroke-width="0.5"/>
<line x1="52.2" y1="184.9" x2="46.3" y2="188.1" stroke="#fff" stroke-opacity="0.14" stroke-width="0.5"/>
<polygon points="94.8,231.7 113.4,230.3 99.6,226.9" fill="#d25858" stroke="#d25858" stroke-width="0.9" stroke-linejoin="round"/>
<line x1="113.4" y1="230.3" x2="99.6" y2="226.9" stroke="#fff" stroke-opacity="0.14" stroke-width="0.5"/>
<line x1="99.6" y1="226.9" x2="94.8" y2="231.7" stroke="#fff" stroke-opacity="0.14" stroke-width="0.5"/>
<polygon points="78.9,199.3 90.9,208.3 82.4,197.3" fill="#9471be" stroke="#9471be" stroke-width="0.9" stroke-linejoin="round"/>
<polygon points="72.4,194.4 78.9,199.3 82.4,197.3 77.7,191.4" fill="#52b8db" stroke="#52b8db" stroke-width="0.9" stroke-linejoin="round"/>
<line x1="90.9" y1="208.3" x2="77.7" y2="191.4" stroke="#fff" stroke-opacity="0.14" stroke-width="0.5"/>
<line x1="77.7" y1="191.4" x2="72.4" y2="194.4" stroke="#fff" stroke-opacity="0.14" stroke-width="0.5"/>
<polygon points="59.2,189.0 77.7,191.4 64.8,185.8" fill="#51b8db" stroke="#51b8db" stroke-width="0.9" stroke-linejoin="round"/>
<line x1="77.7" y1="191.4" x2="64.8" y2="185.8" stroke="#fff" stroke-opacity="0.14" stroke-width="0.5"/>
<line x1="64.8" y1="185.8" x2="59.2" y2="189.0" stroke="#fff" stroke-opacity="0.14" stroke-width="0.5"/>
<polygon points="85.2,211.8 86.0,212.9 90.2,208.9" fill="#a4cc68" stroke="#a4cc68" stroke-width="0.9" stroke-linejoin="round"/>
<polygon points="76.8,200.4 85.2,211.8 90.2,208.9 90.9,208.3 78.9,199.3" fill="#9471be" stroke="#9471be" stroke-width="0.9" stroke-linejoin="round"/>
<polygon points="72.4,194.4 76.8,200.4 78.9,199.3" fill="#52b8db" stroke="#52b8db" stroke-width="0.9" stroke-linejoin="round"/>
<line x1="72.4" y1="194.4" x2="86.0" y2="212.9" stroke="#fff" stroke-opacity="0.14" stroke-width="0.5"/>
<line x1="86.0" y1="212.9" x2="90.9" y2="208.3" stroke="#fff" stroke-opacity="0.14" stroke-width="0.5"/>
<polygon points="109.0,234.9 127.5,233.0 113.4,230.3" fill="#d15454" stroke="#d15454" stroke-width="0.9" stroke-linejoin="round"/>
<line x1="127.5" y1="233.0" x2="113.4" y2="230.3" stroke="#fff" stroke-opacity="0.14" stroke-width="0.5"/>
<line x1="113.4" y1="230.3" x2="109.0" y2="234.9" stroke="#fff" stroke-opacity="0.14" stroke-width="0.5"/>
<polygon points="27.0,190.6 46.3,188.1 33.7,187.4" fill="#44b3d8" stroke="#44b3d8" stroke-width="0.9" stroke-linejoin="round"/>
<line x1="46.3" y1="188.1" x2="33.7" y2="187.4" stroke="#fff" stroke-opacity="0.14" stroke-width="0.5"/>
<line x1="33.7" y1="187.4" x2="27.0" y2="190.6" stroke="#fff" stroke-opacity="0.14" stroke-width="0.5"/>
<polygon points="46.3,188.1 59.2,189.0 64.8,185.8" fill="#44b3d8" stroke="#44b3d8" stroke-width="0.9" stroke-linejoin="round"/>
<line x1="46.3" y1="188.1" x2="59.2" y2="189.0" stroke="#fff" stroke-opacity="0.14" stroke-width="0.5"/>
<line x1="59.2" y1="189.0" x2="64.8" y2="185.8" stroke="#fff" stroke-opacity="0.14" stroke-width="0.5"/>
<polygon points="94.7,224.5 99.6,226.9 96.3,223.5" fill="#d46060" stroke="#d46060" stroke-width="0.9" stroke-linejoin="round"/>
<polygon points="80.8,217.7 94.7,224.5 96.3,223.5 86.0,212.9" fill="#a5cd69" stroke="#a5cd69" stroke-width="0.9" stroke-linejoin="round"/>
<line x1="99.6" y1="226.9" x2="86.0" y2="212.9" stroke="#fff" stroke-opacity="0.14" stroke-width="0.5"/>
<line x1="86.0" y1="212.9" x2="80.8" y2="217.7" stroke="#fff" stroke-opacity="0.14" stroke-width="0.5"/>
<polygon points="94.8,231.7 109.0,234.9 113.4,230.3" fill="#d25858" stroke="#d25858" stroke-width="0.9" stroke-linejoin="round"/>
<line x1="94.8" y1="231.7" x2="109.0" y2="234.9" stroke="#fff" stroke-opacity="0.14" stroke-width="0.5"/>
<line x1="109.0" y1="234.9" x2="113.4" y2="230.3" stroke="#fff" stroke-opacity="0.14" stroke-width="0.5"/>
<polygon points="90.5,227.4 94.8,231.7 99.6,226.9 94.7,224.5" fill="#d46060" stroke="#d46060" stroke-width="0.9" stroke-linejoin="round"/>
<polygon points="80.8,217.7 90.5,227.4 94.7,224.5" fill="#a5cd69" stroke="#a5cd69" stroke-width="0.9" stroke-linejoin="round"/>
<line x1="80.8" y1="217.7" x2="94.8" y2="231.7" stroke="#fff" stroke-opacity="0.14" stroke-width="0.5"/>
<line x1="94.8" y1="231.7" x2="99.6" y2="226.9" stroke="#fff" stroke-opacity="0.14" stroke-width="0.5"/>
<polygon points="59.2,189.0 72.4,194.4 77.7,191.4" fill="#51b8db" stroke="#51b8db" stroke-width="0.9" stroke-linejoin="round"/>
<line x1="59.2" y1="189.0" x2="72.4" y2="194.4" stroke="#fff" stroke-opacity="0.14" stroke-width="0.5"/>
<line x1="72.4" y1="194.4" x2="77.7" y2="191.4" stroke="#fff" stroke-opacity="0.14" stroke-width="0.5"/>
<polygon points="109.0,234.9 123.6,237.4 127.5,233.0" fill="#d15454" stroke="#d15454" stroke-width="0.9" stroke-linejoin="round"/>
<line x1="109.0" y1="234.9" x2="123.6" y2="237.4" stroke="#fff" stroke-opacity="0.14" stroke-width="0.5"/>
<line x1="123.6" y1="237.4" x2="127.5" y2="233.0" stroke="#fff" stroke-opacity="0.14" stroke-width="0.5"/>
<polygon points="27.0,190.6 39.9,191.7 46.3,188.1" fill="#44b3d8" stroke="#44b3d8" stroke-width="0.9" stroke-linejoin="round"/>
<line x1="27.0" y1="190.6" x2="39.9" y2="191.7" stroke="#fff" stroke-opacity="0.14" stroke-width="0.5"/>
<line x1="39.9" y1="191.7" x2="46.3" y2="188.1" stroke="#fff" stroke-opacity="0.14" stroke-width="0.5"/>
<polygon points="39.9,191.7 59.2,189.0 46.3,188.1" fill="#44b3d8" stroke="#44b3d8" stroke-width="0.9" stroke-linejoin="round"/>
<line x1="59.2" y1="189.0" x2="46.3" y2="188.1" stroke="#fff" stroke-opacity="0.14" stroke-width="0.5"/>
<line x1="46.3" y1="188.1" x2="39.9" y2="191.7" stroke="#fff" stroke-opacity="0.14" stroke-width="0.5"/>
<polygon points="84.9,212.0 86.0,212.9 85.2,211.8" fill="#a4cc67" stroke="#a4cc67" stroke-width="0.9" stroke-linejoin="round"/>
<polygon points="73.0,202.6 84.9,212.0 85.2,211.8 76.8,200.4" fill="#9371bd" stroke="#9371bd" stroke-width="0.9" stroke-linejoin="round"/>
<polygon points="66.8,197.7 73.0,202.6 76.8,200.4 72.4,194.4" fill="#51b8db" stroke="#51b8db" stroke-width="0.9" stroke-linejoin="round"/>
<line x1="86.0" y1="212.9" x2="72.4" y2="194.4" stroke="#fff" stroke-opacity="0.14" stroke-width="0.5"/>
<line x1="72.4" y1="194.4" x2="66.8" y2="197.7" stroke="#fff" stroke-opacity="0.14" stroke-width="0.5"/>
<polygon points="79.2,215.3 80.8,217.7 86.0,212.9 84.9,212.0" fill="#a4cc67" stroke="#a4cc67" stroke-width="0.9" stroke-linejoin="round"/>
<polygon points="70.9,203.6 79.2,215.3 84.9,212.0 73.0,202.6" fill="#9371bd" stroke="#9371bd" stroke-width="0.9" stroke-linejoin="round"/>
<polygon points="66.8,197.7 70.9,203.6 73.0,202.6" fill="#51b8db" stroke="#51b8db" stroke-width="0.9" stroke-linejoin="round"/>
<line x1="66.8" y1="197.7" x2="80.8" y2="217.7" stroke="#fff" stroke-opacity="0.14" stroke-width="0.5"/>
<line x1="80.8" y1="217.7" x2="86.0" y2="212.9" stroke="#fff" stroke-opacity="0.14" stroke-width="0.5"/>
<polygon points="53.2,192.4 72.4,194.4 59.2,189.0" fill="#50b7db" stroke="#50b7db" stroke-width="0.9" stroke-linejoin="round"/>
<line x1="72.4" y1="194.4" x2="59.2" y2="189.0" stroke="#fff" stroke-opacity="0.14" stroke-width="0.5"/>
<line x1="59.2" y1="189.0" x2="53.2" y2="192.4" stroke="#fff" stroke-opacity="0.14" stroke-width="0.5"/>
<polygon points="39.9,191.7 53.2,192.4 59.2,189.0" fill="#44b3d8" stroke="#44b3d8" stroke-width="0.9" stroke-linejoin="round"/>
<line x1="39.9" y1="191.7" x2="53.2" y2="192.4" stroke="#fff" stroke-opacity="0.14" stroke-width="0.5"/>
<line x1="53.2" y1="192.4" x2="59.2" y2="189.0" stroke="#fff" stroke-opacity="0.14" stroke-width="0.5"/>
<polygon points="53.2,192.4 66.8,197.7 72.4,194.4" fill="#50b7db" stroke="#50b7db" stroke-width="0.9" stroke-linejoin="round"/>
<line x1="53.2" y1="192.4" x2="66.8" y2="197.7" stroke="#fff" stroke-opacity="0.14" stroke-width="0.5"/>
<line x1="66.8" y1="197.7" x2="72.4" y2="194.4" stroke="#fff" stroke-opacity="0.14" stroke-width="0.5"/>
<text x="25.70" y="180.70" font-size="7.1" text-anchor="end" fill="#111" stroke="#111" stroke-width="0.45">120</text>
<text x="25.70" y="191.85" font-size="7.1" text-anchor="end" fill="#111" stroke="#111" stroke-width="0.45">100</text>
<text x="25.70" y="202.25" font-size="7.1" text-anchor="end" fill="#111" stroke="#111" stroke-width="0.45">80</text>
<text x="25.70" y="212.95" font-size="7.1" text-anchor="end" fill="#111" stroke="#111" stroke-width="0.45">60</text>
<text x="25.70" y="224.45" font-size="7.1" text-anchor="end" fill="#111" stroke="#111" stroke-width="0.45">40</text>
<text x="25.70" y="235.15" font-size="7.1" text-anchor="end" fill="#111" stroke="#111" stroke-width="0.45">20</text>
<text x="25.70" y="246.25" font-size="7.1" text-anchor="end" fill="#111" stroke="#111" stroke-width="0.45">0</text>
<text x="6.00" y="201.60" font-size="6.3" text-anchor="middle" fill="#111" stroke="#111" stroke-width="0.45" transform="rotate(-90 6.00 201.60)" textLength="62.4" lengthAdjust="spacingAndGlyphs">Viability, % of untreated</text>
<text x="36.10" y="152.80" font-size="9.4" text-anchor="start" fill="#111" stroke="#111" stroke-width="0.45" textLength="89.2" lengthAdjust="spacingAndGlyphs">K562+FGF2 (48 hrs)</text>
<text x="0.60" y="156.30" font-size="11.5" text-anchor="start" font-weight="bold" fill="#111" stroke="#111" stroke-width="0.35">B</text>
<defs><linearGradient id="gim154" x1="0" y1="0" x2="1" y2="0"><stop offset="0" stop-color="#c8c8c8"/><stop offset="0.35" stop-color="#909090"/><stop offset="0.8" stop-color="#333"/><stop offset="1" stop-color="#111"/></linearGradient><linearGradient id="gim154p" x1="0" y1="1" x2="0.35" y2="0"><stop offset="0" stop-color="#111"/><stop offset="0.5" stop-color="#777"/><stop offset="1" stop-color="#ddd" stop-opacity="0.3"/></linearGradient></defs>
<polygon points="30.9,242.0 121.9,252.8 122.8,258.0 30.9,244.0" fill="url(#gim154)"/>
<polygon points="121.9,252.8 140.8,223.4 143.8,223.8 122.8,258.0" fill="url(#gim154p)"/>
<text x="35.20" y="255.00" font-size="8.6" text-anchor="start" font-style="italic" fill="#111" stroke="#111" stroke-width="0.45" transform="rotate(8.2 35.20 255.00)">Imatinib 0 to 10µM</text>
<text x="131.50" y="257.60" font-size="8.7" text-anchor="start" fill="#111" stroke="#111" stroke-width="0.45" transform="rotate(-55 131.50 257.60)">PD173074</text>
<text x="140.60" y="263.60" font-size="8.7" text-anchor="start" fill="#111" stroke="#111" stroke-width="0.45" transform="rotate(-55 140.60 263.60)">0 to 1µM</text>
<polyline points="29.42,388.62 67.21,364.03 145.98,371.91" fill="none" stroke="#333" stroke-width="1.1" stroke-linejoin="round" stroke-linecap="round"/>
<polyline points="28.94,378.55 67.06,355.60 146.36,362.90" fill="none" stroke="#333" stroke-width="1.1" stroke-linejoin="round" stroke-linecap="round"/>
<polyline points="28.46,368.32 66.91,347.05 146.76,353.77" fill="none" stroke="#333" stroke-width="1.1" stroke-linejoin="round" stroke-linecap="round"/>
<polyline points="27.97,357.92 66.76,338.39 147.16,344.51" fill="none" stroke="#333" stroke-width="1.1" stroke-linejoin="round" stroke-linecap="round"/>
<polyline points="27.47,347.36 66.60,329.62 147.56,335.12" fill="none" stroke="#333" stroke-width="1.1" stroke-linejoin="round" stroke-linecap="round"/>
<polyline points="26.96,336.63 66.45,320.73 147.97,325.60" fill="none" stroke="#333" stroke-width="1.1" stroke-linejoin="round" stroke-linecap="round"/>
<polyline points="26.45,325.72 66.29,311.72 148.39,315.93" fill="none" stroke="#333" stroke-width="1.1" stroke-linejoin="round" stroke-linecap="round"/>
<polygon points="61.7,322.0 77.4,318.4 66.4,320.1" fill="#da8838" stroke="#da8838" stroke-width="0.9" stroke-linejoin="round"/>
<line x1="77.4" y1="318.4" x2="66.4" y2="320.1" stroke="#fff" stroke-opacity="0.14" stroke-width="0.5"/>
<line x1="66.4" y1="320.1" x2="61.7" y2="322.0" stroke="#fff" stroke-opacity="0.14" stroke-width="0.5"/>
<polygon points="72.9,321.0 88.5,318.8 77.4,318.4" fill="#ee963f" stroke="#ee963f" stroke-width="0.9" stroke-linejoin="round"/>
<line x1="88.5" y1="318.8" x2="77.4" y2="318.4" stroke="#fff" stroke-opacity="0.14" stroke-width="0.5"/>
<line x1="77.4" y1="318.4" x2="72.9" y2="321.0" stroke="#fff" stroke-opacity="0.14" stroke-width="0.5"/>
<polygon points="61.7,322.0 72.9,321.0 77.4,318.4" fill="#da8838" stroke="#da8838" stroke-width="0.9" stroke-linejoin="round"/>
<line x1="61.7" y1="322.0" x2="72.9" y2="321.0" stroke="#fff" stroke-opacity="0.14" stroke-width="0.5"/>
<line x1="72.9" y1="321.0" x2="77.4" y2="318.4" stroke="#fff" stroke-opacity="0.14" stroke-width="0.5"/>
<polygon points="84.3,321.2 99.9,321.1 88.5,318.8" fill="#ee9946" stroke="#ee9946" stroke-width="0.9" stroke-linejoin="round"/>
<line x1="99.9" y1="321.1" x2="88.5" y2="318.8" stroke="#fff" stroke-opacity="0.14" stroke-width="0.5"/>
<line x1="88.5" y1="318.8" x2="84.3" y2="321.2" stroke="#fff" stroke-opacity="0.14" stroke-width="0.5"/>
<polygon points="72.9,321.0 84.3,321.2 88.5,318.8" fill="#ee963f" stroke="#ee963f" stroke-width="0.9" stroke-linejoin="round"/>
<line x1="72.9" y1="321.0" x2="84.3" y2="321.2" stroke="#fff" stroke-opacity="0.14" stroke-width="0.5"/>
<line x1="84.3" y1="321.2" x2="88.5" y2="318.8" stroke="#fff" stroke-opacity="0.14" stroke-width="0.5"/>
<polygon points="56.7,324.5 72.9,321.0 61.7,322.0" fill="#e38e3b" stroke="#e38e3b" stroke-width="0.9" stroke-linejoin="round"/>
<line x1="72.9" y1="321.0" x2="61.7" y2="322.0" stroke="#fff" stroke-opacity="0.14" stroke-width="0.5"/>
<line x1="61.7" y1="322.0" x2="56.7" y2="324.5" stroke="#fff" stroke-opacity="0.14" stroke-width="0.5"/>
<polygon points="96.0,323.1 111.6,323.4 99.9,321.1" fill="#ef9b49" stroke="#ef9b49" stroke-width="0.9" stroke-linejoin="round"/>
<line x1="111.6" y1="323.4" x2="99.9" y2="321.1" stroke="#fff" stroke-opacity="0.14" stroke-width="0.5"/>
<line x1="99.9" y1="321.1" x2="96.0" y2="323.1" stroke="#fff" stroke-opacity="0.14" stroke-width="0.5"/>
<polygon points="84.3,321.2 96.0,323.1 99.9,321.1" fill="#ee9946" stroke="#ee9946" stroke-width="0.9" stroke-linejoin="round"/>
<line x1="84.3" y1="321.2" x2="96.0" y2="323.1" stroke="#fff" stroke-opacity="0.14" stroke-width="0.5"/>
<line x1="96.0" y1="323.1" x2="99.9" y2="321.1" stroke="#fff" stroke-opacity="0.14" stroke-width="0.5"/>
<polygon points="107.9,326.4 123.4,325.6 111.9,323.4 111.4,323.5" fill="#49b4d9" stroke="#49b4d9" stroke-width="0.9" stroke-linejoin="round"/>
<polygon points="111.9,323.4 111.6,323.4 111.4,323.5" fill="#ee9945" stroke="#ee9945" stroke-width="0.9" stroke-linejoin="round"/>
<line x1="123.4" y1="325.6" x2="111.6" y2="323.4" stroke="#fff" stroke-opacity="0.14" stroke-width="0.5"/>
<line x1="111.6" y1="323.4" x2="107.9" y2="326.4" stroke="#fff" stroke-opacity="0.14" stroke-width="0.5"/>
<polygon points="68.1,323.8 84.3,321.2 72.9,321.0" fill="#ee9741" stroke="#ee9741" stroke-width="0.9" stroke-linejoin="round"/>
<line x1="84.3" y1="321.2" x2="72.9" y2="321.0" stroke="#fff" stroke-opacity="0.14" stroke-width="0.5"/>
<line x1="72.9" y1="321.0" x2="68.1" y2="323.8" stroke="#fff" stroke-opacity="0.14" stroke-width="0.5"/>
<polygon points="56.7,324.5 68.1,323.8 72.9,321.0" fill="#e38e3b" stroke="#e38e3b" stroke-width="0.9" stroke-linejoin="round"/>
<line x1="56.7" y1="324.5" x2="68.1" y2="323.8" stroke="#fff" stroke-opacity="0.14" stroke-width="0.5"/>
<line x1="68.1" y1="323.8" x2="72.9" y2="321.0" stroke="#fff" stroke-opacity="0.14" stroke-width="0.5"/>
<polygon points="103.7,325.2 107.9,326.4 111.4,323.5" fill="#4db6da" stroke="#4db6da" stroke-width="0.9" stroke-linejoin="round"/>
<polygon points="96.0,323.1 103.7,325.2 111.4,323.5 111.6,323.4" fill="#ef9b49" stroke="#ef9b49" stroke-width="0.9" stroke-linejoin="round"/>
<line x1="96.0" y1="323.1" x2="107.9" y2="326.4" stroke="#fff" stroke-opacity="0.14" stroke-width="0.5"/>
<line x1="107.9" y1="326.4" x2="111.6" y2="323.4" stroke="#fff" stroke-opacity="0.14" stroke-width="0.5"/>
<polygon points="120.0,327.7 135.4,328.6 123.4,325.6" fill="#53b8db" stroke="#53b8db" stroke-width="0.9" stroke-linejoin="round"/>
<line x1="135.4" y1="328.6" x2="123.4" y2="325.6" stroke="#fff" stroke-opacity="0.14" stroke-width="0.5"/>
<line x1="123.4" y1="325.6" x2="120.0" y2="327.7" stroke="#fff" stroke-opacity="0.14" stroke-width="0.5"/>
<polygon points="132.3,332.9 147.7,332.6 135.4,328.6" fill="#58bbdc" stroke="#58bbdc" stroke-width="0.9" stroke-linejoin="round"/>
<line x1="147.7" y1="332.6" x2="135.4" y2="328.6" stroke="#fff" stroke-opacity="0.14" stroke-width="0.5"/>
<line x1="135.4" y1="328.6" x2="132.3" y2="332.9" stroke="#fff" stroke-opacity="0.14" stroke-width="0.5"/>
<polygon points="107.9,326.4 120.0,327.7 123.4,325.6" fill="#49b4d9" stroke="#49b4d9" stroke-width="0.9" stroke-linejoin="round"/>
<line x1="107.9" y1="326.4" x2="120.0" y2="327.7" stroke="#fff" stroke-opacity="0.14" stroke-width="0.5"/>
<line x1="120.0" y1="327.7" x2="123.4" y2="325.6" stroke="#fff" stroke-opacity="0.14" stroke-width="0.5"/>
<polygon points="79.8,324.2 96.0,323.1 84.3,321.2" fill="#ee9b49" stroke="#ee9b49" stroke-width="0.9" stroke-linejoin="round"/>
<line x1="96.0" y1="323.1" x2="84.3" y2="321.2" stroke="#fff" stroke-opacity="0.14" stroke-width="0.5"/>
<line x1="84.3" y1="321.2" x2="79.8" y2="324.2" stroke="#fff" stroke-opacity="0.14" stroke-width="0.5"/>
<polygon points="120.0,327.7 132.3,332.9 135.4,328.6" fill="#53b8db" stroke="#53b8db" stroke-width="0.9" stroke-linejoin="round"/>
<line x1="120.0" y1="327.7" x2="132.3" y2="332.9" stroke="#fff" stroke-opacity="0.14" stroke-width="0.5"/>
<line x1="132.3" y1="332.9" x2="135.4" y2="328.6" stroke="#fff" stroke-opacity="0.14" stroke-width="0.5"/>
<polygon points="51.5,328.1 59.0,326.1 56.2,324.9" fill="#44b3d8" stroke="#44b3d8" stroke-width="0.9" stroke-linejoin="round"/>
<polygon points="59.0,326.1 68.1,323.8 56.7,324.5 56.2,324.9" fill="#ee9640" stroke="#ee9640" stroke-width="0.9" stroke-linejoin="round"/>
<line x1="68.1" y1="323.8" x2="56.7" y2="324.5" stroke="#fff" stroke-opacity="0.14" stroke-width="0.5"/>
<line x1="56.7" y1="324.5" x2="51.5" y2="328.1" stroke="#fff" stroke-opacity="0.14" stroke-width="0.5"/>
<polygon points="68.1,323.8 79.8,324.2 84.3,321.2" fill="#ee9741" stroke="#ee9741" stroke-width="0.9" stroke-linejoin="round"/>
<line x1="68.1" y1="323.8" x2="79.8" y2="324.2" stroke="#fff" stroke-opacity="0.14" stroke-width="0.5"/>
<line x1="79.8" y1="324.2" x2="84.3" y2="321.2" stroke="#fff" stroke-opacity="0.14" stroke-width="0.5"/>
<polygon points="132.3,332.9 144.8,337.4 147.7,332.6" fill="#58bbdc" stroke="#58bbdc" stroke-width="0.9" stroke-linejoin="round"/>
<line x1="132.3" y1="332.9" x2="144.8" y2="337.4" stroke="#fff" stroke-opacity="0.14" stroke-width="0.5"/>
<line x1="144.8" y1="337.4" x2="147.7" y2="332.6" stroke="#fff" stroke-opacity="0.14" stroke-width="0.5"/>
<polygon points="99.0,326.3 107.9,326.4 103.7,325.2" fill="#53b9db" stroke="#53b9db" stroke-width="0.9" stroke-linejoin="round"/>
<polygon points="91.8,326.2 99.0,326.3 103.7,325.2 96.0,323.1" fill="#ef9f50" stroke="#ef9f50" stroke-width="0.9" stroke-linejoin="round"/>
<line x1="107.9" y1="326.4" x2="96.0" y2="323.1" stroke="#fff" stroke-opacity="0.14" stroke-width="0.5"/>
<line x1="96.0" y1="323.1" x2="91.8" y2="326.2" stroke="#fff" stroke-opacity="0.14" stroke-width="0.5"/>
<polygon points="79.8,324.2 91.8,326.2 96.0,323.1" fill="#ee9b49" stroke="#ee9b49" stroke-width="0.9" stroke-linejoin="round"/>
<line x1="79.8" y1="324.2" x2="91.8" y2="326.2" stroke="#fff" stroke-opacity="0.14" stroke-width="0.5"/>
<line x1="91.8" y1="326.2" x2="96.0" y2="323.1" stroke="#fff" stroke-opacity="0.14" stroke-width="0.5"/>
<polygon points="104.0,330.3 120.0,327.7 107.9,326.4" fill="#4eb7da" stroke="#4eb7da" stroke-width="0.9" stroke-linejoin="round"/>
<line x1="120.0" y1="327.7" x2="107.9" y2="326.4" stroke="#fff" stroke-opacity="0.14" stroke-width="0.5"/>
<line x1="107.9" y1="326.4" x2="104.0" y2="330.3" stroke="#fff" stroke-opacity="0.14" stroke-width="0.5"/>
<polygon points="51.5,328.1 63.2,327.8 63.8,327.3 59.0,326.1" fill="#44b3d8" stroke="#44b3d8" stroke-width="0.9" stroke-linejoin="round"/>
<polygon points="63.8,327.3 68.1,323.8 59.0,326.1" fill="#ee9640" stroke="#ee9640" stroke-width="0.9" stroke-linejoin="round"/>
<line x1="51.5" y1="328.1" x2="63.2" y2="327.8" stroke="#fff" stroke-opacity="0.14" stroke-width="0.5"/>
<line x1="63.2" y1="327.8" x2="68.1" y2="323.8" stroke="#fff" stroke-opacity="0.14" stroke-width="0.5"/>
<polygon points="63.2,327.8 65.1,327.4 63.8,327.3" fill="#4cb6da" stroke="#4cb6da" stroke-width="0.9" stroke-linejoin="round"/>
<polygon points="65.1,327.4 79.8,324.2 68.1,323.8 63.8,327.3" fill="#ee9b49" stroke="#ee9b49" stroke-width="0.9" stroke-linejoin="round"/>
<line x1="79.8" y1="324.2" x2="68.1" y2="323.8" stroke="#fff" stroke-opacity="0.14" stroke-width="0.5"/>
<line x1="68.1" y1="323.8" x2="63.2" y2="327.8" stroke="#fff" stroke-opacity="0.14" stroke-width="0.5"/>
<polygon points="94.5,327.1 104.0,330.3 107.9,326.4 99.0,326.3" fill="#53b9db" stroke="#53b9db" stroke-width="0.9" stroke-linejoin="round"/>
<polygon points="91.8,326.2 94.5,327.1 99.0,326.3" fill="#ef9f50" stroke="#ef9f50" stroke-width="0.9" stroke-linejoin="round"/>
<line x1="91.8" y1="326.2" x2="104.0" y2="330.3" stroke="#fff" stroke-opacity="0.14" stroke-width="0.5"/>
<line x1="104.0" y1="330.3" x2="107.9" y2="326.4" stroke="#fff" stroke-opacity="0.14" stroke-width="0.5"/>
<polygon points="129.0,339.0 144.8,337.4 132.3,332.9" fill="#5ebddd" stroke="#5ebddd" stroke-width="0.9" stroke-linejoin="round"/>
<line x1="144.8" y1="337.4" x2="132.3" y2="332.9" stroke="#fff" stroke-opacity="0.14" stroke-width="0.5"/>
<line x1="132.3" y1="332.9" x2="129.0" y2="339.0" stroke="#fff" stroke-opacity="0.14" stroke-width="0.5"/>
<polygon points="116.4,331.9 132.3,332.9 120.0,327.7" fill="#5cbcdd" stroke="#5cbcdd" stroke-width="0.9" stroke-linejoin="round"/>
<line x1="132.3" y1="332.9" x2="120.0" y2="327.7" stroke="#fff" stroke-opacity="0.14" stroke-width="0.5"/>
<line x1="120.0" y1="327.7" x2="116.4" y2="331.9" stroke="#fff" stroke-opacity="0.14" stroke-width="0.5"/>
<polygon points="104.0,330.3 116.4,331.9 120.0,327.7" fill="#4eb7da" stroke="#4eb7da" stroke-width="0.9" stroke-linejoin="round"/>
<line x1="104.0" y1="330.3" x2="116.4" y2="331.9" stroke="#fff" stroke-opacity="0.14" stroke-width="0.5"/>
<line x1="116.4" y1="331.9" x2="120.0" y2="327.7" stroke="#fff" stroke-opacity="0.14" stroke-width="0.5"/>
<polygon points="46.0,333.8 63.2,327.8 51.5,328.1" fill="#50b7da" stroke="#50b7da" stroke-width="0.9" stroke-linejoin="round"/>
<line x1="63.2" y1="327.8" x2="51.5" y2="328.1" stroke="#fff" stroke-opacity="0.14" stroke-width="0.5"/>
<line x1="51.5" y1="328.1" x2="46.0" y2="333.8" stroke="#fff" stroke-opacity="0.14" stroke-width="0.5"/>
<polygon points="75.1,328.8 81.4,327.8 76.0,327.9" fill="#54b9db" stroke="#54b9db" stroke-width="0.9" stroke-linejoin="round"/>
<polygon points="81.4,327.8 91.8,326.2 79.8,324.2 76.0,327.9" fill="#ef9f51" stroke="#ef9f51" stroke-width="0.9" stroke-linejoin="round"/>
<line x1="91.8" y1="326.2" x2="79.8" y2="324.2" stroke="#fff" stroke-opacity="0.14" stroke-width="0.5"/>
<line x1="79.8" y1="324.2" x2="75.1" y2="328.8" stroke="#fff" stroke-opacity="0.14" stroke-width="0.5"/>
<polygon points="129.6,339.3 141.7,344.7 144.7,337.7" fill="#9b7bc2" stroke="#9b7bc2" stroke-width="0.9" stroke-linejoin="round"/>
<polygon points="129.0,339.0 129.6,339.3 144.7,337.7 144.8,337.4" fill="#5ebddd" stroke="#5ebddd" stroke-width="0.9" stroke-linejoin="round"/>
<line x1="129.0" y1="339.0" x2="141.7" y2="344.7" stroke="#fff" stroke-opacity="0.14" stroke-width="0.5"/>
<line x1="141.7" y1="344.7" x2="144.8" y2="337.4" stroke="#fff" stroke-opacity="0.14" stroke-width="0.5"/>
<polygon points="116.4,331.9 129.0,339.0 132.3,332.9" fill="#5cbcdd" stroke="#5cbcdd" stroke-width="0.9" stroke-linejoin="round"/>
<line x1="116.4" y1="331.9" x2="129.0" y2="339.0" stroke="#fff" stroke-opacity="0.14" stroke-width="0.5"/>
<line x1="129.0" y1="339.0" x2="132.3" y2="332.9" stroke="#fff" stroke-opacity="0.14" stroke-width="0.5"/>
<polygon points="63.2,327.8 75.1,328.8 76.0,327.9 65.1,327.4" fill="#4cb6da" stroke="#4cb6da" stroke-width="0.9" stroke-linejoin="round"/>
<polygon points="76.0,327.9 79.8,324.2 65.1,327.4" fill="#ee9b49" stroke="#ee9b49" stroke-width="0.9" stroke-linejoin="round"/>
<line x1="63.2" y1="327.8" x2="75.1" y2="328.8" stroke="#fff" stroke-opacity="0.14" stroke-width="0.5"/>
<line x1="75.1" y1="328.8" x2="79.8" y2="324.2" stroke="#fff" stroke-opacity="0.14" stroke-width="0.5"/>
<polygon points="87.4,331.2 104.0,330.3 94.5,327.1 90.6,327.5" fill="#5ebddd" stroke="#5ebddd" stroke-width="0.9" stroke-linejoin="round"/>
<polygon points="94.5,327.1 91.8,326.2 90.6,327.5" fill="#f0a55b" stroke="#f0a55b" stroke-width="0.9" stroke-linejoin="round"/>
<line x1="104.0" y1="330.3" x2="91.8" y2="326.2" stroke="#fff" stroke-opacity="0.14" stroke-width="0.5"/>
<line x1="91.8" y1="326.2" x2="87.4" y2="331.2" stroke="#fff" stroke-opacity="0.14" stroke-width="0.5"/>
<polygon points="75.1,328.8 87.4,331.2 90.6,327.5 81.4,327.8" fill="#54b9db" stroke="#54b9db" stroke-width="0.9" stroke-linejoin="round"/>
<polygon points="90.6,327.5 91.8,326.2 81.4,327.8" fill="#ef9f51" stroke="#ef9f51" stroke-width="0.9" stroke-linejoin="round"/>
<line x1="75.1" y1="328.8" x2="87.4" y2="331.2" stroke="#fff" stroke-opacity="0.14" stroke-width="0.5"/>
<line x1="87.4" y1="331.2" x2="91.8" y2="326.2" stroke="#fff" stroke-opacity="0.14" stroke-width="0.5"/>
<polygon points="46.0,333.8 58.0,334.3 63.2,327.8" fill="#50b7da" stroke="#50b7da" stroke-width="0.9" stroke-linejoin="round"/>
<line x1="46.0" y1="333.8" x2="58.0" y2="334.3" stroke="#fff" stroke-opacity="0.14" stroke-width="0.5"/>
<line x1="58.0" y1="334.3" x2="63.2" y2="327.8" stroke="#fff" stroke-opacity="0.14" stroke-width="0.5"/>
<polygon points="99.8,337.9 116.4,331.9 104.0,330.3" fill="#5abcdd" stroke="#5abcdd" stroke-width="0.9" stroke-linejoin="round"/>
<line x1="116.4" y1="331.9" x2="104.0" y2="330.3" stroke="#fff" stroke-opacity="0.14" stroke-width="0.5"/>
<line x1="104.0" y1="330.3" x2="99.8" y2="337.9" stroke="#fff" stroke-opacity="0.14" stroke-width="0.5"/>
<polygon points="125.3,350.9 141.7,344.7 129.6,339.3 128.9,339.3" fill="#9e7ec4" stroke="#9e7ec4" stroke-width="0.9" stroke-linejoin="round"/>
<polygon points="129.6,339.3 129.0,339.0 128.9,339.3" fill="#62bfde" stroke="#62bfde" stroke-width="0.9" stroke-linejoin="round"/>
<line x1="141.7" y1="344.7" x2="129.0" y2="339.0" stroke="#fff" stroke-opacity="0.14" stroke-width="0.5"/>
<line x1="129.0" y1="339.0" x2="125.3" y2="350.9" stroke="#fff" stroke-opacity="0.14" stroke-width="0.5"/>
<polygon points="58.0,334.3 75.1,328.8 63.2,327.8" fill="#59bbdc" stroke="#59bbdc" stroke-width="0.9" stroke-linejoin="round"/>
<line x1="75.1" y1="328.8" x2="63.2" y2="327.8" stroke="#fff" stroke-opacity="0.14" stroke-width="0.5"/>
<line x1="63.2" y1="327.8" x2="58.0" y2="334.3" stroke="#fff" stroke-opacity="0.14" stroke-width="0.5"/>
<polygon points="128.3,352.3 138.3,356.5 139.7,351.9" fill="#add176" stroke="#add176" stroke-width="0.9" stroke-linejoin="round"/>
<polygon points="125.3,350.9 128.3,352.3 139.7,351.9 141.7,344.7" fill="#9e7ec4" stroke="#9e7ec4" stroke-width="0.9" stroke-linejoin="round"/>
<line x1="125.3" y1="350.9" x2="138.3" y2="356.5" stroke="#fff" stroke-opacity="0.14" stroke-width="0.5"/>
<line x1="138.3" y1="356.5" x2="141.7" y2="344.7" stroke="#fff" stroke-opacity="0.14" stroke-width="0.5"/>
<polygon points="87.4,331.2 99.8,337.9 104.0,330.3" fill="#5ebddd" stroke="#5ebddd" stroke-width="0.9" stroke-linejoin="round"/>
<line x1="87.4" y1="331.2" x2="99.8" y2="337.9" stroke="#fff" stroke-opacity="0.14" stroke-width="0.5"/>
<line x1="99.8" y1="337.9" x2="104.0" y2="330.3" stroke="#fff" stroke-opacity="0.14" stroke-width="0.5"/>
<polygon points="112.5,340.3 129.0,339.0 116.4,331.9" fill="#63bfde" stroke="#63bfde" stroke-width="0.9" stroke-linejoin="round"/>
<line x1="129.0" y1="339.0" x2="116.4" y2="331.9" stroke="#fff" stroke-opacity="0.14" stroke-width="0.5"/>
<line x1="116.4" y1="331.9" x2="112.5" y2="340.3" stroke="#fff" stroke-opacity="0.14" stroke-width="0.5"/>
<polygon points="113.4,341.0 125.3,350.9 128.9,339.3" fill="#9e7fc4" stroke="#9e7fc4" stroke-width="0.9" stroke-linejoin="round"/>
<polygon points="112.5,340.3 113.4,341.0 128.9,339.3 129.0,339.0" fill="#63bfde" stroke="#63bfde" stroke-width="0.9" stroke-linejoin="round"/>
<line x1="112.5" y1="340.3" x2="125.3" y2="350.9" stroke="#fff" stroke-opacity="0.14" stroke-width="0.5"/>
<line x1="125.3" y1="350.9" x2="129.0" y2="339.0" stroke="#fff" stroke-opacity="0.14" stroke-width="0.5"/>
<polygon points="40.4,343.1 44.3,341.2 41.7,340.9" fill="#9978c1" stroke="#9978c1" stroke-width="0.9" stroke-linejoin="round"/>
<polygon points="44.3,341.2 58.0,334.3 46.0,333.8 41.7,340.9" fill="#5abcdd" stroke="#5abcdd" stroke-width="0.9" stroke-linejoin="round"/>
<line x1="58.0" y1="334.3" x2="46.0" y2="333.8" stroke="#fff" stroke-opacity="0.14" stroke-width="0.5"/>
<line x1="46.0" y1="333.8" x2="40.4" y2="343.1" stroke="#fff" stroke-opacity="0.14" stroke-width="0.5"/>
<polygon points="121.3,368.5 126.8,364.6 122.2,364.6" fill="#d76b6b" stroke="#d76b6b" stroke-width="0.9" stroke-linejoin="round"/>
<polygon points="126.8,364.6 138.3,356.5 128.3,352.3 125.0,352.2 122.2,364.6" fill="#abd074" stroke="#abd074" stroke-width="0.9" stroke-linejoin="round"/>
<polygon points="128.3,352.3 125.3,350.9 125.0,352.2" fill="#9c7cc3" stroke="#9c7cc3" stroke-width="0.9" stroke-linejoin="round"/>
<line x1="138.3" y1="356.5" x2="125.3" y2="350.9" stroke="#fff" stroke-opacity="0.14" stroke-width="0.5"/>
<line x1="125.3" y1="350.9" x2="121.3" y2="368.5" stroke="#fff" stroke-opacity="0.14" stroke-width="0.5"/>
<polygon points="121.3,368.5 134.6,372.8 136.4,364.9 126.8,364.6" fill="#d76b6b" stroke="#d76b6b" stroke-width="0.9" stroke-linejoin="round"/>
<polygon points="136.4,364.9 138.3,356.5 126.8,364.6" fill="#abd074" stroke="#abd074" stroke-width="0.9" stroke-linejoin="round"/>
<line x1="121.3" y1="368.5" x2="134.6" y2="372.8" stroke="#fff" stroke-opacity="0.14" stroke-width="0.5"/>
<line x1="134.6" y1="372.8" x2="138.3" y2="356.5" stroke="#fff" stroke-opacity="0.14" stroke-width="0.5"/>
<polygon points="99.8,337.9 112.5,340.3 116.4,331.9" fill="#5abcdd" stroke="#5abcdd" stroke-width="0.9" stroke-linejoin="round"/>
<line x1="99.8" y1="337.9" x2="112.5" y2="340.3" stroke="#fff" stroke-opacity="0.14" stroke-width="0.5"/>
<line x1="112.5" y1="340.3" x2="116.4" y2="331.9" stroke="#fff" stroke-opacity="0.14" stroke-width="0.5"/>
<polygon points="117.2,383.9 126.5,378.0 118.9,377.7" fill="#6495d3" stroke="#6495d3" stroke-width="0.9" stroke-linejoin="round"/>
<polygon points="126.5,378.0 134.6,372.8 121.3,368.5 118.9,377.7" fill="#d66969" stroke="#d66969" stroke-width="0.9" stroke-linejoin="round"/>
<line x1="134.6" y1="372.8" x2="121.3" y2="368.5" stroke="#fff" stroke-opacity="0.14" stroke-width="0.5"/>
<line x1="121.3" y1="368.5" x2="117.2" y2="383.9" stroke="#fff" stroke-opacity="0.14" stroke-width="0.5"/>
<polygon points="70.2,337.0 87.4,331.2 75.1,328.8" fill="#5fbdde" stroke="#5fbdde" stroke-width="0.9" stroke-linejoin="round"/>
<line x1="87.4" y1="331.2" x2="75.1" y2="328.8" stroke="#fff" stroke-opacity="0.14" stroke-width="0.5"/>
<line x1="75.1" y1="328.8" x2="70.2" y2="337.0" stroke="#fff" stroke-opacity="0.14" stroke-width="0.5"/>
<polygon points="58.0,334.3 70.2,337.0 75.1,328.8" fill="#59bbdc" stroke="#59bbdc" stroke-width="0.9" stroke-linejoin="round"/>
<line x1="58.0" y1="334.3" x2="70.2" y2="337.0" stroke="#fff" stroke-opacity="0.14" stroke-width="0.5"/>
<line x1="70.2" y1="337.0" x2="75.1" y2="328.8" stroke="#fff" stroke-opacity="0.14" stroke-width="0.5"/>
<polygon points="117.2,383.9 130.9,385.6 132.9,378.6 126.5,378.0" fill="#6495d3" stroke="#6495d3" stroke-width="0.9" stroke-linejoin="round"/>
<polygon points="132.9,378.6 134.6,372.8 126.5,378.0" fill="#d66969" stroke="#d66969" stroke-width="0.9" stroke-linejoin="round"/>
<line x1="117.2" y1="383.9" x2="130.9" y2="385.6" stroke="#fff" stroke-opacity="0.14" stroke-width="0.5"/>
<line x1="130.9" y1="385.6" x2="134.6" y2="372.8" stroke="#fff" stroke-opacity="0.14" stroke-width="0.5"/>
<polygon points="110.4,378.6 117.2,383.9 118.9,377.7" fill="#6a9ad5" stroke="#6a9ad5" stroke-width="0.9" stroke-linejoin="round"/>
<polygon points="104.0,373.5 110.4,378.6 118.9,377.7 121.3,368.5" fill="#d86f6f" stroke="#d86f6f" stroke-width="0.9" stroke-linejoin="round"/>
<line x1="104.0" y1="373.5" x2="117.2" y2="383.9" stroke="#fff" stroke-opacity="0.14" stroke-width="0.5"/>
<line x1="117.2" y1="383.9" x2="121.3" y2="368.5" stroke="#fff" stroke-opacity="0.14" stroke-width="0.5"/>
<polygon points="117.8,365.0 121.3,368.5 122.2,364.6" fill="#d86f6f" stroke="#d86f6f" stroke-width="0.9" stroke-linejoin="round"/>
<polygon points="108.4,355.6 117.8,365.0 122.2,364.6 125.0,352.2 118.5,352.8" fill="#add177" stroke="#add177" stroke-width="0.9" stroke-linejoin="round"/>
<polygon points="125.0,352.2 125.3,350.9 118.5,352.8" fill="#9e7fc4" stroke="#9e7fc4" stroke-width="0.9" stroke-linejoin="round"/>
<line x1="108.4" y1="355.6" x2="121.3" y2="368.5" stroke="#fff" stroke-opacity="0.14" stroke-width="0.5"/>
<line x1="121.3" y1="368.5" x2="125.3" y2="350.9" stroke="#fff" stroke-opacity="0.14" stroke-width="0.5"/>
<polygon points="82.7,341.5 99.8,337.9 87.4,331.2" fill="#63bfde" stroke="#63bfde" stroke-width="0.9" stroke-linejoin="round"/>
<line x1="99.8" y1="337.9" x2="87.4" y2="331.2" stroke="#fff" stroke-opacity="0.14" stroke-width="0.5"/>
<line x1="87.4" y1="331.2" x2="82.7" y2="341.5" stroke="#fff" stroke-opacity="0.14" stroke-width="0.5"/>
<polygon points="40.4,343.1 52.6,345.7 54.6,341.5 44.3,341.2" fill="#9978c1" stroke="#9978c1" stroke-width="0.9" stroke-linejoin="round"/>
<polygon points="54.6,341.5 58.0,334.3 44.3,341.2" fill="#5abcdd" stroke="#5abcdd" stroke-width="0.9" stroke-linejoin="round"/>
<line x1="40.4" y1="343.1" x2="52.6" y2="345.7" stroke="#fff" stroke-opacity="0.14" stroke-width="0.5"/>
<line x1="52.6" y1="345.7" x2="58.0" y2="334.3" stroke="#fff" stroke-opacity="0.14" stroke-width="0.5"/>
<polygon points="95.4,351.2 111.3,341.1 99.0,340.5" fill="#9b7bc2" stroke="#9b7bc2" stroke-width="0.9" stroke-linejoin="round"/>
<polygon points="111.3,341.1 112.5,340.3 99.8,337.9 99.0,340.5" fill="#5ebddd" stroke="#5ebddd" stroke-width="0.9" stroke-linejoin="round"/>
<line x1="112.5" y1="340.3" x2="99.8" y2="337.9" stroke="#fff" stroke-opacity="0.14" stroke-width="0.5"/>
<line x1="99.8" y1="337.9" x2="95.4" y2="351.2" stroke="#fff" stroke-opacity="0.14" stroke-width="0.5"/>
<polygon points="108.4,355.6 118.5,352.8 108.9,353.6" fill="#add177" stroke="#add177" stroke-width="0.9" stroke-linejoin="round"/>
<polygon points="118.5,352.8 125.3,350.9 113.4,341.0 112.3,341.1 108.9,353.6" fill="#9e7fc4" stroke="#9e7fc4" stroke-width="0.9" stroke-linejoin="round"/>
<polygon points="113.4,341.0 112.5,340.3 112.3,341.1" fill="#63bfde" stroke="#63bfde" stroke-width="0.9" stroke-linejoin="round"/>
<line x1="125.3" y1="350.9" x2="112.5" y2="340.3" stroke="#fff" stroke-opacity="0.14" stroke-width="0.5"/>
<line x1="112.5" y1="340.3" x2="108.4" y2="355.6" stroke="#fff" stroke-opacity="0.14" stroke-width="0.5"/>
<polygon points="113.1,392.1 130.9,385.6 117.2,383.9" fill="#588ed0" stroke="#588ed0" stroke-width="0.9" stroke-linejoin="round"/>
<line x1="130.9" y1="385.6" x2="117.2" y2="383.9" stroke="#fff" stroke-opacity="0.14" stroke-width="0.5"/>
<line x1="117.2" y1="383.9" x2="113.1" y2="392.1" stroke="#fff" stroke-opacity="0.14" stroke-width="0.5"/>
<polygon points="104.0,373.5 121.3,368.5 117.8,365.0 105.8,366.2" fill="#d86f6f" stroke="#d86f6f" stroke-width="0.9" stroke-linejoin="round"/>
<polygon points="117.8,365.0 108.4,355.6 105.8,366.2" fill="#add177" stroke="#add177" stroke-width="0.9" stroke-linejoin="round"/>
<line x1="121.3" y1="368.5" x2="108.4" y2="355.6" stroke="#fff" stroke-opacity="0.14" stroke-width="0.5"/>
<line x1="108.4" y1="355.6" x2="104.0" y2="373.5" stroke="#fff" stroke-opacity="0.14" stroke-width="0.5"/>
<polygon points="52.6,345.7 60.8,341.7 54.6,341.5" fill="#9c7cc3" stroke="#9c7cc3" stroke-width="0.9" stroke-linejoin="round"/>
<polygon points="60.8,341.7 70.2,337.0 58.0,334.3 54.6,341.5" fill="#60bede" stroke="#60bede" stroke-width="0.9" stroke-linejoin="round"/>
<line x1="70.2" y1="337.0" x2="58.0" y2="334.3" stroke="#fff" stroke-opacity="0.14" stroke-width="0.5"/>
<line x1="58.0" y1="334.3" x2="52.6" y2="345.7" stroke="#fff" stroke-opacity="0.14" stroke-width="0.5"/>
<polygon points="70.2,337.0 82.7,341.5 87.4,331.2" fill="#5fbdde" stroke="#5fbdde" stroke-width="0.9" stroke-linejoin="round"/>
<line x1="70.2" y1="337.0" x2="82.7" y2="341.5" stroke="#fff" stroke-opacity="0.14" stroke-width="0.5"/>
<line x1="82.7" y1="341.5" x2="87.4" y2="331.2" stroke="#fff" stroke-opacity="0.14" stroke-width="0.5"/>
<polygon points="83.0,341.8 95.4,351.2 99.0,340.5" fill="#9e7fc4" stroke="#9e7fc4" stroke-width="0.9" stroke-linejoin="round"/>
<polygon points="82.7,341.5 83.0,341.8 99.0,340.5 99.8,337.9" fill="#63bfde" stroke="#63bfde" stroke-width="0.9" stroke-linejoin="round"/>
<line x1="82.7" y1="341.5" x2="95.4" y2="351.2" stroke="#fff" stroke-opacity="0.14" stroke-width="0.5"/>
<line x1="95.4" y1="351.2" x2="99.8" y2="337.9" stroke="#fff" stroke-opacity="0.14" stroke-width="0.5"/>
<polygon points="99.5,386.0 117.2,383.9 110.4,378.6 101.7,380.0" fill="#6898d4" stroke="#6898d4" stroke-width="0.9" stroke-linejoin="round"/>
<polygon points="110.4,378.6 104.0,373.5 101.7,380.0" fill="#d76d6d" stroke="#d76d6d" stroke-width="0.9" stroke-linejoin="round"/>
<line x1="117.2" y1="383.9" x2="104.0" y2="373.5" stroke="#fff" stroke-opacity="0.14" stroke-width="0.5"/>
<line x1="104.0" y1="373.5" x2="99.5" y2="386.0" stroke="#fff" stroke-opacity="0.14" stroke-width="0.5"/>
<polygon points="34.5,354.8 35.1,354.6 34.7,354.5" fill="#aad072" stroke="#aad072" stroke-width="0.9" stroke-linejoin="round"/>
<polygon points="35.1,354.6 52.6,345.7 40.4,343.1 34.7,354.5" fill="#9b7bc2" stroke="#9b7bc2" stroke-width="0.9" stroke-linejoin="round"/>
<line x1="52.6" y1="345.7" x2="40.4" y2="343.1" stroke="#fff" stroke-opacity="0.14" stroke-width="0.5"/>
<line x1="40.4" y1="343.1" x2="34.5" y2="354.8" stroke="#fff" stroke-opacity="0.14" stroke-width="0.5"/>
<polygon points="102.0,353.4 108.4,355.6 108.9,353.6" fill="#abd073" stroke="#abd073" stroke-width="0.9" stroke-linejoin="round"/>
<polygon points="95.4,351.2 102.0,353.4 108.9,353.6 112.3,341.1 111.3,341.1" fill="#9b7bc2" stroke="#9b7bc2" stroke-width="0.9" stroke-linejoin="round"/>
<polygon points="112.3,341.1 112.5,340.3 111.3,341.1" fill="#5ebddd" stroke="#5ebddd" stroke-width="0.9" stroke-linejoin="round"/>
<line x1="95.4" y1="351.2" x2="108.4" y2="355.6" stroke="#fff" stroke-opacity="0.14" stroke-width="0.5"/>
<line x1="108.4" y1="355.6" x2="112.5" y2="340.3" stroke="#fff" stroke-opacity="0.14" stroke-width="0.5"/>
<polygon points="90.8,368.6 94.6,365.8 91.6,365.7" fill="#d76b6b" stroke="#d76b6b" stroke-width="0.9" stroke-linejoin="round"/>
<polygon points="94.6,365.8 108.4,355.6 102.0,353.4 94.9,353.2 91.6,365.7" fill="#abd073" stroke="#abd073" stroke-width="0.9" stroke-linejoin="round"/>
<polygon points="102.0,353.4 95.4,351.2 94.9,353.2" fill="#9c7cc3" stroke="#9c7cc3" stroke-width="0.9" stroke-linejoin="round"/>
<line x1="108.4" y1="355.6" x2="95.4" y2="351.2" stroke="#fff" stroke-opacity="0.14" stroke-width="0.5"/>
<line x1="95.4" y1="351.2" x2="90.8" y2="368.6" stroke="#fff" stroke-opacity="0.14" stroke-width="0.5"/>
<polygon points="99.5,386.0 113.1,392.1 117.2,383.9" fill="#6898d4" stroke="#6898d4" stroke-width="0.9" stroke-linejoin="round"/>
<line x1="99.5" y1="386.0" x2="113.1" y2="392.1" stroke="#fff" stroke-opacity="0.14" stroke-width="0.5"/>
<line x1="113.1" y1="392.1" x2="117.2" y2="383.9" stroke="#fff" stroke-opacity="0.14" stroke-width="0.5"/>
<polygon points="90.8,368.6 104.0,373.5 105.8,366.2 94.6,365.8" fill="#d76b6b" stroke="#d76b6b" stroke-width="0.9" stroke-linejoin="round"/>
<polygon points="105.8,366.2 108.4,355.6 94.6,365.8" fill="#abd073" stroke="#abd073" stroke-width="0.9" stroke-linejoin="round"/>
<line x1="90.8" y1="368.6" x2="104.0" y2="373.5" stroke="#fff" stroke-opacity="0.14" stroke-width="0.5"/>
<line x1="104.0" y1="373.5" x2="108.4" y2="355.6" stroke="#fff" stroke-opacity="0.14" stroke-width="0.5"/>
<polygon points="86.1,382.6 92.1,379.5 87.1,379.5" fill="#6697d4" stroke="#6697d4" stroke-width="0.9" stroke-linejoin="round"/>
<polygon points="92.1,379.5 104.0,373.5 90.8,368.6 87.1,379.5" fill="#d76b6b" stroke="#d76b6b" stroke-width="0.9" stroke-linejoin="round"/>
<line x1="104.0" y1="373.5" x2="90.8" y2="368.6" stroke="#fff" stroke-opacity="0.14" stroke-width="0.5"/>
<line x1="90.8" y1="368.6" x2="86.1" y2="382.6" stroke="#fff" stroke-opacity="0.14" stroke-width="0.5"/>
<polygon points="87.4,366.0 90.8,368.6 91.6,365.7" fill="#d86f6f" stroke="#d86f6f" stroke-width="0.9" stroke-linejoin="round"/>
<polygon points="77.9,358.6 87.4,366.0 91.6,365.7 94.9,353.2 90.1,353.5" fill="#add177" stroke="#add177" stroke-width="0.9" stroke-linejoin="round"/>
<polygon points="94.9,353.2 95.4,351.2 90.1,353.5" fill="#9e7fc4" stroke="#9e7fc4" stroke-width="0.9" stroke-linejoin="round"/>
<line x1="77.9" y1="358.6" x2="90.8" y2="368.6" stroke="#fff" stroke-opacity="0.14" stroke-width="0.5"/>
<line x1="90.8" y1="368.6" x2="95.4" y2="351.2" stroke="#fff" stroke-opacity="0.14" stroke-width="0.5"/>
<polygon points="52.6,345.7 65.1,351.1 68.5,341.7 60.8,341.7" fill="#9c7cc3" stroke="#9c7cc3" stroke-width="0.9" stroke-linejoin="round"/>
<polygon points="68.5,341.7 70.2,337.0 60.8,341.7" fill="#60bede" stroke="#60bede" stroke-width="0.9" stroke-linejoin="round"/>
<line x1="52.6" y1="345.7" x2="65.1" y2="351.1" stroke="#fff" stroke-opacity="0.14" stroke-width="0.5"/>
<line x1="65.1" y1="351.1" x2="70.2" y2="337.0" stroke="#fff" stroke-opacity="0.14" stroke-width="0.5"/>
<polygon points="77.9,358.6 90.1,353.5 79.2,354.0" fill="#add177" stroke="#add177" stroke-width="0.9" stroke-linejoin="round"/>
<polygon points="90.1,353.5 95.4,351.2 83.0,341.8 82.7,341.8 79.2,354.0" fill="#9e7fc4" stroke="#9e7fc4" stroke-width="0.9" stroke-linejoin="round"/>
<polygon points="83.0,341.8 82.7,341.5 82.7,341.8" fill="#63bfde" stroke="#63bfde" stroke-width="0.9" stroke-linejoin="round"/>
<line x1="95.4" y1="351.2" x2="82.7" y2="341.5" stroke="#fff" stroke-opacity="0.14" stroke-width="0.5"/>
<line x1="82.7" y1="341.5" x2="77.9" y2="358.6" stroke="#fff" stroke-opacity="0.14" stroke-width="0.5"/>
<polygon points="65.1,351.1 82.3,341.8 68.5,341.7" fill="#9d7ec3" stroke="#9d7ec3" stroke-width="0.9" stroke-linejoin="round"/>
<polygon points="82.3,341.8 82.7,341.5 70.2,337.0 68.5,341.7" fill="#61bede" stroke="#61bede" stroke-width="0.9" stroke-linejoin="round"/>
<line x1="82.7" y1="341.5" x2="70.2" y2="337.0" stroke="#fff" stroke-opacity="0.14" stroke-width="0.5"/>
<line x1="70.2" y1="337.0" x2="65.1" y2="351.1" stroke="#fff" stroke-opacity="0.14" stroke-width="0.5"/>
<polygon points="82.1,380.0 86.1,382.6 87.1,379.5" fill="#6a9ad5" stroke="#6a9ad5" stroke-width="0.9" stroke-linejoin="round"/>
<polygon points="72.9,373.7 82.1,380.0 87.1,379.5 90.8,368.6" fill="#d86f6f" stroke="#d86f6f" stroke-width="0.9" stroke-linejoin="round"/>
<line x1="72.9" y1="373.7" x2="86.1" y2="382.6" stroke="#fff" stroke-opacity="0.14" stroke-width="0.5"/>
<line x1="86.1" y1="382.6" x2="90.8" y2="368.6" stroke="#fff" stroke-opacity="0.14" stroke-width="0.5"/>
<polygon points="86.1,382.6 99.5,386.0 101.7,380.0 92.1,379.5" fill="#6697d4" stroke="#6697d4" stroke-width="0.9" stroke-linejoin="round"/>
<polygon points="101.7,380.0 104.0,373.5 92.1,379.5" fill="#d76b6b" stroke="#d76b6b" stroke-width="0.9" stroke-linejoin="round"/>
<line x1="86.1" y1="382.6" x2="99.5" y2="386.0" stroke="#fff" stroke-opacity="0.14" stroke-width="0.5"/>
<line x1="99.5" y1="386.0" x2="104.0" y2="373.5" stroke="#fff" stroke-opacity="0.14" stroke-width="0.5"/>
<polygon points="113.1,392.1 127.2,393.4 130.9,385.6" fill="#588ed0" stroke="#588ed0" stroke-width="0.9" stroke-linejoin="round"/>
<line x1="113.1" y1="392.1" x2="127.2" y2="393.4" stroke="#fff" stroke-opacity="0.14" stroke-width="0.5"/>
<line x1="127.2" y1="393.4" x2="130.9" y2="385.6" stroke="#fff" stroke-opacity="0.14" stroke-width="0.5"/>
<polygon points="72.9,373.7 90.8,368.6 87.4,366.0 75.1,367.0" fill="#d86f6f" stroke="#d86f6f" stroke-width="0.9" stroke-linejoin="round"/>
<polygon points="87.4,366.0 77.9,358.6 75.1,367.0" fill="#add177" stroke="#add177" stroke-width="0.9" stroke-linejoin="round"/>
<line x1="90.8" y1="368.6" x2="77.9" y2="358.6" stroke="#fff" stroke-opacity="0.14" stroke-width="0.5"/>
<line x1="77.9" y1="358.6" x2="72.9" y2="373.7" stroke="#fff" stroke-opacity="0.14" stroke-width="0.5"/>
<polygon points="34.5,354.8 47.0,358.5 48.6,354.9 35.1,354.6" fill="#aad072" stroke="#aad072" stroke-width="0.9" stroke-linejoin="round"/>
<polygon points="48.6,354.9 52.6,345.7 35.1,354.6" fill="#9b7bc2" stroke="#9b7bc2" stroke-width="0.9" stroke-linejoin="round"/>
<line x1="34.5" y1="354.8" x2="47.0" y2="358.5" stroke="#fff" stroke-opacity="0.14" stroke-width="0.5"/>
<line x1="47.0" y1="358.5" x2="52.6" y2="345.7" stroke="#fff" stroke-opacity="0.14" stroke-width="0.5"/>
<polygon points="70.4,354.2 77.9,358.6 79.2,354.0" fill="#acd175" stroke="#acd175" stroke-width="0.9" stroke-linejoin="round"/>
<polygon points="65.1,351.1 70.4,354.2 79.2,354.0 82.7,341.8 82.3,341.8" fill="#9d7ec3" stroke="#9d7ec3" stroke-width="0.9" stroke-linejoin="round"/>
<polygon points="82.7,341.8 82.7,341.5 82.3,341.8" fill="#61bede" stroke="#61bede" stroke-width="0.9" stroke-linejoin="round"/>
<line x1="65.1" y1="351.1" x2="77.9" y2="358.6" stroke="#fff" stroke-opacity="0.14" stroke-width="0.5"/>
<line x1="77.9" y1="358.6" x2="82.7" y2="341.5" stroke="#fff" stroke-opacity="0.14" stroke-width="0.5"/>
<polygon points="47.0,358.5 56.3,354.7 48.6,354.9" fill="#acd176" stroke="#acd176" stroke-width="0.9" stroke-linejoin="round"/>
<polygon points="56.3,354.7 65.1,351.1 52.6,345.7 48.6,354.9" fill="#9d7ec4" stroke="#9d7ec4" stroke-width="0.9" stroke-linejoin="round"/>
<line x1="65.1" y1="351.1" x2="52.6" y2="345.7" stroke="#fff" stroke-opacity="0.14" stroke-width="0.5"/>
<line x1="52.6" y1="345.7" x2="47.0" y2="358.5" stroke="#fff" stroke-opacity="0.14" stroke-width="0.5"/>
<polygon points="59.8,364.1 77.9,358.6 70.4,354.2 63.7,354.6" fill="#add177" stroke="#add177" stroke-width="0.9" stroke-linejoin="round"/>
<polygon points="70.4,354.2 65.1,351.1 63.7,354.6" fill="#9e7fc4" stroke="#9e7fc4" stroke-width="0.9" stroke-linejoin="round"/>
<line x1="77.9" y1="358.6" x2="65.1" y2="351.1" stroke="#fff" stroke-opacity="0.14" stroke-width="0.5"/>
<line x1="65.1" y1="351.1" x2="59.8" y2="364.1" stroke="#fff" stroke-opacity="0.14" stroke-width="0.5"/>
<polygon points="64.8,367.8 72.9,373.7 75.1,367.0" fill="#d86f6f" stroke="#d86f6f" stroke-width="0.9" stroke-linejoin="round"/>
<polygon points="59.8,364.1 64.8,367.8 75.1,367.0 77.9,358.6" fill="#add177" stroke="#add177" stroke-width="0.9" stroke-linejoin="round"/>
<line x1="59.8" y1="364.1" x2="72.9" y2="373.7" stroke="#fff" stroke-opacity="0.14" stroke-width="0.5"/>
<line x1="72.9" y1="373.7" x2="77.9" y2="358.6" stroke="#fff" stroke-opacity="0.14" stroke-width="0.5"/>
<polygon points="81.0,389.6 99.5,386.0 86.1,382.6" fill="#5f92d2" stroke="#5f92d2" stroke-width="0.9" stroke-linejoin="round"/>
<line x1="99.5" y1="386.0" x2="86.1" y2="382.6" stroke="#fff" stroke-opacity="0.14" stroke-width="0.5"/>
<line x1="86.1" y1="382.6" x2="81.0" y2="389.6" stroke="#fff" stroke-opacity="0.14" stroke-width="0.5"/>
<polygon points="47.0,358.5 59.8,364.1 63.7,354.6 56.3,354.7" fill="#acd176" stroke="#acd176" stroke-width="0.9" stroke-linejoin="round"/>
<polygon points="63.7,354.6 65.1,351.1 56.3,354.7" fill="#9d7ec4" stroke="#9d7ec4" stroke-width="0.9" stroke-linejoin="round"/>
<line x1="47.0" y1="358.5" x2="59.8" y2="364.1" stroke="#fff" stroke-opacity="0.14" stroke-width="0.5"/>
<line x1="59.8" y1="364.1" x2="65.1" y2="351.1" stroke="#fff" stroke-opacity="0.14" stroke-width="0.5"/>
<polygon points="28.2,362.2 47.0,358.5 34.5,354.8" fill="#a9cf70" stroke="#a9cf70" stroke-width="0.9" stroke-linejoin="round"/>
<line x1="47.0" y1="358.5" x2="34.5" y2="354.8" stroke="#fff" stroke-opacity="0.14" stroke-width="0.5"/>
<line x1="34.5" y1="354.8" x2="28.2" y2="362.2" stroke="#fff" stroke-opacity="0.14" stroke-width="0.5"/>
<polygon points="94.7,394.2 113.1,392.1 99.5,386.0" fill="#5c90d1" stroke="#5c90d1" stroke-width="0.9" stroke-linejoin="round"/>
<line x1="113.1" y1="392.1" x2="99.5" y2="386.0" stroke="#fff" stroke-opacity="0.14" stroke-width="0.5"/>
<line x1="99.5" y1="386.0" x2="94.7" y2="394.2" stroke="#fff" stroke-opacity="0.14" stroke-width="0.5"/>
<polygon points="76.0,381.9 86.1,382.6 82.1,380.0" fill="#6395d3" stroke="#6395d3" stroke-width="0.9" stroke-linejoin="round"/>
<polygon points="67.4,381.2 76.0,381.9 82.1,380.0 72.9,373.7" fill="#d66868" stroke="#d66868" stroke-width="0.9" stroke-linejoin="round"/>
<line x1="86.1" y1="382.6" x2="72.9" y2="373.7" stroke="#fff" stroke-opacity="0.14" stroke-width="0.5"/>
<line x1="72.9" y1="373.7" x2="67.4" y2="381.2" stroke="#fff" stroke-opacity="0.14" stroke-width="0.5"/>
<polygon points="108.8,397.1 127.2,393.4 113.1,392.1" fill="#4c85cc" stroke="#4c85cc" stroke-width="0.9" stroke-linejoin="round"/>
<line x1="127.2" y1="393.4" x2="113.1" y2="392.1" stroke="#fff" stroke-opacity="0.14" stroke-width="0.5"/>
<line x1="113.1" y1="392.1" x2="108.8" y2="397.1" stroke="#fff" stroke-opacity="0.14" stroke-width="0.5"/>
<polygon points="71.2,383.5 81.0,389.6 86.1,382.6 76.0,381.9" fill="#6395d3" stroke="#6395d3" stroke-width="0.9" stroke-linejoin="round"/>
<polygon points="67.4,381.2 71.2,383.5 76.0,381.9" fill="#d66868" stroke="#d66868" stroke-width="0.9" stroke-linejoin="round"/>
<line x1="67.4" y1="381.2" x2="81.0" y2="389.6" stroke="#fff" stroke-opacity="0.14" stroke-width="0.5"/>
<line x1="81.0" y1="389.6" x2="86.1" y2="382.6" stroke="#fff" stroke-opacity="0.14" stroke-width="0.5"/>
<polygon points="41.0,366.4 59.8,364.1 47.0,358.5" fill="#aad072" stroke="#aad072" stroke-width="0.9" stroke-linejoin="round"/>
<line x1="59.8" y1="364.1" x2="47.0" y2="358.5" stroke="#fff" stroke-opacity="0.14" stroke-width="0.5"/>
<line x1="47.0" y1="358.5" x2="41.0" y2="366.4" stroke="#fff" stroke-opacity="0.14" stroke-width="0.5"/>
<polygon points="81.0,389.6 94.7,394.2 99.5,386.0" fill="#5f92d2" stroke="#5f92d2" stroke-width="0.9" stroke-linejoin="round"/>
<line x1="81.0" y1="389.6" x2="94.7" y2="394.2" stroke="#fff" stroke-opacity="0.14" stroke-width="0.5"/>
<line x1="94.7" y1="394.2" x2="99.5" y2="386.0" stroke="#fff" stroke-opacity="0.14" stroke-width="0.5"/>
<polygon points="54.0,371.9 72.9,373.7 64.8,367.8 55.2,370.3" fill="#d66969" stroke="#d66969" stroke-width="0.9" stroke-linejoin="round"/>
<polygon points="64.8,367.8 59.8,364.1 55.2,370.3" fill="#aad072" stroke="#aad072" stroke-width="0.9" stroke-linejoin="round"/>
<line x1="72.9" y1="373.7" x2="59.8" y2="364.1" stroke="#fff" stroke-opacity="0.14" stroke-width="0.5"/>
<line x1="59.8" y1="364.1" x2="54.0" y2="371.9" stroke="#fff" stroke-opacity="0.14" stroke-width="0.5"/>
<polygon points="28.2,362.2 41.0,366.4 47.0,358.5" fill="#a9cf70" stroke="#a9cf70" stroke-width="0.9" stroke-linejoin="round"/>
<line x1="28.2" y1="362.2" x2="41.0" y2="366.4" stroke="#fff" stroke-opacity="0.14" stroke-width="0.5"/>
<line x1="41.0" y1="366.4" x2="47.0" y2="358.5" stroke="#fff" stroke-opacity="0.14" stroke-width="0.5"/>
<polygon points="94.7,394.2 108.8,397.1 113.1,392.1" fill="#5c90d1" stroke="#5c90d1" stroke-width="0.9" stroke-linejoin="round"/>
<line x1="94.7" y1="394.2" x2="108.8" y2="397.1" stroke="#fff" stroke-opacity="0.14" stroke-width="0.5"/>
<line x1="108.8" y1="397.1" x2="113.1" y2="392.1" stroke="#fff" stroke-opacity="0.14" stroke-width="0.5"/>
<polygon points="54.0,371.9 67.4,381.2 72.9,373.7" fill="#d66969" stroke="#d66969" stroke-width="0.9" stroke-linejoin="round"/>
<line x1="54.0" y1="371.9" x2="67.4" y2="381.2" stroke="#fff" stroke-opacity="0.14" stroke-width="0.5"/>
<line x1="67.4" y1="381.2" x2="72.9" y2="373.7" stroke="#fff" stroke-opacity="0.14" stroke-width="0.5"/>
<polygon points="51.5,370.8 54.0,371.9 55.2,370.3" fill="#d76a6a" stroke="#d76a6a" stroke-width="0.9" stroke-linejoin="round"/>
<polygon points="41.0,366.4 51.5,370.8 55.2,370.3 59.8,364.1" fill="#aad072" stroke="#aad072" stroke-width="0.9" stroke-linejoin="round"/>
<line x1="41.0" y1="366.4" x2="54.0" y2="371.9" stroke="#fff" stroke-opacity="0.14" stroke-width="0.5"/>
<line x1="54.0" y1="371.9" x2="59.8" y2="364.1" stroke="#fff" stroke-opacity="0.14" stroke-width="0.5"/>
<polygon points="108.8,397.1 123.3,399.2 127.2,393.4" fill="#4c85cc" stroke="#4c85cc" stroke-width="0.9" stroke-linejoin="round"/>
<line x1="108.8" y1="397.1" x2="123.3" y2="399.2" stroke="#fff" stroke-opacity="0.14" stroke-width="0.5"/>
<line x1="123.3" y1="399.2" x2="127.2" y2="393.4" stroke="#fff" stroke-opacity="0.14" stroke-width="0.5"/>
<text x="25.70" y="328.30" font-size="7.1" text-anchor="end" fill="#111" stroke="#111" stroke-width="0.45">120</text>
<text x="25.70" y="339.45" font-size="7.1" text-anchor="end" fill="#111" stroke="#111" stroke-width="0.45">100</text>
<text x="25.70" y="349.85" font-size="7.1" text-anchor="end" fill="#111" stroke="#111" stroke-width="0.45">80</text>
<text x="25.70" y="360.55" font-size="7.1" text-anchor="end" fill="#111" stroke="#111" stroke-width="0.45">60</text>
<text x="25.70" y="372.05" font-size="7.1" text-anchor="end" fill="#111" stroke="#111" stroke-width="0.45">40</text>
<text x="25.70" y="382.75" font-size="7.1" text-anchor="end" fill="#111" stroke="#111" stroke-width="0.45">20</text>
<text x="25.70" y="393.85" font-size="7.1" text-anchor="end" fill="#111" stroke="#111" stroke-width="0.45">0</text>
<text x="6.00" y="350.00" font-size="6.3" text-anchor="middle" fill="#111" stroke="#111" stroke-width="0.45" transform="rotate(-90 6.00 350.00)" textLength="64" lengthAdjust="spacingAndGlyphs">Viability, % of untreated</text>
<text x="0.60" y="307.20" font-size="11.5" text-anchor="start" font-weight="bold" fill="#111" stroke="#111" stroke-width="0.35">C</text>
<defs><linearGradient id="gim302" x1="0" y1="0" x2="1" y2="0"><stop offset="0" stop-color="#c8c8c8"/><stop offset="0.35" stop-color="#909090"/><stop offset="0.8" stop-color="#333"/><stop offset="1" stop-color="#111"/></linearGradient><linearGradient id="gim302p" x1="0" y1="1" x2="0.35" y2="0"><stop offset="0" stop-color="#111"/><stop offset="0.5" stop-color="#777"/><stop offset="1" stop-color="#ddd" stop-opacity="0.3"/></linearGradient></defs>
<polygon points="30.9,389.6 121.9,400.4 122.8,405.6 30.9,391.6" fill="url(#gim302)"/>
<polygon points="121.9,400.4 140.8,371.0 143.8,371.4 122.8,405.6" fill="url(#gim302p)"/>
<text x="33.80" y="402.60" font-size="8.6" text-anchor="start" font-style="italic" fill="#111" stroke="#111" stroke-width="0.45" transform="rotate(8.2 33.80 402.60)">Imatinib 0 to 10µM</text>
<text x="132.00" y="405.30" font-size="8.7" text-anchor="start" fill="#111" stroke="#111" stroke-width="0.45" transform="rotate(-55 132.00 405.30)">PD173074</text>
<text x="141.70" y="411.20" font-size="8.7" text-anchor="start" fill="#111" stroke="#111" stroke-width="0.45" transform="rotate(-55 141.70 411.20)">0 to 1µM</text>
<polyline points="28.52,536.16 66.50,511.97 145.89,519.77" fill="none" stroke="#333" stroke-width="1.1" stroke-linejoin="round" stroke-linecap="round"/>
<polyline points="28.13,526.68 66.31,503.95 146.02,511.13" fill="none" stroke="#333" stroke-width="1.1" stroke-linejoin="round" stroke-linecap="round"/>
<polyline points="27.73,517.11 66.13,495.87 146.14,502.43" fill="none" stroke="#333" stroke-width="1.1" stroke-linejoin="round" stroke-linecap="round"/>
<polyline points="27.32,507.45 65.94,487.74 146.28,493.66" fill="none" stroke="#333" stroke-width="1.1" stroke-linejoin="round" stroke-linecap="round"/>
<polyline points="26.92,497.70 65.75,479.53 146.41,484.81" fill="none" stroke="#333" stroke-width="1.1" stroke-linejoin="round" stroke-linecap="round"/>
<polyline points="26.51,487.86 65.56,471.27 146.54,475.88" fill="none" stroke="#333" stroke-width="1.1" stroke-linejoin="round" stroke-linecap="round"/>
<polyline points="26.09,477.93 65.37,462.94 146.67,466.88" fill="none" stroke="#333" stroke-width="1.1" stroke-linejoin="round" stroke-linecap="round"/>
<polygon points="60.7,471.2 76.3,468.5 65.5,468.8" fill="#d78638" stroke="#d78638" stroke-width="0.9" stroke-linejoin="round"/>
<line x1="76.3" y1="468.5" x2="65.5" y2="468.8" stroke="#fff" stroke-opacity="0.14" stroke-width="0.5"/>
<line x1="65.5" y1="468.8" x2="60.7" y2="471.2" stroke="#fff" stroke-opacity="0.14" stroke-width="0.5"/>
<polygon points="130.7,498.6 146.2,500.2 134.0,494.6" fill="#a6cd6b" stroke="#a6cd6b" stroke-width="0.9" stroke-linejoin="round"/>
<line x1="146.2" y1="500.2" x2="134.0" y2="494.6" stroke="#fff" stroke-opacity="0.14" stroke-width="0.5"/>
<line x1="134.0" y1="494.6" x2="130.7" y2="498.6" stroke="#fff" stroke-opacity="0.14" stroke-width="0.5"/>
<polygon points="60.7,471.2 71.7,469.6 76.3,468.5" fill="#d78638" stroke="#d78638" stroke-width="0.9" stroke-linejoin="round"/>
<line x1="60.7" y1="471.2" x2="71.7" y2="469.6" stroke="#fff" stroke-opacity="0.14" stroke-width="0.5"/>
<line x1="71.7" y1="469.6" x2="76.3" y2="468.5" stroke="#fff" stroke-opacity="0.14" stroke-width="0.5"/>
<polygon points="71.7,469.6 87.3,467.0 76.3,468.5" fill="#c07832" stroke="#c07832" stroke-width="0.9" stroke-linejoin="round"/>
<line x1="87.3" y1="467.0" x2="76.3" y2="468.5" stroke="#fff" stroke-opacity="0.14" stroke-width="0.5"/>
<line x1="76.3" y1="468.5" x2="71.7" y2="469.6" stroke="#fff" stroke-opacity="0.14" stroke-width="0.5"/>
<polygon points="130.7,498.6 143.2,504.1 146.2,500.2" fill="#a6cd6b" stroke="#a6cd6b" stroke-width="0.9" stroke-linejoin="round"/>
<line x1="130.7" y1="498.6" x2="143.2" y2="504.1" stroke="#fff" stroke-opacity="0.14" stroke-width="0.5"/>
<line x1="143.2" y1="504.1" x2="146.2" y2="500.2" stroke="#fff" stroke-opacity="0.14" stroke-width="0.5"/>
<polygon points="55.8,473.9 71.7,469.6 60.7,471.2" fill="#c47b33" stroke="#c47b33" stroke-width="0.9" stroke-linejoin="round"/>
<line x1="71.7" y1="469.6" x2="60.7" y2="471.2" stroke="#fff" stroke-opacity="0.14" stroke-width="0.5"/>
<line x1="60.7" y1="471.2" x2="55.8" y2="473.9" stroke="#fff" stroke-opacity="0.14" stroke-width="0.5"/>
<polygon points="83.0,467.6 98.7,466.3 87.3,467.0" fill="#c77c33" stroke="#c77c33" stroke-width="0.9" stroke-linejoin="round"/>
<line x1="98.7" y1="466.3" x2="87.3" y2="467.0" stroke="#fff" stroke-opacity="0.14" stroke-width="0.5"/>
<line x1="87.3" y1="467.0" x2="83.0" y2="467.6" stroke="#fff" stroke-opacity="0.14" stroke-width="0.5"/>
<polygon points="71.7,469.6 83.0,467.6 87.3,467.0" fill="#c07832" stroke="#c07832" stroke-width="0.9" stroke-linejoin="round"/>
<line x1="71.7" y1="469.6" x2="83.0" y2="467.6" stroke="#fff" stroke-opacity="0.14" stroke-width="0.5"/>
<line x1="83.0" y1="467.6" x2="87.3" y2="467.0" stroke="#fff" stroke-opacity="0.14" stroke-width="0.5"/>
<polygon points="132.2,493.0 134.0,494.6 132.6,492.7" fill="#a4cc68" stroke="#a4cc68" stroke-width="0.9" stroke-linejoin="round"/>
<polygon points="123.4,485.1 132.2,493.0 132.6,492.7 126.3,483.5" fill="#9471be" stroke="#9471be" stroke-width="0.9" stroke-linejoin="round"/>
<polygon points="118.5,480.7 123.4,485.1 126.3,483.5 122.1,477.4" fill="#52b8db" stroke="#52b8db" stroke-width="0.9" stroke-linejoin="round"/>
<line x1="134.0" y1="494.6" x2="122.1" y2="477.4" stroke="#fff" stroke-opacity="0.14" stroke-width="0.5"/>
<line x1="122.1" y1="477.4" x2="118.5" y2="480.7" stroke="#fff" stroke-opacity="0.14" stroke-width="0.5"/>
<polygon points="128.4,495.3 130.7,498.6 134.0,494.6 132.2,493.0" fill="#a4cc68" stroke="#a4cc68" stroke-width="0.9" stroke-linejoin="round"/>
<polygon points="122.0,485.9 128.4,495.3 132.2,493.0 123.4,485.1" fill="#9471be" stroke="#9471be" stroke-width="0.9" stroke-linejoin="round"/>
<polygon points="118.5,480.7 122.0,485.9 123.4,485.1" fill="#52b8db" stroke="#52b8db" stroke-width="0.9" stroke-linejoin="round"/>
<line x1="118.5" y1="480.7" x2="130.7" y2="498.6" stroke="#fff" stroke-opacity="0.14" stroke-width="0.5"/>
<line x1="130.7" y1="498.6" x2="134.0" y2="494.6" stroke="#fff" stroke-opacity="0.14" stroke-width="0.5"/>
<polygon points="127.2,502.9 143.2,504.1 130.7,498.6" fill="#a7ce6c" stroke="#a7ce6c" stroke-width="0.9" stroke-linejoin="round"/>
<line x1="143.2" y1="504.1" x2="130.7" y2="498.6" stroke="#fff" stroke-opacity="0.14" stroke-width="0.5"/>
<line x1="130.7" y1="498.6" x2="127.2" y2="502.9" stroke="#fff" stroke-opacity="0.14" stroke-width="0.5"/>
<polygon points="94.5,466.7 110.2,466.9 98.7,466.3" fill="#de8b3a" stroke="#de8b3a" stroke-width="0.9" stroke-linejoin="round"/>
<line x1="110.2" y1="466.9" x2="98.7" y2="466.3" stroke="#fff" stroke-opacity="0.14" stroke-width="0.5"/>
<line x1="98.7" y1="466.3" x2="94.5" y2="466.7" stroke="#fff" stroke-opacity="0.14" stroke-width="0.5"/>
<polygon points="55.8,473.9 66.9,470.6 71.7,469.6" fill="#c47b33" stroke="#c47b33" stroke-width="0.9" stroke-linejoin="round"/>
<line x1="55.8" y1="473.9" x2="66.9" y2="470.6" stroke="#fff" stroke-opacity="0.14" stroke-width="0.5"/>
<line x1="66.9" y1="470.6" x2="71.7" y2="469.6" stroke="#fff" stroke-opacity="0.14" stroke-width="0.5"/>
<polygon points="83.0,467.6 94.5,466.7 98.7,466.3" fill="#c77c33" stroke="#c77c33" stroke-width="0.9" stroke-linejoin="round"/>
<line x1="83.0" y1="467.6" x2="94.5" y2="466.7" stroke="#fff" stroke-opacity="0.14" stroke-width="0.5"/>
<line x1="94.5" y1="466.7" x2="98.7" y2="466.3" stroke="#fff" stroke-opacity="0.14" stroke-width="0.5"/>
<polygon points="117.9,474.9 122.1,477.4 118.6,474.3" fill="#51b8db" stroke="#51b8db" stroke-width="0.9" stroke-linejoin="round"/>
<polygon points="106.4,468.0 117.9,474.9 118.6,474.3 110.2,466.9" fill="#ef9d4e" stroke="#ef9d4e" stroke-width="0.9" stroke-linejoin="round"/>
<line x1="122.1" y1="477.4" x2="110.2" y2="466.9" stroke="#fff" stroke-opacity="0.14" stroke-width="0.5"/>
<line x1="110.2" y1="466.9" x2="106.4" y2="468.0" stroke="#fff" stroke-opacity="0.14" stroke-width="0.5"/>
<polygon points="66.9,470.6 83.0,467.6 71.7,469.6" fill="#b6712f" stroke="#b6712f" stroke-width="0.9" stroke-linejoin="round"/>
<line x1="83.0" y1="467.6" x2="71.7" y2="469.6" stroke="#fff" stroke-opacity="0.14" stroke-width="0.5"/>
<line x1="71.7" y1="469.6" x2="66.9" y2="470.6" stroke="#fff" stroke-opacity="0.14" stroke-width="0.5"/>
<polygon points="140.0,508.6 140.0,508.6 140.0,508.6" fill="#d56363" stroke="#d56363" stroke-width="0.9" stroke-linejoin="round"/>
<polygon points="127.2,502.9 140.0,508.6 143.2,504.1" fill="#a7ce6c" stroke="#a7ce6c" stroke-width="0.9" stroke-linejoin="round"/>
<line x1="127.2" y1="502.9" x2="140.0" y2="508.6" stroke="#fff" stroke-opacity="0.14" stroke-width="0.5"/>
<line x1="140.0" y1="508.6" x2="143.2" y2="504.1" stroke="#fff" stroke-opacity="0.14" stroke-width="0.5"/>
<polygon points="114.4,476.5 118.5,480.7 122.1,477.4 117.9,474.9" fill="#51b8db" stroke="#51b8db" stroke-width="0.9" stroke-linejoin="round"/>
<polygon points="106.4,468.0 114.4,476.5 117.9,474.9" fill="#ef9d4e" stroke="#ef9d4e" stroke-width="0.9" stroke-linejoin="round"/>
<line x1="106.4" y1="468.0" x2="118.5" y2="480.7" stroke="#fff" stroke-opacity="0.14" stroke-width="0.5"/>
<line x1="118.5" y1="480.7" x2="122.1" y2="477.4" stroke="#fff" stroke-opacity="0.14" stroke-width="0.5"/>
<polygon points="94.5,466.7 106.4,468.0 110.2,466.9" fill="#de8b3a" stroke="#de8b3a" stroke-width="0.9" stroke-linejoin="round"/>
<line x1="94.5" y1="466.7" x2="106.4" y2="468.0" stroke="#fff" stroke-opacity="0.14" stroke-width="0.5"/>
<line x1="106.4" y1="468.0" x2="110.2" y2="466.9" stroke="#fff" stroke-opacity="0.14" stroke-width="0.5"/>
<polygon points="50.5,476.2 66.9,470.6 55.8,473.9" fill="#b97330" stroke="#b97330" stroke-width="0.9" stroke-linejoin="round"/>
<line x1="66.9" y1="470.6" x2="55.8" y2="473.9" stroke="#fff" stroke-opacity="0.14" stroke-width="0.5"/>
<line x1="55.8" y1="473.9" x2="50.5" y2="476.2" stroke="#fff" stroke-opacity="0.14" stroke-width="0.5"/>
<polygon points="124.0,498.1 127.2,502.9 130.7,498.6 127.7,495.8" fill="#a4cc68" stroke="#a4cc68" stroke-width="0.9" stroke-linejoin="round"/>
<polygon points="117.6,488.4 124.0,498.1 127.7,495.8 118.8,487.8" fill="#9471be" stroke="#9471be" stroke-width="0.9" stroke-linejoin="round"/>
<polygon points="114.7,484.1 117.6,488.4 118.8,487.8" fill="#52b8db" stroke="#52b8db" stroke-width="0.9" stroke-linejoin="round"/>
<line x1="114.7" y1="484.1" x2="127.2" y2="502.9" stroke="#fff" stroke-opacity="0.14" stroke-width="0.5"/>
<line x1="127.2" y1="502.9" x2="130.7" y2="498.6" stroke="#fff" stroke-opacity="0.14" stroke-width="0.5"/>
<polygon points="127.7,495.8 130.7,498.6 128.4,495.3" fill="#a4cc68" stroke="#a4cc68" stroke-width="0.9" stroke-linejoin="round"/>
<polygon points="118.8,487.8 127.7,495.8 128.4,495.3 122.0,485.9" fill="#9471be" stroke="#9471be" stroke-width="0.9" stroke-linejoin="round"/>
<polygon points="114.7,484.1 118.8,487.8 122.0,485.9 118.5,480.7" fill="#52b8db" stroke="#52b8db" stroke-width="0.9" stroke-linejoin="round"/>
<line x1="130.7" y1="498.6" x2="118.5" y2="480.7" stroke="#fff" stroke-opacity="0.14" stroke-width="0.5"/>
<line x1="118.5" y1="480.7" x2="114.7" y2="484.1" stroke="#fff" stroke-opacity="0.14" stroke-width="0.5"/>
<polygon points="78.4,467.9 94.5,466.7 83.0,467.6" fill="#c67c33" stroke="#c67c33" stroke-width="0.9" stroke-linejoin="round"/>
<polygon points="78.4,467.9 78.4,467.9 78.4,467.9" fill="#8399b9" stroke="#8399b9" stroke-width="0.9" stroke-linejoin="round"/>
<line x1="94.5" y1="466.7" x2="83.0" y2="467.6" stroke="#fff" stroke-opacity="0.14" stroke-width="0.5"/>
<line x1="83.0" y1="467.6" x2="78.4" y2="467.9" stroke="#fff" stroke-opacity="0.14" stroke-width="0.5"/>
<polygon points="66.9,470.6 78.4,467.9 83.0,467.6" fill="#b6712f" stroke="#b6712f" stroke-width="0.9" stroke-linejoin="round"/>
<polygon points="78.4,467.9 78.4,467.9 78.4,467.9" fill="#788ca9" stroke="#788ca9" stroke-width="0.9" stroke-linejoin="round"/>
<line x1="66.9" y1="470.6" x2="78.4" y2="467.9" stroke="#fff" stroke-opacity="0.14" stroke-width="0.5"/>
<line x1="78.4" y1="467.9" x2="83.0" y2="467.6" stroke="#fff" stroke-opacity="0.14" stroke-width="0.5"/>
<polygon points="140.0,508.6 140.0,508.6 140.0,508.6" fill="#d46262" stroke="#d46262" stroke-width="0.9" stroke-linejoin="round"/>
<polygon points="123.6,507.4 140.0,508.6 127.2,502.9" fill="#a6cd6b" stroke="#a6cd6b" stroke-width="0.9" stroke-linejoin="round"/>
<line x1="140.0" y1="508.6" x2="127.2" y2="502.9" stroke="#fff" stroke-opacity="0.14" stroke-width="0.5"/>
<line x1="127.2" y1="502.9" x2="123.6" y2="507.4" stroke="#fff" stroke-opacity="0.14" stroke-width="0.5"/>
<polygon points="133.7,511.6 136.7,512.8 140.0,508.6 140.0,508.6" fill="#d46262" stroke="#d46262" stroke-width="0.9" stroke-linejoin="round"/>
<polygon points="123.6,507.4 133.7,511.6 140.0,508.6 140.0,508.6" fill="#a6cd6b" stroke="#a6cd6b" stroke-width="0.9" stroke-linejoin="round"/>
<line x1="123.6" y1="507.4" x2="136.7" y2="512.8" stroke="#fff" stroke-opacity="0.14" stroke-width="0.5"/>
<line x1="136.7" y1="512.8" x2="140.0" y2="508.6" stroke="#fff" stroke-opacity="0.14" stroke-width="0.5"/>
<polygon points="50.5,476.2 61.9,472.3 66.9,470.6" fill="#b97330" stroke="#b97330" stroke-width="0.9" stroke-linejoin="round"/>
<line x1="50.5" y1="476.2" x2="61.9" y2="472.3" stroke="#fff" stroke-opacity="0.14" stroke-width="0.5"/>
<line x1="61.9" y1="472.3" x2="66.9" y2="470.6" stroke="#fff" stroke-opacity="0.14" stroke-width="0.5"/>
<polygon points="99.3,467.7 106.4,468.0 94.5,466.7 93.8,466.8" fill="#e38e3b" stroke="#e38e3b" stroke-width="0.9" stroke-linejoin="round"/>
<polygon points="90.2,467.4 99.3,467.7 93.8,466.8" fill="#96afd4" stroke="#96afd4" stroke-width="0.9" stroke-linejoin="round"/>
<line x1="106.4" y1="468.0" x2="94.5" y2="466.7" stroke="#fff" stroke-opacity="0.14" stroke-width="0.5"/>
<line x1="94.5" y1="466.7" x2="90.2" y2="467.4" stroke="#fff" stroke-opacity="0.14" stroke-width="0.5"/>
<polygon points="113.6,477.2 118.5,480.7 114.4,476.5" fill="#50b7db" stroke="#50b7db" stroke-width="0.9" stroke-linejoin="round"/>
<polygon points="102.6,469.1 113.6,477.2 114.4,476.5 106.4,468.0 103.2,468.7" fill="#ef9d4c" stroke="#ef9d4c" stroke-width="0.9" stroke-linejoin="round"/>
<polygon points="102.3,468.9 102.6,469.1 103.2,468.7" fill="#a4bde0" stroke="#a4bde0" stroke-width="0.9" stroke-linejoin="round"/>
<line x1="118.5" y1="480.7" x2="106.4" y2="468.0" stroke="#fff" stroke-opacity="0.14" stroke-width="0.5"/>
<line x1="106.4" y1="468.0" x2="102.3" y2="468.9" stroke="#fff" stroke-opacity="0.14" stroke-width="0.5"/>
<polygon points="61.9,472.3 78.4,467.9 66.9,470.6" fill="#bf7731" stroke="#bf7731" stroke-width="0.9" stroke-linejoin="round"/>
<polygon points="78.4,467.9 78.4,467.9 78.4,467.9" fill="#7e94b2" stroke="#7e94b2" stroke-width="0.9" stroke-linejoin="round"/>
<line x1="78.4" y1="467.9" x2="66.9" y2="470.6" stroke="#fff" stroke-opacity="0.14" stroke-width="0.5"/>
<line x1="66.9" y1="470.6" x2="61.9" y2="472.3" stroke="#fff" stroke-opacity="0.14" stroke-width="0.5"/>
<polygon points="78.4,467.9 78.4,467.9 93.8,466.8 94.5,466.7" fill="#c67c33" stroke="#c67c33" stroke-width="0.9" stroke-linejoin="round"/>
<polygon points="78.4,467.9 90.2,467.4 93.8,466.8 78.4,467.9" fill="#8399b9" stroke="#8399b9" stroke-width="0.9" stroke-linejoin="round"/>
<line x1="78.4" y1="467.9" x2="90.2" y2="467.4" stroke="#fff" stroke-opacity="0.14" stroke-width="0.5"/>
<line x1="90.2" y1="467.4" x2="94.5" y2="466.7" stroke="#fff" stroke-opacity="0.14" stroke-width="0.5"/>
<polygon points="110.4,478.8 114.7,484.1 118.5,480.7 113.6,477.2" fill="#50b7db" stroke="#50b7db" stroke-width="0.9" stroke-linejoin="round"/>
<polygon points="102.5,469.2 110.4,478.8 113.6,477.2 102.6,469.1" fill="#ef9d4c" stroke="#ef9d4c" stroke-width="0.9" stroke-linejoin="round"/>
<polygon points="102.3,468.9 102.5,469.2 102.6,469.1" fill="#a4bde0" stroke="#a4bde0" stroke-width="0.9" stroke-linejoin="round"/>
<line x1="102.3" y1="468.9" x2="114.7" y2="484.1" stroke="#fff" stroke-opacity="0.14" stroke-width="0.5"/>
<line x1="114.7" y1="484.1" x2="118.5" y2="480.7" stroke="#fff" stroke-opacity="0.14" stroke-width="0.5"/>
<polygon points="119.3,501.0 123.6,507.4 127.2,502.9 122.7,498.8" fill="#a4cc68" stroke="#a4cc68" stroke-width="0.9" stroke-linejoin="round"/>
<polygon points="112.7,491.1 119.3,501.0 122.7,498.8 113.6,490.6" fill="#9471be" stroke="#9471be" stroke-width="0.9" stroke-linejoin="round"/>
<polygon points="110.8,488.1 112.7,491.1 113.6,490.6" fill="#52b8db" stroke="#52b8db" stroke-width="0.9" stroke-linejoin="round"/>
<line x1="110.8" y1="488.1" x2="123.6" y2="507.4" stroke="#fff" stroke-opacity="0.14" stroke-width="0.5"/>
<line x1="123.6" y1="507.4" x2="127.2" y2="502.9" stroke="#fff" stroke-opacity="0.14" stroke-width="0.5"/>
<polygon points="122.7,498.8 127.2,502.9 124.0,498.1" fill="#a4cc68" stroke="#a4cc68" stroke-width="0.9" stroke-linejoin="round"/>
<polygon points="113.6,490.6 122.7,498.8 124.0,498.1 117.6,488.4" fill="#9471be" stroke="#9471be" stroke-width="0.9" stroke-linejoin="round"/>
<polygon points="110.8,488.1 113.6,490.6 117.6,488.4 114.7,484.1" fill="#52b8db" stroke="#52b8db" stroke-width="0.9" stroke-linejoin="round"/>
<line x1="127.2" y1="502.9" x2="114.7" y2="484.1" stroke="#fff" stroke-opacity="0.14" stroke-width="0.5"/>
<line x1="114.7" y1="484.1" x2="110.8" y2="488.1" stroke="#fff" stroke-opacity="0.14" stroke-width="0.5"/>
<polygon points="45.0,478.6 61.9,472.3 50.5,476.2" fill="#bb7530" stroke="#bb7530" stroke-width="0.9" stroke-linejoin="round"/>
<line x1="61.9" y1="472.3" x2="50.5" y2="476.2" stroke="#fff" stroke-opacity="0.14" stroke-width="0.5"/>
<line x1="50.5" y1="476.2" x2="45.0" y2="478.6" stroke="#fff" stroke-opacity="0.14" stroke-width="0.5"/>
<polygon points="103.2,468.7 106.4,468.0 99.3,467.7" fill="#e38e3b" stroke="#e38e3b" stroke-width="0.9" stroke-linejoin="round"/>
<polygon points="90.2,467.4 102.3,468.9 103.2,468.7 99.3,467.7" fill="#96afd4" stroke="#96afd4" stroke-width="0.9" stroke-linejoin="round"/>
<line x1="90.2" y1="467.4" x2="102.3" y2="468.9" stroke="#fff" stroke-opacity="0.14" stroke-width="0.5"/>
<line x1="102.3" y1="468.9" x2="106.4" y2="468.0" stroke="#fff" stroke-opacity="0.14" stroke-width="0.5"/>
<polygon points="131.1,512.6 136.7,512.8 133.7,511.6" fill="#d46262" stroke="#d46262" stroke-width="0.9" stroke-linejoin="round"/>
<polygon points="119.8,512.2 131.1,512.6 133.7,511.6 123.6,507.4" fill="#a6cd6a" stroke="#a6cd6a" stroke-width="0.9" stroke-linejoin="round"/>
<line x1="136.7" y1="512.8" x2="123.6" y2="507.4" stroke="#fff" stroke-opacity="0.14" stroke-width="0.5"/>
<line x1="123.6" y1="507.4" x2="119.8" y2="512.2" stroke="#fff" stroke-opacity="0.14" stroke-width="0.5"/>
<polygon points="61.9,472.3 72.0,469.9 78.4,467.9 78.4,467.9" fill="#bf7731" stroke="#bf7731" stroke-width="0.9" stroke-linejoin="round"/>
<polygon points="72.0,469.9 73.6,469.5 78.4,467.9 78.4,467.9" fill="#7e94b2" stroke="#7e94b2" stroke-width="0.9" stroke-linejoin="round"/>
<line x1="61.9" y1="472.3" x2="73.6" y2="469.5" stroke="#fff" stroke-opacity="0.14" stroke-width="0.5"/>
<line x1="73.6" y1="469.5" x2="78.4" y2="467.9" stroke="#fff" stroke-opacity="0.14" stroke-width="0.5"/>
<polygon points="78.4,467.9 78.4,467.9 78.4,467.9" fill="#d68637" stroke="#d68637" stroke-width="0.9" stroke-linejoin="round"/>
<polygon points="73.6,469.5 90.2,467.4 78.4,467.9" fill="#8da6c8" stroke="#8da6c8" stroke-width="0.9" stroke-linejoin="round"/>
<line x1="90.2" y1="467.4" x2="78.4" y2="467.9" stroke="#fff" stroke-opacity="0.14" stroke-width="0.5"/>
<line x1="78.4" y1="467.9" x2="73.6" y2="469.5" stroke="#fff" stroke-opacity="0.14" stroke-width="0.5"/>
<polygon points="126.4,514.7 133.2,517.3 136.7,512.8 131.1,512.6" fill="#d46262" stroke="#d46262" stroke-width="0.9" stroke-linejoin="round"/>
<polygon points="119.8,512.2 126.4,514.7 131.1,512.6" fill="#a6cd6a" stroke="#a6cd6a" stroke-width="0.9" stroke-linejoin="round"/>
<line x1="119.8" y1="512.2" x2="133.2" y2="517.3" stroke="#fff" stroke-opacity="0.14" stroke-width="0.5"/>
<line x1="133.2" y1="517.3" x2="136.7" y2="512.8" stroke="#fff" stroke-opacity="0.14" stroke-width="0.5"/>
<polygon points="45.0,478.6 56.6,474.8 61.9,472.3" fill="#bb7530" stroke="#bb7530" stroke-width="0.9" stroke-linejoin="round"/>
<line x1="45.0" y1="478.6" x2="56.6" y2="474.8" stroke="#fff" stroke-opacity="0.14" stroke-width="0.5"/>
<line x1="56.6" y1="474.8" x2="61.9" y2="472.3" stroke="#fff" stroke-opacity="0.14" stroke-width="0.5"/>
<polygon points="85.6,468.8 102.3,468.9 90.2,467.4" fill="#9db8de" stroke="#9db8de" stroke-width="0.9" stroke-linejoin="round"/>
<line x1="102.3" y1="468.9" x2="90.2" y2="467.4" stroke="#fff" stroke-opacity="0.14" stroke-width="0.5"/>
<line x1="90.2" y1="467.4" x2="85.6" y2="468.8" stroke="#fff" stroke-opacity="0.14" stroke-width="0.5"/>
<polygon points="56.6,474.8 71.5,470.2 72.0,469.9 61.9,472.3" fill="#c87d34" stroke="#c87d34" stroke-width="0.9" stroke-linejoin="round"/>
<polygon points="71.5,470.2 73.6,469.5 72.0,469.9" fill="#839aba" stroke="#839aba" stroke-width="0.9" stroke-linejoin="round"/>
<line x1="73.6" y1="469.5" x2="61.9" y2="472.3" stroke="#fff" stroke-opacity="0.14" stroke-width="0.5"/>
<line x1="61.9" y1="472.3" x2="56.6" y2="474.8" stroke="#fff" stroke-opacity="0.14" stroke-width="0.5"/>
<polygon points="109.2,479.6 114.7,484.1 110.4,478.8" fill="#51b8db" stroke="#51b8db" stroke-width="0.9" stroke-linejoin="round"/>
<polygon points="98.8,471.3 109.2,479.6 110.4,478.8 102.5,469.2" fill="#ef9d4d" stroke="#ef9d4d" stroke-width="0.9" stroke-linejoin="round"/>
<polygon points="98.0,470.6 98.8,471.3 102.5,469.2 102.3,468.9" fill="#a5bde0" stroke="#a5bde0" stroke-width="0.9" stroke-linejoin="round"/>
<line x1="114.7" y1="484.1" x2="102.3" y2="468.9" stroke="#fff" stroke-opacity="0.14" stroke-width="0.5"/>
<line x1="102.3" y1="468.9" x2="98.0" y2="470.6" stroke="#fff" stroke-opacity="0.14" stroke-width="0.5"/>
<polygon points="73.6,469.5 85.6,468.8 90.2,467.4" fill="#8da6c8" stroke="#8da6c8" stroke-width="0.9" stroke-linejoin="round"/>
<line x1="73.6" y1="469.5" x2="85.6" y2="468.8" stroke="#fff" stroke-opacity="0.14" stroke-width="0.5"/>
<line x1="85.6" y1="468.8" x2="90.2" y2="467.4" stroke="#fff" stroke-opacity="0.14" stroke-width="0.5"/>
<polygon points="114.2,504.0 119.8,512.2 123.6,507.4 117.4,502.1" fill="#a5cd69" stroke="#a5cd69" stroke-width="0.9" stroke-linejoin="round"/>
<polygon points="107.3,493.8 114.2,504.0 117.4,502.1 107.6,493.7" fill="#9472be" stroke="#9472be" stroke-width="0.9" stroke-linejoin="round"/>
<polygon points="106.6,492.8 107.3,493.8 107.6,493.7" fill="#53b9db" stroke="#53b9db" stroke-width="0.9" stroke-linejoin="round"/>
<line x1="106.6" y1="492.8" x2="119.8" y2="512.2" stroke="#fff" stroke-opacity="0.14" stroke-width="0.5"/>
<line x1="119.8" y1="512.2" x2="123.6" y2="507.4" stroke="#fff" stroke-opacity="0.14" stroke-width="0.5"/>
<polygon points="105.7,481.2 110.8,488.1 114.7,484.1 109.2,479.6" fill="#51b8db" stroke="#51b8db" stroke-width="0.9" stroke-linejoin="round"/>
<polygon points="98.6,471.4 105.7,481.2 109.2,479.6 98.8,471.3" fill="#ef9d4d" stroke="#ef9d4d" stroke-width="0.9" stroke-linejoin="round"/>
<polygon points="98.0,470.6 98.6,471.4 98.8,471.3" fill="#a5bde0" stroke="#a5bde0" stroke-width="0.9" stroke-linejoin="round"/>
<line x1="98.0" y1="470.6" x2="110.8" y2="488.1" stroke="#fff" stroke-opacity="0.14" stroke-width="0.5"/>
<line x1="110.8" y1="488.1" x2="114.7" y2="484.1" stroke="#fff" stroke-opacity="0.14" stroke-width="0.5"/>
<polygon points="117.4,502.1 123.6,507.4 119.3,501.0" fill="#a5cd69" stroke="#a5cd69" stroke-width="0.9" stroke-linejoin="round"/>
<polygon points="107.6,493.7 117.4,502.1 119.3,501.0 112.7,491.1" fill="#9472be" stroke="#9472be" stroke-width="0.9" stroke-linejoin="round"/>
<polygon points="106.6,492.8 107.6,493.7 112.7,491.1 110.8,488.1" fill="#53b9db" stroke="#53b9db" stroke-width="0.9" stroke-linejoin="round"/>
<line x1="123.6" y1="507.4" x2="110.8" y2="488.1" stroke="#fff" stroke-opacity="0.14" stroke-width="0.5"/>
<line x1="110.8" y1="488.1" x2="106.6" y2="492.8" stroke="#fff" stroke-opacity="0.14" stroke-width="0.5"/>
<polygon points="39.1,481.3 56.6,474.8 45.0,478.6" fill="#c37a32" stroke="#c37a32" stroke-width="0.9" stroke-linejoin="round"/>
<line x1="56.6" y1="474.8" x2="45.0" y2="478.6" stroke="#fff" stroke-opacity="0.14" stroke-width="0.5"/>
<line x1="45.0" y1="478.6" x2="39.1" y2="481.3" stroke="#fff" stroke-opacity="0.14" stroke-width="0.5"/>
<polygon points="119.2,517.2 133.2,517.3 126.4,514.7" fill="#d45f5f" stroke="#d45f5f" stroke-width="0.9" stroke-linejoin="round"/>
<polygon points="115.7,517.2 119.2,517.2 126.4,514.7 119.8,512.2" fill="#a5cd69" stroke="#a5cd69" stroke-width="0.9" stroke-linejoin="round"/>
<line x1="133.2" y1="517.3" x2="119.8" y2="512.2" stroke="#fff" stroke-opacity="0.14" stroke-width="0.5"/>
<line x1="119.8" y1="512.2" x2="115.7" y2="517.2" stroke="#fff" stroke-opacity="0.14" stroke-width="0.5"/>
<polygon points="85.6,468.8 98.0,470.6 102.3,468.9" fill="#9db8de" stroke="#9db8de" stroke-width="0.9" stroke-linejoin="round"/>
<line x1="85.6" y1="468.8" x2="98.0" y2="470.6" stroke="#fff" stroke-opacity="0.14" stroke-width="0.5"/>
<line x1="98.0" y1="470.6" x2="102.3" y2="468.9" stroke="#fff" stroke-opacity="0.14" stroke-width="0.5"/>
<polygon points="56.6,474.8 67.7,472.2 71.5,470.2" fill="#c87d34" stroke="#c87d34" stroke-width="0.9" stroke-linejoin="round"/>
<polygon points="67.7,472.2 68.5,472.0 73.6,469.5 71.5,470.2" fill="#839aba" stroke="#839aba" stroke-width="0.9" stroke-linejoin="round"/>
<line x1="56.6" y1="474.8" x2="68.5" y2="472.0" stroke="#fff" stroke-opacity="0.14" stroke-width="0.5"/>
<line x1="68.5" y1="472.0" x2="73.6" y2="469.5" stroke="#fff" stroke-opacity="0.14" stroke-width="0.5"/>
<polygon points="68.5,472.0 85.6,468.8 73.6,469.5" fill="#94add1" stroke="#94add1" stroke-width="0.9" stroke-linejoin="round"/>
<line x1="85.6" y1="468.8" x2="73.6" y2="469.5" stroke="#fff" stroke-opacity="0.14" stroke-width="0.5"/>
<line x1="73.6" y1="469.5" x2="68.5" y2="472.0" stroke="#fff" stroke-opacity="0.14" stroke-width="0.5"/>
<polygon points="118.0,517.9 129.4,521.6 133.2,517.3 119.2,517.2" fill="#d45f5f" stroke="#d45f5f" stroke-width="0.9" stroke-linejoin="round"/>
<polygon points="115.7,517.2 118.0,517.9 119.2,517.2" fill="#a5cd69" stroke="#a5cd69" stroke-width="0.9" stroke-linejoin="round"/>
<line x1="115.7" y1="517.2" x2="129.4" y2="521.6" stroke="#fff" stroke-opacity="0.14" stroke-width="0.5"/>
<line x1="129.4" y1="521.6" x2="133.2" y2="517.3" stroke="#fff" stroke-opacity="0.14" stroke-width="0.5"/>
<polygon points="39.1,481.3 51.0,478.1 56.6,474.8" fill="#c37a32" stroke="#c37a32" stroke-width="0.9" stroke-linejoin="round"/>
<line x1="39.1" y1="481.3" x2="51.0" y2="478.1" stroke="#fff" stroke-opacity="0.14" stroke-width="0.5"/>
<line x1="51.0" y1="478.1" x2="56.6" y2="474.8" stroke="#fff" stroke-opacity="0.14" stroke-width="0.5"/>
<polygon points="51.0,478.1 67.6,472.3 67.7,472.2 56.6,474.8" fill="#d38436" stroke="#d38436" stroke-width="0.9" stroke-linejoin="round"/>
<polygon points="67.6,472.3 68.5,472.0 67.7,472.2" fill="#8ba3c4" stroke="#8ba3c4" stroke-width="0.9" stroke-linejoin="round"/>
<line x1="68.5" y1="472.0" x2="56.6" y2="474.8" stroke="#fff" stroke-opacity="0.14" stroke-width="0.5"/>
<line x1="56.6" y1="474.8" x2="51.0" y2="478.1" stroke="#fff" stroke-opacity="0.14" stroke-width="0.5"/>
<polygon points="108.7,507.2 115.7,517.2 119.8,512.2 111.6,505.5" fill="#a5cd69" stroke="#a5cd69" stroke-width="0.9" stroke-linejoin="round"/>
<polygon points="102.2,497.8 108.7,507.2 111.6,505.5" fill="#9472be" stroke="#9472be" stroke-width="0.9" stroke-linejoin="round"/>
<line x1="102.2" y1="497.8" x2="115.7" y2="517.2" stroke="#fff" stroke-opacity="0.14" stroke-width="0.5"/>
<line x1="115.7" y1="517.2" x2="119.8" y2="512.2" stroke="#fff" stroke-opacity="0.14" stroke-width="0.5"/>
<polygon points="80.8,471.2 98.0,470.6 85.6,468.8" fill="#9fbade" stroke="#9fbade" stroke-width="0.9" stroke-linejoin="round"/>
<line x1="98.0" y1="470.6" x2="85.6" y2="468.8" stroke="#fff" stroke-opacity="0.14" stroke-width="0.5"/>
<line x1="85.6" y1="468.8" x2="80.8" y2="471.2" stroke="#fff" stroke-opacity="0.14" stroke-width="0.5"/>
<polygon points="104.1,482.2 110.8,488.1 105.7,481.2" fill="#51b8db" stroke="#51b8db" stroke-width="0.9" stroke-linejoin="round"/>
<polygon points="94.3,473.6 104.1,482.2 105.7,481.2 98.6,471.4" fill="#ef9d4e" stroke="#ef9d4e" stroke-width="0.9" stroke-linejoin="round"/>
<polygon points="93.5,472.9 94.3,473.6 98.6,471.4 98.0,470.6" fill="#a5bde0" stroke="#a5bde0" stroke-width="0.9" stroke-linejoin="round"/>
<line x1="110.8" y1="488.1" x2="98.0" y2="470.6" stroke="#fff" stroke-opacity="0.14" stroke-width="0.5"/>
<line x1="98.0" y1="470.6" x2="93.5" y2="472.9" stroke="#fff" stroke-opacity="0.14" stroke-width="0.5"/>
<polygon points="111.6,505.5 119.8,512.2 114.2,504.0" fill="#a5cd69" stroke="#a5cd69" stroke-width="0.9" stroke-linejoin="round"/>
<polygon points="102.2,497.8 111.6,505.5 114.2,504.0 107.3,493.8 104.4,495.3" fill="#9472be" stroke="#9472be" stroke-width="0.9" stroke-linejoin="round"/>
<polygon points="107.3,493.8 106.6,492.8 104.4,495.3" fill="#53b9db" stroke="#53b9db" stroke-width="0.9" stroke-linejoin="round"/>
<line x1="119.8" y1="512.2" x2="106.6" y2="492.8" stroke="#fff" stroke-opacity="0.14" stroke-width="0.5"/>
<line x1="106.6" y1="492.8" x2="102.2" y2="497.8" stroke="#fff" stroke-opacity="0.14" stroke-width="0.5"/>
<polygon points="68.5,472.0 80.8,471.2 85.6,468.8" fill="#94add1" stroke="#94add1" stroke-width="0.9" stroke-linejoin="round"/>
<line x1="68.5" y1="472.0" x2="80.8" y2="471.2" stroke="#fff" stroke-opacity="0.14" stroke-width="0.5"/>
<line x1="80.8" y1="471.2" x2="85.6" y2="468.8" stroke="#fff" stroke-opacity="0.14" stroke-width="0.5"/>
<polygon points="100.6,483.7 106.6,492.8 110.8,488.1 104.1,482.2" fill="#51b8db" stroke="#51b8db" stroke-width="0.9" stroke-linejoin="round"/>
<polygon points="94.0,473.7 100.6,483.7 104.1,482.2 94.3,473.6" fill="#ef9d4e" stroke="#ef9d4e" stroke-width="0.9" stroke-linejoin="round"/>
<polygon points="93.5,472.9 94.0,473.7 94.3,473.6" fill="#a5bde0" stroke="#a5bde0" stroke-width="0.9" stroke-linejoin="round"/>
<line x1="93.5" y1="472.9" x2="106.6" y2="492.8" stroke="#fff" stroke-opacity="0.14" stroke-width="0.5"/>
<line x1="106.6" y1="492.8" x2="110.8" y2="488.1" stroke="#fff" stroke-opacity="0.14" stroke-width="0.5"/>
<polygon points="33.0,485.3 33.7,485.0 33.9,484.7" fill="#399bbd" stroke="#399bbd" stroke-width="0.9" stroke-linejoin="round"/>
<polygon points="33.7,485.0 51.0,478.1 39.1,481.3 33.9,484.7" fill="#d08236" stroke="#d08236" stroke-width="0.9" stroke-linejoin="round"/>
<line x1="51.0" y1="478.1" x2="39.1" y2="481.3" stroke="#fff" stroke-opacity="0.14" stroke-width="0.5"/>
<line x1="39.1" y1="481.3" x2="33.0" y2="485.3" stroke="#fff" stroke-opacity="0.14" stroke-width="0.5"/>
<polygon points="111.4,522.1 129.4,521.6 118.0,517.9 113.6,519.6" fill="#d35d5d" stroke="#d35d5d" stroke-width="0.9" stroke-linejoin="round"/>
<polygon points="118.0,517.9 115.7,517.2 113.6,519.6" fill="#a3cc66" stroke="#a3cc66" stroke-width="0.9" stroke-linejoin="round"/>
<line x1="129.4" y1="521.6" x2="115.7" y2="517.2" stroke="#fff" stroke-opacity="0.14" stroke-width="0.5"/>
<line x1="115.7" y1="517.2" x2="111.4" y2="522.1" stroke="#fff" stroke-opacity="0.14" stroke-width="0.5"/>
<polygon points="80.8,471.2 93.5,472.9 98.0,470.6" fill="#9fbade" stroke="#9fbade" stroke-width="0.9" stroke-linejoin="round"/>
<line x1="80.8" y1="471.2" x2="93.5" y2="472.9" stroke="#fff" stroke-opacity="0.14" stroke-width="0.5"/>
<line x1="93.5" y1="472.9" x2="98.0" y2="470.6" stroke="#fff" stroke-opacity="0.14" stroke-width="0.5"/>
<polygon points="51.0,478.1 63.2,475.5 67.5,472.7 67.6,472.3" fill="#d38436" stroke="#d38436" stroke-width="0.9" stroke-linejoin="round"/>
<polygon points="67.5,472.7 68.5,472.0 67.6,472.3" fill="#8ba3c4" stroke="#8ba3c4" stroke-width="0.9" stroke-linejoin="round"/>
<line x1="51.0" y1="478.1" x2="63.2" y2="475.5" stroke="#fff" stroke-opacity="0.14" stroke-width="0.5"/>
<line x1="63.2" y1="475.5" x2="68.5" y2="472.0" stroke="#fff" stroke-opacity="0.14" stroke-width="0.5"/>
<polygon points="111.4,522.1 125.5,526.1 129.4,521.6" fill="#d35d5d" stroke="#d35d5d" stroke-width="0.9" stroke-linejoin="round"/>
<line x1="111.4" y1="522.1" x2="125.5" y2="526.1" stroke="#fff" stroke-opacity="0.14" stroke-width="0.5"/>
<line x1="125.5" y1="526.1" x2="129.4" y2="521.6" stroke="#fff" stroke-opacity="0.14" stroke-width="0.5"/>
<polygon points="63.2,475.5 69.7,473.9 67.5,472.7" fill="#e6903c" stroke="#e6903c" stroke-width="0.9" stroke-linejoin="round"/>
<polygon points="69.7,473.9 80.8,471.2 68.5,472.0 67.5,472.7" fill="#98b2d7" stroke="#98b2d7" stroke-width="0.9" stroke-linejoin="round"/>
<line x1="80.8" y1="471.2" x2="68.5" y2="472.0" stroke="#fff" stroke-opacity="0.14" stroke-width="0.5"/>
<line x1="68.5" y1="472.0" x2="63.2" y2="475.5" stroke="#fff" stroke-opacity="0.14" stroke-width="0.5"/>
<polygon points="33.0,485.3 33.6,485.1 33.7,485.0" fill="#399bbd" stroke="#399bbd" stroke-width="0.9" stroke-linejoin="round"/>
<polygon points="33.6,485.1 45.1,482.1 51.0,478.1 33.7,485.0" fill="#d08236" stroke="#d08236" stroke-width="0.9" stroke-linejoin="round"/>
<line x1="33.0" y1="485.3" x2="45.1" y2="482.1" stroke="#fff" stroke-opacity="0.14" stroke-width="0.5"/>
<line x1="45.1" y1="482.1" x2="51.0" y2="478.1" stroke="#fff" stroke-opacity="0.14" stroke-width="0.5"/>
<polygon points="111.0,521.5 111.4,522.1 113.6,519.6" fill="#d45f5f" stroke="#d45f5f" stroke-width="0.9" stroke-linejoin="round"/>
<polygon points="103.1,510.6 111.0,521.5 113.6,519.6 115.7,517.2 105.3,509.2" fill="#a5cd69" stroke="#a5cd69" stroke-width="0.9" stroke-linejoin="round"/>
<polygon points="97.5,503.1 103.1,510.6 105.3,509.2" fill="#9472be" stroke="#9472be" stroke-width="0.9" stroke-linejoin="round"/>
<line x1="97.5" y1="503.1" x2="111.4" y2="522.1" stroke="#fff" stroke-opacity="0.14" stroke-width="0.5"/>
<line x1="111.4" y1="522.1" x2="115.7" y2="517.2" stroke="#fff" stroke-opacity="0.14" stroke-width="0.5"/>
<polygon points="45.1,482.1 63.2,475.5 51.0,478.1" fill="#dd8a39" stroke="#dd8a39" stroke-width="0.9" stroke-linejoin="round"/>
<line x1="63.2" y1="475.5" x2="51.0" y2="478.1" stroke="#fff" stroke-opacity="0.14" stroke-width="0.5"/>
<line x1="51.0" y1="478.1" x2="45.1" y2="482.1" stroke="#fff" stroke-opacity="0.14" stroke-width="0.5"/>
<polygon points="105.3,509.2 115.7,517.2 108.7,507.2" fill="#a5cd69" stroke="#a5cd69" stroke-width="0.9" stroke-linejoin="round"/>
<polygon points="97.5,503.1 105.3,509.2 108.7,507.2 102.2,497.8" fill="#9472be" stroke="#9472be" stroke-width="0.9" stroke-linejoin="round"/>
<line x1="115.7" y1="517.2" x2="102.2" y2="497.8" stroke="#fff" stroke-opacity="0.14" stroke-width="0.5"/>
<line x1="102.2" y1="497.8" x2="97.5" y2="503.1" stroke="#fff" stroke-opacity="0.14" stroke-width="0.5"/>
<polygon points="98.4,485.0 106.6,492.8 100.6,483.7" fill="#51b8db" stroke="#51b8db" stroke-width="0.9" stroke-linejoin="round"/>
<polygon points="89.0,476.1 98.4,485.0 100.6,483.7 94.0,473.7" fill="#ef9d4e" stroke="#ef9d4e" stroke-width="0.9" stroke-linejoin="round"/>
<polygon points="88.8,475.8 89.0,476.1 94.0,473.7 93.5,472.9" fill="#a5bde0" stroke="#a5bde0" stroke-width="0.9" stroke-linejoin="round"/>
<line x1="106.6" y1="492.8" x2="93.5" y2="472.9" stroke="#fff" stroke-opacity="0.14" stroke-width="0.5"/>
<line x1="93.5" y1="472.9" x2="88.8" y2="475.8" stroke="#fff" stroke-opacity="0.14" stroke-width="0.5"/>
<polygon points="101.6,496.8 102.2,497.8 104.4,495.3" fill="#9370bd" stroke="#9370bd" stroke-width="0.9" stroke-linejoin="round"/>
<polygon points="95.2,486.4 101.6,496.8 104.4,495.3 106.6,492.8 98.4,485.0" fill="#51b8db" stroke="#51b8db" stroke-width="0.9" stroke-linejoin="round"/>
<polygon points="88.9,476.1 95.2,486.4 98.4,485.0 89.0,476.1" fill="#ef9d4e" stroke="#ef9d4e" stroke-width="0.9" stroke-linejoin="round"/>
<polygon points="88.8,475.8 88.9,476.1 89.0,476.1" fill="#a5bde0" stroke="#a5bde0" stroke-width="0.9" stroke-linejoin="round"/>
<line x1="88.8" y1="475.8" x2="102.2" y2="497.8" stroke="#fff" stroke-opacity="0.14" stroke-width="0.5"/>
<line x1="102.2" y1="497.8" x2="106.6" y2="492.8" stroke="#fff" stroke-opacity="0.14" stroke-width="0.5"/>
<polygon points="75.8,474.3 93.5,472.9 80.8,471.2" fill="#a0badf" stroke="#a0badf" stroke-width="0.9" stroke-linejoin="round"/>
<line x1="93.5" y1="472.9" x2="80.8" y2="471.2" stroke="#fff" stroke-opacity="0.14" stroke-width="0.5"/>
<line x1="80.8" y1="471.2" x2="75.8" y2="474.3" stroke="#fff" stroke-opacity="0.14" stroke-width="0.5"/>
<polygon points="26.5,488.6 29.5,487.6 33.6,485.1 33.0,485.3" fill="#399abb" stroke="#399abb" stroke-width="0.9" stroke-linejoin="round"/>
<polygon points="29.5,487.6 45.1,482.1 33.6,485.1" fill="#ce8135" stroke="#ce8135" stroke-width="0.9" stroke-linejoin="round"/>
<line x1="45.1" y1="482.1" x2="33.0" y2="485.3" stroke="#fff" stroke-opacity="0.14" stroke-width="0.5"/>
<line x1="33.0" y1="485.3" x2="26.5" y2="488.6" stroke="#fff" stroke-opacity="0.14" stroke-width="0.5"/>
<polygon points="63.2,475.5 69.4,474.9 69.7,473.9" fill="#e6903c" stroke="#e6903c" stroke-width="0.9" stroke-linejoin="round"/>
<polygon points="69.4,474.9 75.8,474.3 80.8,471.2 69.7,473.9" fill="#98b2d7" stroke="#98b2d7" stroke-width="0.9" stroke-linejoin="round"/>
<line x1="63.2" y1="475.5" x2="75.8" y2="474.3" stroke="#fff" stroke-opacity="0.14" stroke-width="0.5"/>
<line x1="75.8" y1="474.3" x2="80.8" y2="471.2" stroke="#fff" stroke-opacity="0.14" stroke-width="0.5"/>
<polygon points="106.9,526.7 125.5,526.1 111.4,522.1" fill="#d35b5b" stroke="#d35b5b" stroke-width="0.9" stroke-linejoin="round"/>
<line x1="125.5" y1="526.1" x2="111.4" y2="522.1" stroke="#fff" stroke-opacity="0.14" stroke-width="0.5"/>
<line x1="111.4" y1="522.1" x2="106.9" y2="526.7" stroke="#fff" stroke-opacity="0.14" stroke-width="0.5"/>
<polygon points="45.1,482.1 57.6,480.0 63.2,475.5" fill="#dd8a39" stroke="#dd8a39" stroke-width="0.9" stroke-linejoin="round"/>
<line x1="45.1" y1="482.1" x2="57.6" y2="480.0" stroke="#fff" stroke-opacity="0.14" stroke-width="0.5"/>
<line x1="57.6" y1="480.0" x2="63.2" y2="475.5" stroke="#fff" stroke-opacity="0.14" stroke-width="0.5"/>
<polygon points="106.9,526.7 121.3,530.9 125.5,526.1" fill="#d35b5b" stroke="#d35b5b" stroke-width="0.9" stroke-linejoin="round"/>
<line x1="106.9" y1="526.7" x2="121.3" y2="530.9" stroke="#fff" stroke-opacity="0.14" stroke-width="0.5"/>
<line x1="121.3" y1="530.9" x2="125.5" y2="526.1" stroke="#fff" stroke-opacity="0.14" stroke-width="0.5"/>
<polygon points="75.8,474.3 88.8,475.8 93.5,472.9" fill="#a0badf" stroke="#a0badf" stroke-width="0.9" stroke-linejoin="round"/>
<line x1="75.8" y1="474.3" x2="88.8" y2="475.8" stroke="#fff" stroke-opacity="0.14" stroke-width="0.5"/>
<line x1="88.8" y1="475.8" x2="93.5" y2="472.9" stroke="#fff" stroke-opacity="0.14" stroke-width="0.5"/>
<polygon points="57.6,480.0 71.3,475.7 69.4,474.9 63.2,475.5" fill="#e9913c" stroke="#e9913c" stroke-width="0.9" stroke-linejoin="round"/>
<polygon points="71.3,475.7 75.8,474.3 69.4,474.9" fill="#99b4d9" stroke="#99b4d9" stroke-width="0.9" stroke-linejoin="round"/>
<line x1="75.8" y1="474.3" x2="63.2" y2="475.5" stroke="#fff" stroke-opacity="0.14" stroke-width="0.5"/>
<line x1="63.2" y1="475.5" x2="57.6" y2="480.0" stroke="#fff" stroke-opacity="0.14" stroke-width="0.5"/>
<polygon points="26.5,488.6 29.2,488.1 29.5,487.6" fill="#399abb" stroke="#399abb" stroke-width="0.9" stroke-linejoin="round"/>
<polygon points="29.2,488.1 38.9,486.1 45.1,482.1 29.5,487.6" fill="#ce8135" stroke="#ce8135" stroke-width="0.9" stroke-linejoin="round"/>
<line x1="26.5" y1="488.6" x2="38.9" y2="486.1" stroke="#fff" stroke-opacity="0.14" stroke-width="0.5"/>
<line x1="38.9" y1="486.1" x2="45.1" y2="482.1" stroke="#fff" stroke-opacity="0.14" stroke-width="0.5"/>
<polygon points="106.0,525.5 106.9,526.7 111.4,522.1 110.8,521.6" fill="#d45f5f" stroke="#d45f5f" stroke-width="0.9" stroke-linejoin="round"/>
<polygon points="97.0,514.2 106.0,525.5 110.8,521.6 98.8,513.0" fill="#a5cd69" stroke="#a5cd69" stroke-width="0.9" stroke-linejoin="round"/>
<polygon points="92.6,508.6 97.0,514.2 98.8,513.0" fill="#9472be" stroke="#9472be" stroke-width="0.9" stroke-linejoin="round"/>
<line x1="92.6" y1="508.6" x2="106.9" y2="526.7" stroke="#fff" stroke-opacity="0.14" stroke-width="0.5"/>
<line x1="106.9" y1="526.7" x2="111.4" y2="522.1" stroke="#fff" stroke-opacity="0.14" stroke-width="0.5"/>
<polygon points="110.8,521.6 111.4,522.1 111.0,521.5" fill="#d45f5f" stroke="#d45f5f" stroke-width="0.9" stroke-linejoin="round"/>
<polygon points="98.8,513.0 110.8,521.6 111.0,521.5 103.1,510.6" fill="#a5cd69" stroke="#a5cd69" stroke-width="0.9" stroke-linejoin="round"/>
<polygon points="92.6,508.6 98.8,513.0 103.1,510.6 97.5,503.1" fill="#9472be" stroke="#9472be" stroke-width="0.9" stroke-linejoin="round"/>
<line x1="111.4" y1="522.1" x2="97.5" y2="503.1" stroke="#fff" stroke-opacity="0.14" stroke-width="0.5"/>
<line x1="97.5" y1="503.1" x2="92.6" y2="508.6" stroke="#fff" stroke-opacity="0.14" stroke-width="0.5"/>
<polygon points="38.9,486.1 57.6,480.0 45.1,482.1" fill="#e38e3b" stroke="#e38e3b" stroke-width="0.9" stroke-linejoin="round"/>
<line x1="57.6" y1="480.0" x2="45.1" y2="482.1" stroke="#fff" stroke-opacity="0.14" stroke-width="0.5"/>
<line x1="45.1" y1="482.1" x2="38.9" y2="486.1" stroke="#fff" stroke-opacity="0.14" stroke-width="0.5"/>
<polygon points="95.7,499.9 97.5,503.1 102.2,497.8 101.3,496.9" fill="#9370bd" stroke="#9370bd" stroke-width="0.9" stroke-linejoin="round"/>
<polygon points="89.5,489.2 95.7,499.9 101.3,496.9 92.4,487.9" fill="#51b8db" stroke="#51b8db" stroke-width="0.9" stroke-linejoin="round"/>
<polygon points="83.7,479.2 89.5,489.2 92.4,487.9" fill="#ef9d4d" stroke="#ef9d4d" stroke-width="0.9" stroke-linejoin="round"/>
<line x1="83.7" y1="479.2" x2="97.5" y2="503.1" stroke="#fff" stroke-opacity="0.14" stroke-width="0.5"/>
<line x1="97.5" y1="503.1" x2="102.2" y2="497.8" stroke="#fff" stroke-opacity="0.14" stroke-width="0.5"/>
<polygon points="101.3,496.9 102.2,497.8 101.6,496.8" fill="#9370bd" stroke="#9370bd" stroke-width="0.9" stroke-linejoin="round"/>
<polygon points="92.4,487.9 101.3,496.9 101.6,496.8 95.2,486.4" fill="#51b8db" stroke="#51b8db" stroke-width="0.9" stroke-linejoin="round"/>
<polygon points="83.7,479.2 92.4,487.9 95.2,486.4 88.9,476.1 87.1,476.9" fill="#ef9d4d" stroke="#ef9d4d" stroke-width="0.9" stroke-linejoin="round"/>
<polygon points="88.9,476.1 88.8,475.8 87.1,476.9" fill="#a5bde0" stroke="#a5bde0" stroke-width="0.9" stroke-linejoin="round"/>
<line x1="102.2" y1="497.8" x2="88.8" y2="475.8" stroke="#fff" stroke-opacity="0.14" stroke-width="0.5"/>
<line x1="88.8" y1="475.8" x2="83.7" y2="479.2" stroke="#fff" stroke-opacity="0.14" stroke-width="0.5"/>
<polygon points="57.6,480.0 70.4,478.3 72.3,477.0 71.3,475.7" fill="#e9913c" stroke="#e9913c" stroke-width="0.9" stroke-linejoin="round"/>
<polygon points="72.3,477.0 75.8,474.3 71.3,475.7" fill="#99b4d9" stroke="#99b4d9" stroke-width="0.9" stroke-linejoin="round"/>
<line x1="57.6" y1="480.0" x2="70.4" y2="478.3" stroke="#fff" stroke-opacity="0.14" stroke-width="0.5"/>
<line x1="70.4" y1="478.3" x2="75.8" y2="474.3" stroke="#fff" stroke-opacity="0.14" stroke-width="0.5"/>
<polygon points="70.4,478.3 82.7,476.7 72.3,477.0" fill="#ee9946" stroke="#ee9946" stroke-width="0.9" stroke-linejoin="round"/>
<polygon points="82.7,476.7 88.8,475.8 75.8,474.3 72.3,477.0" fill="#a1bbdf" stroke="#a1bbdf" stroke-width="0.9" stroke-linejoin="round"/>
<line x1="88.8" y1="475.8" x2="75.8" y2="474.3" stroke="#fff" stroke-opacity="0.14" stroke-width="0.5"/>
<line x1="75.8" y1="474.3" x2="70.4" y2="478.3" stroke="#fff" stroke-opacity="0.14" stroke-width="0.5"/>
<polygon points="38.9,486.1 51.7,484.7 57.6,480.0" fill="#e38e3b" stroke="#e38e3b" stroke-width="0.9" stroke-linejoin="round"/>
<line x1="38.9" y1="486.1" x2="51.7" y2="484.7" stroke="#fff" stroke-opacity="0.14" stroke-width="0.5"/>
<line x1="51.7" y1="484.7" x2="57.6" y2="480.0" stroke="#fff" stroke-opacity="0.14" stroke-width="0.5"/>
<polygon points="51.7,484.7 70.4,478.3 57.6,480.0" fill="#e38e3b" stroke="#e38e3b" stroke-width="0.9" stroke-linejoin="round"/>
<line x1="70.4" y1="478.3" x2="57.6" y2="480.0" stroke="#fff" stroke-opacity="0.14" stroke-width="0.5"/>
<line x1="57.6" y1="480.0" x2="51.7" y2="484.7" stroke="#fff" stroke-opacity="0.14" stroke-width="0.5"/>
<polygon points="70.4,478.3 83.7,479.2 87.1,476.9 82.7,476.7" fill="#ee9946" stroke="#ee9946" stroke-width="0.9" stroke-linejoin="round"/>
<polygon points="87.1,476.9 88.8,475.8 82.7,476.7" fill="#a1bbdf" stroke="#a1bbdf" stroke-width="0.9" stroke-linejoin="round"/>
<line x1="70.4" y1="478.3" x2="83.7" y2="479.2" stroke="#fff" stroke-opacity="0.14" stroke-width="0.5"/>
<line x1="83.7" y1="479.2" x2="88.8" y2="475.8" stroke="#fff" stroke-opacity="0.14" stroke-width="0.5"/>
<polygon points="89.6,503.2 92.6,508.6 97.5,503.1 94.9,500.3" fill="#9370bd" stroke="#9370bd" stroke-width="0.9" stroke-linejoin="round"/>
<polygon points="83.5,492.2 89.6,503.2 94.9,500.3 86.1,491.0" fill="#51b8db" stroke="#51b8db" stroke-width="0.9" stroke-linejoin="round"/>
<polygon points="78.4,483.0 83.5,492.2 86.1,491.0" fill="#ef9d4d" stroke="#ef9d4d" stroke-width="0.9" stroke-linejoin="round"/>
<line x1="78.4" y1="483.0" x2="92.6" y2="508.6" stroke="#fff" stroke-opacity="0.14" stroke-width="0.5"/>
<line x1="92.6" y1="508.6" x2="97.5" y2="503.1" stroke="#fff" stroke-opacity="0.14" stroke-width="0.5"/>
<polygon points="94.9,500.3 97.5,503.1 95.7,499.9" fill="#9370bd" stroke="#9370bd" stroke-width="0.9" stroke-linejoin="round"/>
<polygon points="86.1,491.0 94.9,500.3 95.7,499.9 89.5,489.2" fill="#51b8db" stroke="#51b8db" stroke-width="0.9" stroke-linejoin="round"/>
<polygon points="78.4,483.0 86.1,491.0 89.5,489.2 83.7,479.2" fill="#ef9d4d" stroke="#ef9d4d" stroke-width="0.9" stroke-linejoin="round"/>
<line x1="97.5" y1="503.1" x2="83.7" y2="479.2" stroke="#fff" stroke-opacity="0.14" stroke-width="0.5"/>
<line x1="83.7" y1="479.2" x2="78.4" y2="483.0" stroke="#fff" stroke-opacity="0.14" stroke-width="0.5"/>
<polygon points="51.7,484.7 64.8,482.6 70.4,478.3" fill="#e38e3b" stroke="#e38e3b" stroke-width="0.9" stroke-linejoin="round"/>
<line x1="51.7" y1="484.7" x2="64.8" y2="482.6" stroke="#fff" stroke-opacity="0.14" stroke-width="0.5"/>
<line x1="64.8" y1="482.6" x2="70.4" y2="478.3" stroke="#fff" stroke-opacity="0.14" stroke-width="0.5"/>
<polygon points="64.8,482.6 83.7,479.2 70.4,478.3" fill="#ee9843" stroke="#ee9843" stroke-width="0.9" stroke-linejoin="round"/>
<line x1="83.7" y1="479.2" x2="70.4" y2="478.3" stroke="#fff" stroke-opacity="0.14" stroke-width="0.5"/>
<line x1="70.4" y1="478.3" x2="64.8" y2="482.6" stroke="#fff" stroke-opacity="0.14" stroke-width="0.5"/>
<polygon points="64.8,482.6 78.4,483.0 83.7,479.2" fill="#ee9843" stroke="#ee9843" stroke-width="0.9" stroke-linejoin="round"/>
<line x1="64.8" y1="482.6" x2="78.4" y2="483.0" stroke="#fff" stroke-opacity="0.14" stroke-width="0.5"/>
<line x1="78.4" y1="483.0" x2="83.7" y2="479.2" stroke="#fff" stroke-opacity="0.14" stroke-width="0.5"/>
<text x="25.70" y="478.90" font-size="7.1" text-anchor="end" fill="#111" stroke="#111" stroke-width="0.45">120</text>
<text x="25.70" y="490.05" font-size="7.1" text-anchor="end" fill="#111" stroke="#111" stroke-width="0.45">100</text>
<text x="25.70" y="500.45" font-size="7.1" text-anchor="end" fill="#111" stroke="#111" stroke-width="0.45">80</text>
<text x="25.70" y="511.15" font-size="7.1" text-anchor="end" fill="#111" stroke="#111" stroke-width="0.45">60</text>
<text x="25.70" y="522.65" font-size="7.1" text-anchor="end" fill="#111" stroke="#111" stroke-width="0.45">40</text>
<text x="25.70" y="533.35" font-size="7.1" text-anchor="end" fill="#111" stroke="#111" stroke-width="0.45">20</text>
<text x="25.70" y="544.45" font-size="7.1" text-anchor="end" fill="#111" stroke="#111" stroke-width="0.45">0</text>
<text x="6.00" y="500.00" font-size="6.3" text-anchor="middle" fill="#111" stroke="#111" stroke-width="0.45" transform="rotate(-90 6.00 500.00)" textLength="64" lengthAdjust="spacingAndGlyphs">Viability, % of untreated</text>
<text x="1.20" y="456.80" font-size="11.5" text-anchor="start" font-weight="bold" fill="#111" stroke="#111" stroke-width="0.35">D</text>
<defs><linearGradient id="gim452" x1="0" y1="0" x2="1" y2="0"><stop offset="0" stop-color="#c8c8c8"/><stop offset="0.35" stop-color="#909090"/><stop offset="0.8" stop-color="#333"/><stop offset="1" stop-color="#111"/></linearGradient><linearGradient id="gim452p" x1="0" y1="1" x2="0.35" y2="0"><stop offset="0" stop-color="#111"/><stop offset="0.5" stop-color="#777"/><stop offset="1" stop-color="#ddd" stop-opacity="0.3"/></linearGradient></defs>
<polygon points="30.0,537.2 120.0,547.8 120.9,553.0 30.0,539.2" fill="url(#gim452)"/>
<polygon points="120.0,547.8 140.7,518.9 143.7,519.3 120.9,553.0" fill="url(#gim452p)"/>
<text x="33.20" y="551.00" font-size="8.6" text-anchor="start" font-style="italic" fill="#111" stroke="#111" stroke-width="0.45" transform="rotate(8.2 33.20 551.00)">Imatinib 0 to 10µM</text>
<text x="129.20" y="555.00" font-size="8.7" text-anchor="start" fill="#111" stroke="#111" stroke-width="0.45" transform="rotate(-55 129.20 555.00)">PD173074</text>
<text x="138.90" y="561.80" font-size="8.7" text-anchor="start" fill="#111" stroke="#111" stroke-width="0.45" transform="rotate(-55 138.90 561.80)">0 to 1µM</text>
<text x="79.70" y="299.90" font-size="9.4" text-anchor="start" fill="#111" stroke="#111" stroke-width="0.45">K1</text>
<polygon points="73.8,440.3 96.2,440.3 96.2,455.2 73.8,455.2" fill="#fff200"/>
<text x="78.80" y="451.60" font-size="9.4" text-anchor="start" fill="#111" stroke="#111" stroke-width="0.45">K2</text></svg></body></html>
